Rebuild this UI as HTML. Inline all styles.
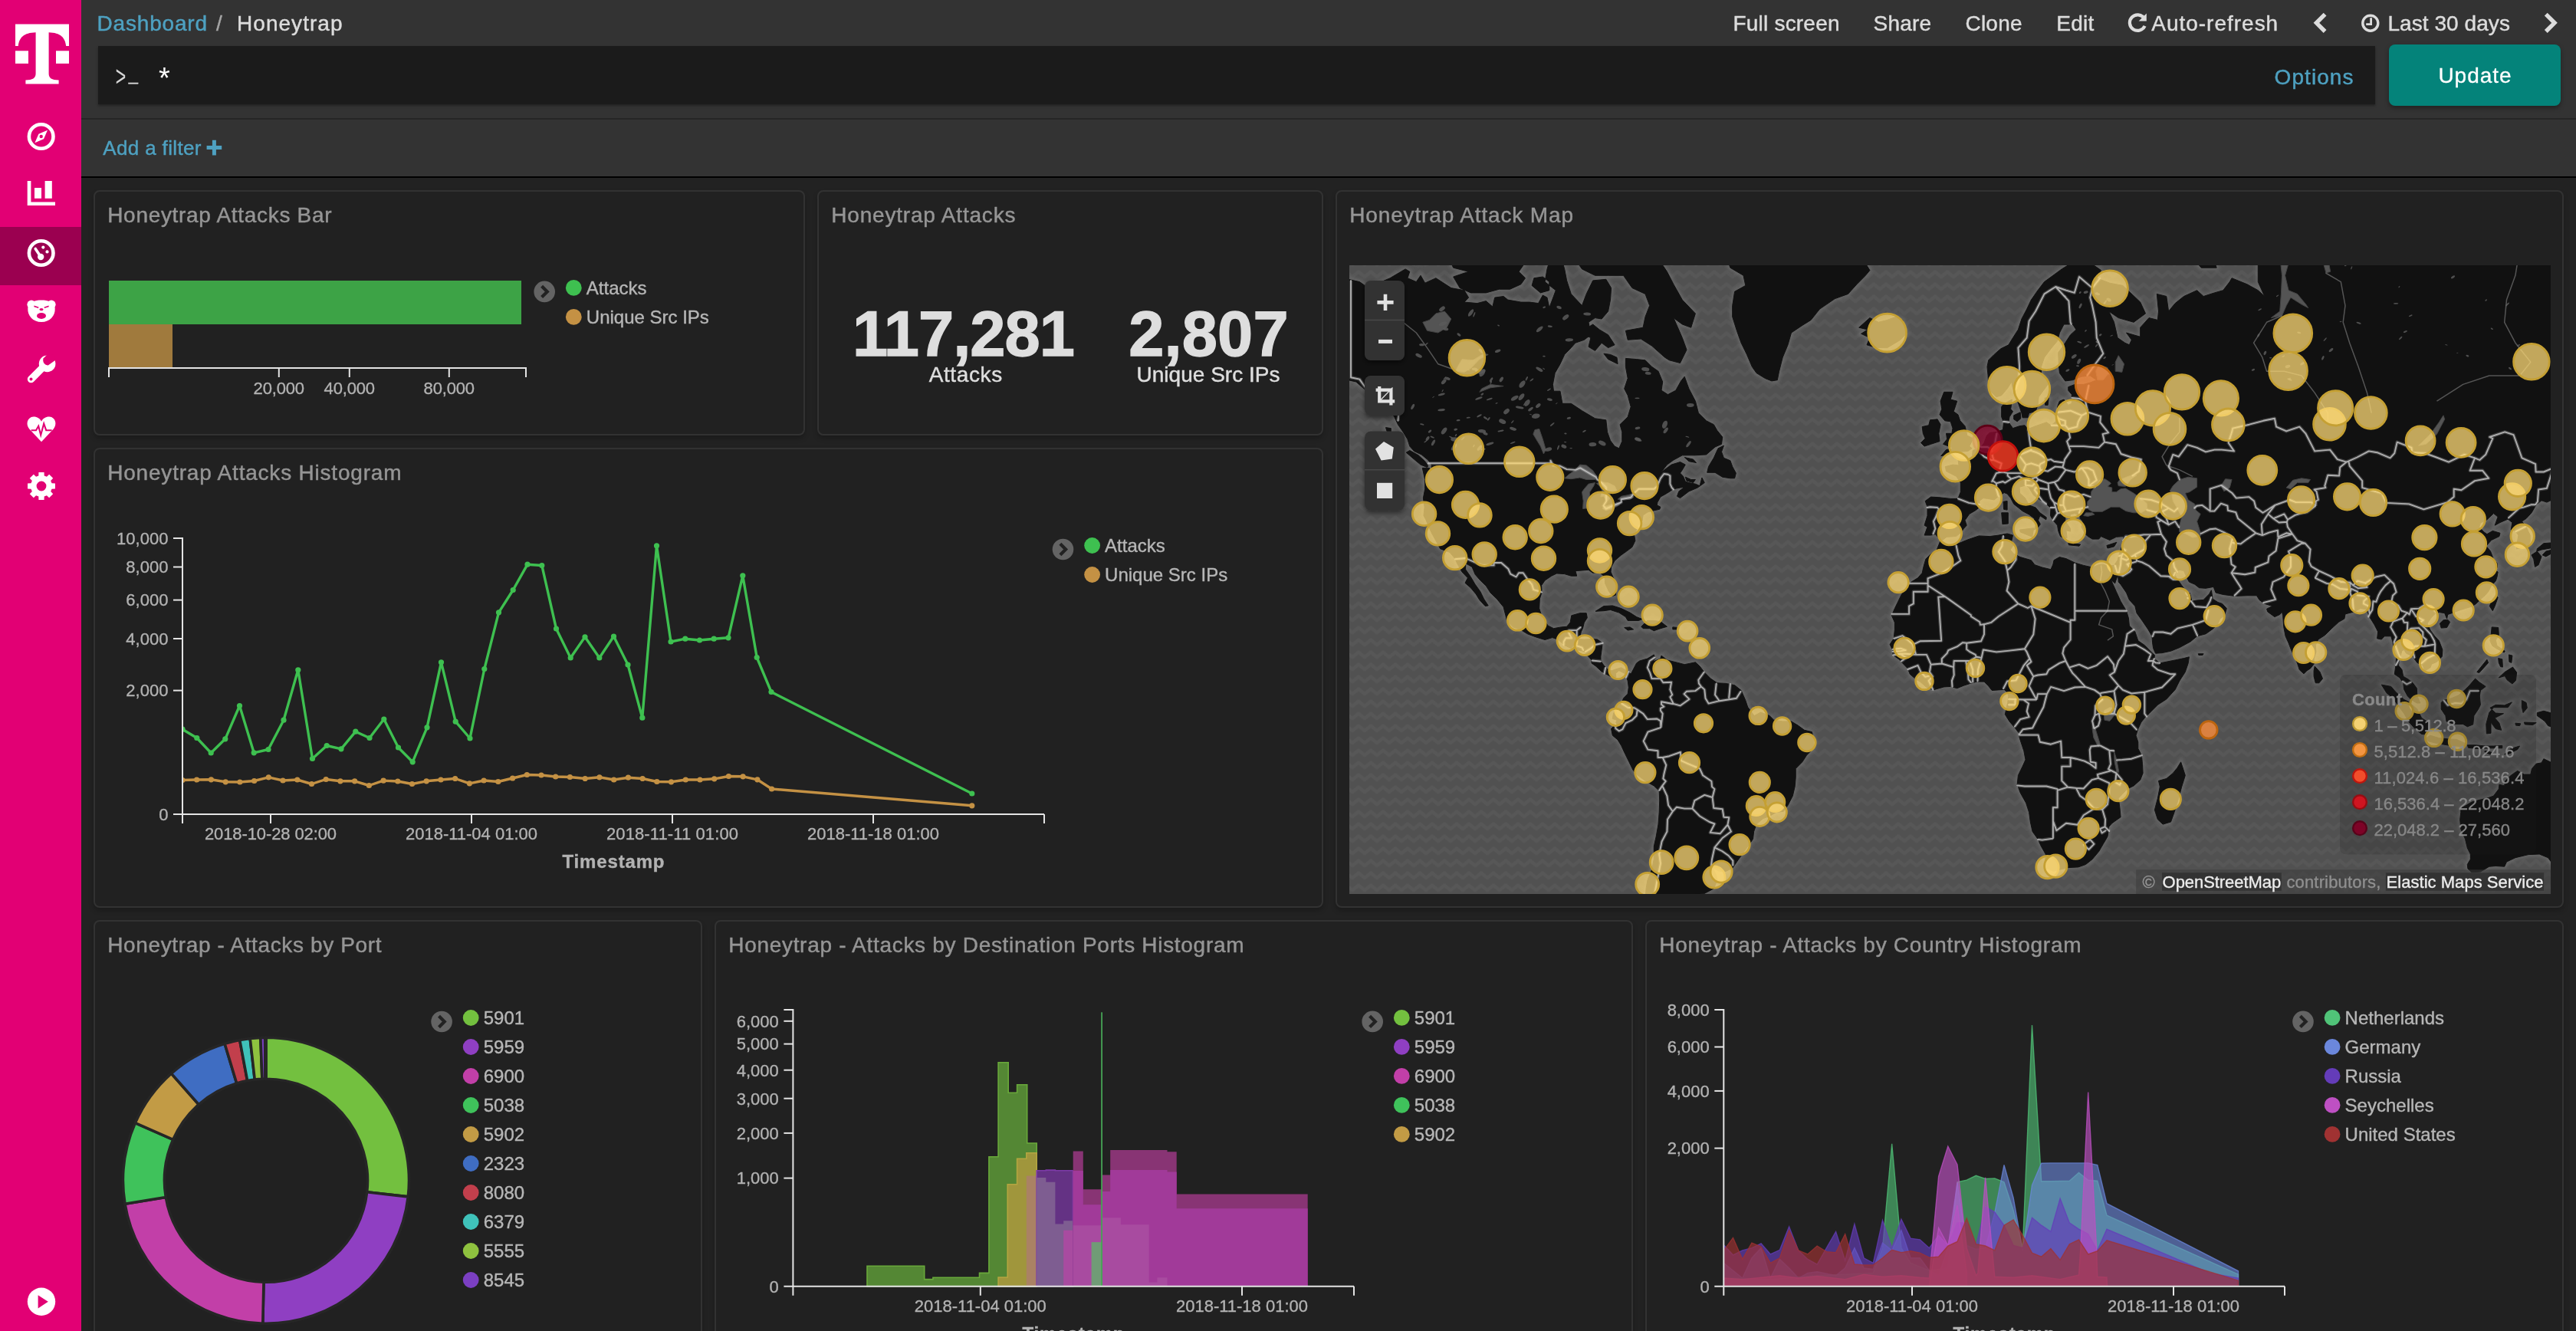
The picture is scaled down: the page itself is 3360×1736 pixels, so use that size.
<!DOCTYPE html><html lang="en"><head><meta charset="utf-8"><title>Honeytrap - Kibana</title><style>
*{box-sizing:border-box;margin:0;padding:0}
html,body{width:3360px;height:1736px;overflow:hidden;background:#222;font-family:"Liberation Sans","DejaVu Sans",sans-serif;color:#ddd}
.abs{position:absolute}
#side{position:absolute;left:0;top:0;width:106px;height:1736px;background:#e20074}
#side .act{position:absolute;left:0;top:296px;width:106px;height:76px;background:#9b0050}
#side svg{position:absolute;left:0;top:0}
#top{position:absolute;left:106px;top:0;width:3254px;height:154px;background:#333}
#sep1{position:absolute;left:106px;top:154px;width:3254px;height:2px;background:#262626}
#filt{position:absolute;left:106px;top:156px;width:3254px;height:74px;background:#333}
#sep2{position:absolute;left:106px;top:230px;width:3254px;height:2px;background:#000}
.t{position:absolute;white-space:nowrap;line-height:1}
.nav{font-size:28px;color:#dcdcdc}
.lnk{color:#4ea1c1}
#qbar{position:absolute;left:128px;top:60px;width:2970px;height:76px;background:#1b1b1b;box-shadow:0 2px 3px rgba(0,0,0,.35)}
#upd{position:absolute;left:3116px;top:58px;width:224px;height:80px;background:#04837a;border-radius:8px;box-shadow:0 3px 6px rgba(0,0,0,.35)}
.panel{position:absolute;background:#212121;border:2px solid #323232;border-radius:8px;box-shadow:0 4px 6px rgba(0,0,0,.22)}
.ptitle{position:absolute;left:17px;top:18px;font-size:28px;line-height:32px;color:#9e9e9e;white-space:nowrap;letter-spacing:.25px}
.leg{position:absolute;font-size:24px;line-height:38px;color:#b6b6b6;white-space:nowrap}
.ax{font-size:22px;fill:#b2b2b2;font-family:"Liberation Sans","DejaVu Sans",sans-serif}
.axb{font-size:24px;font-weight:bold;fill:#b2b2b2;font-family:"Liberation Sans","DejaVu Sans",sans-serif}
svg{overflow:visible}
svg.full{position:absolute;left:0;top:0;width:3360px;height:1736px;pointer-events:none;opacity:.999}
svg.abs{opacity:.999}
</style></head><body>
<div id="side"><div class="act"></div>
<svg width="106" height="1736" viewBox="0 0 106 1736">
<path fill="#fff" d="M20 31.5H90V60H86.2C85 49 79 42.6 63.6 42.2V96C63.6 102 67.5 104.2 76.6 104.6V109.5H33.4V104.6C42.5 104.2 46.6 102 46.6 96V42.2C31 42.6 25 49 23.8 60H20Z"/>
<rect x="20" y="66.3" width="17" height="16.6" fill="#fff"/><rect x="73" y="66.3" width="17" height="16.6" fill="#fff"/>
<circle cx="53.7" cy="178" r="15.8" fill="none" stroke="#fff" stroke-width="4.6"/>
<path fill="#fff" d="M62.0 169.7L57.0 181.3L45.400000000000006 186.3L50.400000000000006 174.7Z"/><circle cx="53.7" cy="178" r="2.2" fill="#e20074"/>
<path fill="#fff" d="M35.7 236H40.4V263.4H72V268H35.7Z"/><rect x="45" y="245" width="9" height="13.8" fill="#fff"/><rect x="58.6" y="236" width="9.2" height="22.8" fill="#fff"/>
<circle cx="53.7" cy="330" r="15.8" fill="none" stroke="#fff" stroke-width="4.6"/>
<circle cx="53.2" cy="335" r="4.2" fill="#fff"/><path d="M53.2 335L46.2 324.5" stroke="#fff" stroke-width="3.6" stroke-linecap="round"/>
<circle cx="56.300000000000004" cy="322.6" r="2.1" fill="#fff"/><circle cx="61.5" cy="328.4" r="2.1" fill="#fff"/>
<g fill="#fff"><circle cx="41" cy="397.2" r="5.6"/><circle cx="67" cy="397.2" r="5.6"/><path d="M36.3 402C37 394 45 391.6 54 391.6S71 394 71.7 402C72.3 412 65 420 54 420S35.7 412 36.3 402Z"/></g>
<g fill="#e20074"><path d="M44.5 398.5L50.5 400.6L50 402L44.3 400.3Z"/><path d="M63.5 398.5L57.5 400.6L58 402L63.7 400.3Z"/><ellipse cx="54" cy="403.6" rx="2.6" ry="1.7"/><ellipse cx="54" cy="412" rx="6" ry="3.9"/></g>
<g><path d="M40.5 494.6L59 476" stroke="#fff" stroke-width="9.4" stroke-linecap="round"/><circle cx="61.6" cy="474.4" r="10.8" fill="#fff"/>
<path d="M61 463L56.5 467.6C55.2 472 58 476.6 62.8 476.6L72.6 469.6L70 462Z" fill="#e20074"/><circle cx="40.5" cy="494.6" r="2" fill="#e20074"/></g>
<path fill="#fff" d="M54 576.2L38.2 559.6C33.2 553.6 35.4 544.2 43.6 543.6C48.2 543.4 52 545.8 54 549.8C56 545.8 59.8 543.4 64.4 543.6C72.6 544.2 74.8 553.6 69.8 559.6Z"/>
<path d="M40.6 561.2H47L50.2 555.8L53.2 567.4L57.2 552.6L60.2 561.2H67.6" fill="none" stroke="#e20074" stroke-width="2.1"/>
<path d="M50.31 620.50 L50.43 616.05 L57.57 616.05 L57.69 620.50 L60.94 621.84 L64.17 618.78 L69.22 623.83 L66.16 627.06 L67.50 630.31 L71.95 630.43 L71.95 637.57 L67.50 637.69 L66.16 640.94 L69.22 644.17 L64.17 649.22 L60.94 646.16 L57.69 647.50 L57.57 651.95 L50.43 651.95 L50.31 647.50 L47.06 646.16 L43.83 649.22 L38.78 644.17 L41.84 640.94 L40.50 637.69 L36.05 637.57 L36.05 630.43 L40.50 630.31 L41.84 627.06 L38.78 623.83 L43.83 618.78 L47.06 621.84Z M47.60 634.00 a6.4 6.4 0 1 0 12.8 0 a6.4 6.4 0 1 0 -12.8 0Z" fill="#fff" fill-rule="evenodd"/>
<circle cx="54" cy="1697.7" r="18.2" fill="#fff"/><path d="M49.6 1689.2V1706.4L62.8 1697.8Z" fill="#e20074"/>
</svg></div>
<div id="top"></div><div id="sep1"></div><div id="filt"></div><div id="sep2"></div>
<div id="qbar"></div><div id="upd"></div>
<svg class="full" viewBox="0 0 3360 1736" font-family='"Liberation Sans","DejaVu Sans",sans-serif'>
<text x="126.5" y="39.8" font-size="28" fill="#4ea1c1" textLength="143.6" lengthAdjust="spacing" stroke="#4ea1c1" stroke-width="0.45">Dashboard</text>
<text x="282.0" y="39.8" font-size="28" fill="#a5a5a5" stroke="#a5a5a5" stroke-width="0.45">/</text>
<text x="309.0" y="39.8" font-size="28" fill="#dcdcdc" textLength="137.5" lengthAdjust="spacing" stroke="#dcdcdc" stroke-width="0.45">Honeytrap</text>
<text x="2260.5" y="39.8" font-size="28" fill="#dcdcdc" textLength="139.0" lengthAdjust="spacing" stroke="#dcdcdc" stroke-width="0.45">Full screen</text>
<text x="2443.5" y="39.8" font-size="28" fill="#dcdcdc" textLength="75.6" lengthAdjust="spacing" stroke="#dcdcdc" stroke-width="0.45">Share</text>
<text x="2563.5" y="39.8" font-size="28" fill="#dcdcdc" textLength="74.0" lengthAdjust="spacing" stroke="#dcdcdc" stroke-width="0.45">Clone</text>
<text x="2682.3" y="39.8" font-size="28" fill="#dcdcdc" textLength="49.0" lengthAdjust="spacing" stroke="#dcdcdc" stroke-width="0.45">Edit</text>
<path d="M2796.5 23.5A10.3 10.3 0 1 0 2797.6 33.8" fill="none" stroke="#dcdcdc" stroke-width="4.2"/><path d="M2799.8 17.4V27.6H2789.6Z" fill="#dcdcdc"/>
<text x="2806.2" y="39.8" font-size="28" fill="#dcdcdc" textLength="165.0" lengthAdjust="spacing" stroke="#dcdcdc" stroke-width="0.45">Auto-refresh</text>
<path d="M3032.6 18.6L3021.4 29.8L3032.6 41" fill="none" stroke="#dcdcdc" stroke-width="5.4"/>
<path d="M3320.8 18.6L3332 29.8L3320.8 41" fill="none" stroke="#dcdcdc" stroke-width="5.4"/>
<circle cx="3091.8" cy="30.2" r="10" fill="none" stroke="#dcdcdc" stroke-width="3.4"/><path d="M3092.6 23.2V31.6H3086.2" fill="none" stroke="#dcdcdc" stroke-width="2.8"/>
<text x="3114.4" y="39.8" font-size="28" fill="#dcdcdc" textLength="159.5" lengthAdjust="spacing" stroke="#dcdcdc" stroke-width="0.45">Last 30 days</text>
<text x="150.6" y="112.4" font-size="36" fill="#d6d6d6" textLength="14" lengthAdjust="spacingAndGlyphs" font-family='"Liberation Mono","DejaVu Sans Mono",monospace'>&gt;</text>
<text x="167.6" y="106.4" font-size="26" fill="#d6d6d6" stroke="#d6d6d6" stroke-width=".5" textLength="12.6" lengthAdjust="spacingAndGlyphs" font-family='"Liberation Mono","DejaVu Sans Mono",monospace'>_</text>
<text x="203" y="115.6" font-size="38" fill="#fff" font-family='"Liberation Mono","DejaVu Sans Mono",monospace'>*</text>
<text x="2966.6" y="110.2" font-size="28" fill="#4ea1c1" textLength="102.8" lengthAdjust="spacing" stroke="#4ea1c1" stroke-width="0.45">Options</text>
<text x="3180.4" y="107.6" font-size="28" fill="#fff" textLength="95.2" lengthAdjust="spacing" stroke="#fff" stroke-width=".3">Update</text>
<text x="134.2" y="201.8" font-size="26" fill="#4ea1c1" textLength="128.3" lengthAdjust="spacing" stroke="#4ea1c1" stroke-width="0.42">Add a filter</text>
<path d="M269.6 192.6H289.2M279.4 182.8V202.4" stroke="#4ea1c1" stroke-width="5"/>
</svg>
<div class="panel" id="p1" style="left:122px;top:248px;width:928px;height:320px"></div>
<div class="panel" id="p2" style="left:1066px;top:248px;width:660px;height:320px"></div>
<div class="panel" id="p3" style="left:1742px;top:248px;width:1602px;height:936px"></div>
<div class="panel" id="p4" style="left:122px;top:584px;width:1604px;height:600px"></div>
<div class="panel" id="p5" style="left:122px;top:1200px;width:794px;height:600px"></div>
<div class="panel" id="p6" style="left:932px;top:1200px;width:1198px;height:600px"></div>
<div class="panel" id="p7" style="left:2146px;top:1200px;width:1198px;height:600px"></div>
<svg class="abs" style="left:1760px;top:346px" width="1567" height="820" viewBox="1760 346 1567 820" font-family='"Liberation Sans","DejaVu Sans",sans-serif'>
<defs><pattern id="wv" width="16" height="16" patternUnits="userSpaceOnUse" x="1768" y="350.6"><rect width="16" height="16" fill="#515151"/><path d="M-4 10.5L4 4L12 10.5L20 4" fill="none" stroke="#575757" stroke-width="4.2" stroke-linejoin="round"/></pattern>
<clipPath id="mc"><rect x="1760" y="346" width="1567" height="820"/></clipPath>
<filter id="gl" x="-5%" y="-5%" width="110%" height="110%"><feGaussianBlur stdDeviation="2.2"/></filter></defs>
<g clip-path="url(#mc)">
<rect x="1760" y="346" width="1567" height="820" fill="url(#wv)"/>
<path d="M1758.6 364.3L1773.3 367.6L1784.7 375.6L1793.3 370.8L1801.8 367.6L1813.2 362.7L1824.5 356.0L1833.1 350.9L1838.8 354.3L1835.9 362.7L1847.3 367.6L1853.0 359.3L1858.7 369.2L1872.9 362.7L1892.8 375.6L1909.9 378.7L1915.6 388.1L1909.9 394.1L1926.9 395.6L1938.3 392.6L1946.9 400.1L1949.7 388.1L1961.1 386.5L1966.8 391.1L1983.8 394.1L1995.2 394.1L2006.6 395.6L2012.3 385.0L2018.0 388.1L2020.8 401.6L2029.3 378.7L2015.1 367.6L2018.0 350.9L2023.7 331.6L2035.0 331.6L2040.7 350.9L2043.6 365.9L2049.3 383.4L2063.5 398.6L2069.2 383.4L2077.7 365.9L2094.8 364.3L2101.6 375.6L2100.5 391.1L2097.6 406.0L2089.1 416.0L2080.5 414.6L2072.0 420.3L2074.9 436.7L2066.3 443.3L2054.9 447.2L2049.3 453.6L2040.7 462.4L2035.0 474.7L2028.2 486.5L2025.4 501.4L2026.5 510.2L2035.0 510.2L2037.9 526.3L2049.3 526.3L2063.5 535.7L2080.5 545.8L2094.8 547.8L2096.5 563.4L2100.5 574.7L2106.1 582.1L2111.8 584.8L2115.8 575.6L2115.8 563.4L2113.0 553.7L2123.2 543.8L2127.2 530.5L2123.2 515.7L2118.7 506.9L2123.2 493.5L2120.4 478.3L2120.4 467.4L2134.6 468.6L2146.0 469.8L2154.5 478.3L2163.0 484.2L2168.7 498.0L2167.0 509.2L2175.5 514.6L2185.8 509.2L2192.6 496.9L2197.2 491.2L2202.9 506.9L2211.4 523.2L2215.4 538.7L2225.6 548.8L2235.3 553.7L2239.8 561.5L2246.7 570.0L2245.5 579.3L2237.0 583.0L2225.6 592.9L2211.4 593.8L2194.3 593.8L2182.9 600.0L2174.4 606.1L2165.9 617.1L2160.2 623.0L2168.7 614.6L2180.1 606.1L2191.5 602.6L2198.3 606.1L2194.3 612.9L2191.5 617.1L2195.5 621.3L2198.3 628.0L2202.9 629.6L2211.4 631.2L2217.1 633.7L2219.9 623.0L2223.3 629.6L2214.2 636.1L2202.9 640.9L2191.5 649.6L2187.5 647.3L2189.8 640.9L2197.2 635.3L2191.5 636.1L2182.9 637.7L2174.4 643.3L2165.9 648.1L2161.9 655.1L2161.3 658.9L2165.9 661.3L2164.7 664.3L2157.3 665.8L2148.8 668.1L2143.1 671.9L2142.0 679.3L2137.4 684.4L2134.6 691.0L2131.7 698.1L2132.9 705.2L2128.9 713.6L2121.5 719.1L2114.7 723.9L2106.1 731.3L2101.6 739.4L2101.0 746.0L2105.6 756.4L2108.4 766.7L2107.3 776.2L2103.3 777.4L2098.7 771.7L2093.6 760.9L2093.1 752.5L2086.2 746.0L2077.7 747.3L2072.0 743.3L2063.5 744.0L2054.9 744.6L2056.7 751.2L2049.3 751.2L2040.7 748.6L2030.5 747.9L2023.7 751.2L2015.1 757.0L2010.6 763.5L2011.1 772.4L2008.3 781.2L2007.7 793.6L2010.6 802.8L2015.1 810.0L2019.1 816.1L2026.5 819.7L2036.2 817.9L2043.6 817.3L2048.1 811.9L2049.8 802.8L2060.6 799.7L2069.2 799.7L2070.3 805.8L2066.3 811.9L2064.6 819.1L2062.3 823.9L2060.6 831.6L2058.4 833.4L2066.3 834.0L2074.9 833.4L2083.4 834.0L2090.2 838.7L2089.1 847.5L2087.9 856.2L2087.9 862.0L2091.9 867.8L2096.5 872.4L2102.2 874.7L2109.0 872.4L2114.7 870.7L2121.5 874.7L2124.3 876.5L2123.2 882.2L2118.7 878.2L2111.8 874.7L2107.3 878.2L2107.9 883.4L2100.5 882.2L2093.1 878.2L2089.1 875.9L2081.7 869.0L2076.0 864.9L2076.0 860.9L2069.2 853.3L2065.2 849.2L2057.8 848.1L2049.3 845.7L2040.7 841.6L2032.2 834.0L2024.8 831.6L2015.1 834.5L2003.7 831.0L1992.4 826.8L1983.8 821.5L1973.6 817.9L1965.6 810.0L1963.9 802.8L1961.1 791.7L1952.5 781.2L1944.0 773.0L1938.3 764.1L1930.9 757.0L1924.1 749.2L1920.1 739.4L1911.6 734.7L1911.6 742.7L1918.4 752.5L1924.1 762.2L1930.9 771.7L1935.5 781.2L1941.2 789.9L1937.2 790.5L1929.8 782.4L1925.2 774.9L1918.4 766.7L1911.0 760.3L1914.4 753.8L1907.0 746.0L1901.3 736.0L1897.4 728.0L1891.1 720.5L1878.6 715.7L1872.9 705.2L1867.8 696.0L1864.4 688.8L1859.8 677.8L1857.0 672.6L1858.1 661.3L1856.4 649.6L1858.7 637.7L1858.7 625.5L1855.3 610.4L1864.4 610.4L1867.2 617.1L1867.2 606.1L1862.7 600.0L1854.1 592.9L1844.5 588.4L1838.8 582.1L1835.9 572.8L1830.2 563.4L1823.4 553.7L1818.9 543.8L1811.5 533.6L1804.6 520.0L1796.1 512.4L1787.6 514.6L1779.0 506.9L1768.8 498.0L1758.6 495.7Z M1861.5 609.5L1853.0 606.1L1844.5 599.1L1834.2 590.2L1838.8 587.5L1850.1 593.8L1858.7 601.7L1862.7 607.8Z M1817.7 575.6L1810.3 566.2L1807.5 557.6L1814.3 558.6L1814.3 568.1Z M2226.7 616.3L2237.0 616.3L2246.7 622.2L2256.9 623.8L2262.6 623.8L2264.3 617.1L2259.7 608.6L2256.9 600.8L2248.4 597.3L2245.5 589.3L2248.4 581.2L2241.0 584.8L2235.3 597.3L2228.5 608.6Z M2197.2 596.5L2208.5 599.1L2212.5 603.5L2202.9 601.7Z M2198.3 622.2L2205.7 625.5L2211.4 625.5L2208.5 629.6L2200.0 627.1Z M1887.1 331.6L1895.7 349.2L1915.6 354.3L1895.7 361.0L1904.2 375.6L1918.4 381.9L1938.3 381.9L1955.4 377.2L1969.6 377.2L1983.8 370.8L1989.5 362.7L1981.0 354.3L1989.5 342.3L1972.5 331.6L1949.7 315.0L1909.9 309.3Z M1850.1 342.3L1864.4 338.8L1875.7 333.4L1884.3 315.0L1858.7 295.6L1847.3 324.4Z M1998.1 372.4L2009.4 381.9L2020.8 378.7L2020.8 367.6L2012.3 361.0L2000.9 362.7Z M1995.2 335.2L2012.3 337.0L2015.1 309.3L1995.2 305.4L1983.8 318.8Z M2052.1 293.6L2109.0 293.6L2131.7 309.3L2160.2 333.4L2174.4 354.3L2182.9 370.8L2194.3 391.1L2211.4 408.9L2205.7 427.2L2194.3 423.0L2182.9 414.6L2194.3 440.6L2200.0 456.2L2191.5 473.5L2177.3 469.8L2171.6 466.2L2154.5 451.1L2140.3 442.0L2123.2 443.3L2120.4 431.3L2143.1 427.2L2146.0 413.2L2151.7 398.6L2146.0 383.4L2128.9 375.6L2117.5 359.3L2097.6 359.3L2080.5 359.3L2063.5 350.9L2054.9 338.8L2052.1 315.0Z M2069.2 428.5L2077.7 423.0L2086.2 429.9L2097.6 436.7L2106.1 449.8L2097.6 453.6L2089.1 447.2L2080.5 457.4L2072.0 452.3L2074.9 440.6L2067.5 436.7Z M2091.9 461.2L2100.5 462.4L2109.0 466.2L2110.1 474.7L2097.6 468.6Z M2234.1 264.1L2245.5 305.4L2251.2 333.4L2256.9 349.2L2274.0 359.3L2276.8 372.4L2262.6 380.3L2259.7 398.6L2259.7 413.2L2265.4 431.3L2271.1 447.2L2278.5 462.4L2285.3 478.3L2291.0 486.5L2302.4 493.5L2310.9 496.9L2318.3 495.7L2320.6 484.2L2325.2 466.2L2332.0 449.8L2336.5 434.0L2350.8 424.4L2362.1 417.4L2373.5 403.1L2393.4 389.6L2410.5 383.4L2421.9 370.8L2433.3 359.3L2438.9 352.6L2430.4 338.8L2438.9 315.0L2450.3 264.1Z M2424.7 427.2L2438.9 414.6L2450.3 420.3L2461.7 417.4L2473.1 413.2L2481.6 417.4L2487.3 434.0L2478.8 443.3L2461.7 453.6L2447.5 453.6L2435.0 449.8L2438.9 440.6L2427.6 435.3L2436.1 429.9Z M2081.1 797.3L2091.9 790.5L2103.3 789.9L2114.7 793.6L2126.1 799.1L2134.6 804.6L2142.0 807.6L2137.4 809.4L2123.2 809.4L2120.4 804.6L2111.8 799.1L2100.5 795.4L2091.9 796.7Z M2140.8 817.3L2148.8 809.4L2157.3 809.4L2165.9 810.7L2174.4 817.3L2165.9 819.7L2157.3 822.7L2151.7 819.7L2143.1 819.7Z M2118.7 818.5L2126.1 817.9L2130.6 820.9L2123.2 822.1Z M2181.8 817.9L2190.3 818.5L2189.8 820.9L2181.8 820.9Z M2124.3 876.5L2127.2 879.3L2134.6 864.9L2138.6 862.0L2148.8 859.1L2157.3 853.9L2159.1 859.1L2155.6 863.2L2165.9 859.1L2167.0 855.1L2174.4 860.9L2188.6 864.4L2197.2 866.7L2211.4 863.8L2217.1 869.0L2222.8 876.5L2231.3 885.1L2239.8 890.8L2251.2 891.4L2262.6 893.7L2271.1 900.5L2276.8 913.6L2279.7 922.2L2282.5 926.1L2288.2 933.5L2296.7 929.0L2308.1 933.5L2313.8 939.2L2325.2 940.9L2336.5 940.9L2345.1 946.1L2353.6 952.3L2363.3 954.6L2366.1 964.9L2365.0 976.4L2356.5 985.1L2350.8 993.8L2342.2 1002.5L2342.2 1014.3L2341.1 1026.1L2338.3 1038.1L2332.0 1050.3L2326.3 1058.3L2316.6 1059.5L2308.1 1064.5L2299.6 1067.6L2291.0 1075.1L2287.6 1084.6L2286.5 1094.3L2279.7 1104.0L2271.1 1116.0L2265.4 1124.1L2259.7 1132.3L2251.2 1136.4L2242.7 1136.4L2234.1 1132.3L2238.7 1141.3L2239.8 1148.3L2235.3 1159.0L2222.8 1165.6L2211.4 1166.3L2209.7 1177.4L2194.3 1181.2L2194.3 1212.3L2148.8 1212.3L2146.0 1173.7L2147.1 1159.0L2148.8 1148.3L2154.5 1134.3L2157.3 1120.7L2157.3 1104.0L2160.2 1091.0L2163.0 1075.1L2164.2 1059.5L2164.7 1044.2L2164.2 1031.5L2157.3 1024.9L2146.0 1018.4L2134.6 1010.1L2130.0 1004.3L2124.9 993.8L2119.2 982.2L2114.7 972.4L2110.1 964.9L2103.3 959.2L2101.6 950.6L2107.3 944.4L2109.0 939.2L2103.3 937.5L2104.4 930.7L2107.9 925.0L2109.0 920.4L2115.2 917.6L2117.5 910.8L2123.2 905.1L2124.3 896.5L2123.2 887.9L2121.5 883.4L2123.2 882.2Z M2510.1 698.1L2514.0 687.3L2510.1 685.2L2514.0 672.6L2514.0 661.3L2511.2 653.5L2518.6 648.1L2530.0 648.8L2544.2 650.4L2553.9 650.4L2557.3 641.7L2557.3 629.6L2551.6 621.3L2538.5 614.6L2537.4 608.6L2547.0 606.1L2555.0 606.9L2553.9 598.2L2557.3 600.8L2565.2 600.0L2572.6 594.7L2573.2 587.5L2578.3 585.7L2584.0 583.0L2588.0 577.5L2591.4 568.1L2595.4 564.3L2603.9 563.4L2612.5 560.5L2613.6 550.8L2610.7 543.8L2610.7 530.5L2613.0 527.4L2619.9 523.2L2624.4 521.0L2622.7 533.6L2625.5 536.7L2621.0 543.8L2619.9 550.8L2625.5 558.6L2634.1 555.7L2640.9 554.7L2645.5 559.5L2655.1 555.7L2669.3 550.8L2675.0 554.7L2680.7 550.8L2683.6 543.8L2683.6 530.5L2686.4 523.2L2692.1 521.0L2697.8 528.4L2702.3 526.3L2702.3 514.6L2697.8 509.2L2697.8 504.7L2706.3 501.4L2717.7 501.4L2726.2 499.1L2734.8 495.7L2726.2 490.0L2714.9 491.2L2703.5 495.7L2693.8 496.9L2686.4 486.5L2685.3 474.7L2684.7 459.9L2692.1 449.8L2700.6 436.7L2708.0 429.9L2703.5 423.0L2692.1 423.0L2686.4 434.0L2683.6 444.6L2675.0 454.9L2666.5 466.2L2662.5 478.3L2662.5 487.7L2669.3 493.5L2671.1 501.4L2665.4 509.2L2659.1 517.8L2658.0 528.4L2655.1 536.7L2646.6 538.7L2644.9 544.8L2638.1 544.8L2636.9 538.7L2635.2 533.6L2631.2 522.1L2627.8 512.4L2625.0 504.7L2623.8 498.0L2618.1 506.9L2610.7 515.7L2603.9 517.8L2596.0 510.2L2593.7 501.4L2593.1 490.0L2592.0 478.3L2593.7 469.8L2601.1 462.4L2609.6 454.9L2619.9 449.8L2625.5 440.6L2632.4 429.9L2636.9 416.0L2643.7 403.1L2649.4 391.1L2658.0 378.7L2666.5 367.6L2677.9 359.3L2689.3 350.9L2706.3 340.5L2723.4 340.5L2740.5 352.6L2734.8 362.7L2751.8 369.2L2768.9 372.4L2791.7 394.1L2798.5 408.9L2783.1 420.3L2763.2 414.6L2750.7 406.0L2757.5 420.3L2762.1 440.6L2771.7 447.2L2777.4 449.8L2780.3 443.3L2773.5 434.0L2791.7 439.3L2791.7 427.2L2803.0 414.6L2814.4 417.4L2815.5 406.0L2813.3 383.4L2825.8 386.5L2828.6 406.0L2837.2 395.6L2848.5 386.5L2865.6 378.7L2874.1 386.5L2888.4 381.9L2899.7 378.7L2908.3 367.6L2911.1 362.7L2931.0 370.8L2945.3 378.7L2953.8 386.5L2945.3 367.6L2945.3 342.3L2950.9 285.4L3343.5 285.4L3343.5 645.7L3332.1 650.4L3321.9 655.1L3315.0 652.8L3307.6 658.9L3302.0 668.8L3295.1 676.3L3289.4 680.0L3295.1 687.3L3300.2 698.1L3300.2 706.6L3298.0 711.5L3289.4 714.3L3282.6 715.7L3283.7 705.2L3284.9 698.1L3280.9 692.4L3275.2 691.0L3276.9 681.5L3271.2 677.1L3261.0 681.5L3254.2 685.2L3258.1 674.1L3252.5 669.6L3243.9 677.8L3235.4 682.2L3233.7 687.3L3239.9 693.9L3243.9 696.7L3251.3 692.4L3261.0 695.3L3259.9 699.6L3249.6 704.5L3242.8 712.2L3248.5 719.1L3251.9 728.0L3257.0 734.7L3257.6 740.0L3252.5 742.7L3258.1 746.0L3257.0 752.5L3255.3 757.7L3249.6 764.1L3245.6 771.7L3241.1 776.8L3235.4 781.8L3229.7 787.4L3224.0 791.1L3215.5 793.6L3209.8 795.4L3201.3 798.5L3192.7 801.5L3191.6 807.0L3188.7 799.7L3181.3 798.5L3175.7 800.9L3171.1 805.8L3166.0 813.1L3170.0 822.1L3175.7 829.8L3181.3 835.7L3185.9 847.5L3185.3 856.2L3178.5 863.2L3171.7 866.1L3170.0 870.7L3162.6 875.3L3160.3 867.8L3152.9 864.4L3147.2 856.2L3138.7 852.2L3135.8 847.5L3133.0 848.6L3130.1 859.1L3128.4 867.8L3133.0 873.6L3134.7 882.2L3141.5 886.2L3147.2 890.8L3152.3 897.7L3152.9 907.9L3156.9 917.0L3152.3 917.0L3144.4 911.9L3140.4 907.9L3135.8 899.4L3134.7 890.8L3130.1 883.9L3123.3 879.3L3124.5 870.7L3125.6 859.1L3122.7 847.5L3120.5 835.7L3118.8 829.8L3110.2 829.8L3106.3 834.0L3100.6 832.8L3101.7 823.9L3097.1 814.9L3090.3 804.0L3086.3 794.8L3078.9 793.6L3070.4 797.9L3059.0 800.9L3057.9 807.0L3050.5 811.3L3042.0 819.1L3032.3 828.6L3023.8 834.0L3020.3 841.6L3020.9 850.4L3018.1 859.1L3018.1 866.1L3013.5 871.9L3009.0 874.7L3005.0 878.8L2999.3 873.6L2996.5 864.9L2992.5 856.2L2988.5 847.5L2985.1 838.7L2981.1 829.8L2978.8 817.9L2978.3 811.9L2977.7 802.8L2976.5 797.9L2973.7 801.5L2966.9 804.6L2957.8 797.9L2956.6 794.2L2964.0 790.5L2953.8 787.4L2947.0 782.4L2943.5 776.8L2931.0 776.8L2915.1 777.4L2899.7 775.5L2890.1 773.0L2887.2 765.4L2877.0 767.3L2868.5 766.7L2862.8 762.2L2855.4 759.0L2851.4 751.2L2848.5 744.6L2842.9 743.3L2838.3 746.0L2837.2 750.5L2841.1 757.0L2845.7 763.5L2849.7 768.6L2849.7 774.3L2853.1 779.3L2855.9 773.0L2857.6 778.0L2858.8 784.3L2865.6 783.0L2874.1 782.4L2881.5 774.9L2884.4 769.8L2886.1 781.2L2892.9 785.5L2898.6 787.4L2904.3 793.6L2901.5 802.8L2895.8 807.0L2892.3 814.9L2885.5 820.9L2877.0 826.8L2865.6 829.8L2857.1 836.9L2842.9 844.6L2831.5 849.2L2820.1 851.6L2811.6 852.2L2808.7 845.7L2807.6 838.7L2807.0 829.8L2801.9 820.9L2794.5 810.0L2787.1 799.7L2784.8 790.5L2777.4 782.4L2773.5 773.0L2766.1 762.2L2763.2 759.0L2762.6 749.2L2759.2 759.0L2758.7 760.9L2753.0 755.7L2749.6 746.6L2747.9 738.0L2757.5 737.4L2762.1 730.7L2764.3 722.5L2767.8 712.2L2768.9 705.2L2770.0 699.6L2760.4 700.3L2751.8 704.5L2740.5 699.6L2737.6 703.1L2729.1 703.1L2723.4 699.6L2719.4 696.0L2714.9 687.3L2716.6 680.0L2713.1 676.3L2713.1 673.4L2706.3 669.6L2700.6 671.1L2699.5 676.3L2693.8 672.6L2693.8 680.0L2696.7 683.7L2700.6 689.5L2700.6 693.1L2694.9 691.7L2696.1 701.7L2692.1 701.7L2687.5 699.6L2684.7 692.4L2683.6 685.2L2677.9 678.6L2674.5 672.6L2675.0 662.8L2669.3 657.4L2660.8 652.0L2652.3 645.7L2646.6 636.1L2642.0 632.9L2634.1 635.3L2634.6 643.3L2641.5 649.6L2646.6 658.9L2655.1 662.0L2660.8 668.8L2669.3 674.8L2668.8 677.8L2660.8 672.6L2658.5 678.6L2661.4 683.7L2658.0 688.1L2653.4 691.0L2655.1 685.2L2653.4 676.3L2646.6 671.1L2638.1 666.6L2633.5 662.8L2626.7 657.4L2622.7 649.6L2618.1 644.1L2614.2 642.5L2606.8 647.3L2601.1 652.0L2592.5 650.4L2586.9 649.6L2581.7 653.5L2582.3 661.3L2576.6 665.8L2568.7 670.4L2563.0 678.6L2565.2 685.2L2561.3 689.5L2558.4 693.9L2551.6 699.6L2539.1 700.3L2532.8 705.2L2528.3 701.0L2524.3 696.7L2518.6 698.1L2512.9 698.1Z M2749.0 746.0L2754.7 759.0L2760.4 771.7L2766.1 784.3L2773.5 796.7L2776.3 805.8L2777.4 816.1L2784.8 823.9L2788.8 835.7L2797.3 841.6L2805.9 850.4L2810.4 854.5L2809.9 859.1L2817.3 864.9L2825.8 863.2L2837.2 860.9L2848.5 858.6L2855.4 856.8L2854.2 864.9L2850.3 876.5L2842.9 887.9L2837.2 899.4L2825.8 911.9L2814.4 919.3L2803.0 930.7L2797.3 936.4L2792.8 942.1L2788.8 950.6L2786.0 959.2L2788.8 967.8L2788.8 976.4L2793.4 985.1L2794.5 996.7L2795.1 1008.4L2791.7 1017.2L2783.1 1024.9L2774.6 1029.1L2768.9 1035.1L2763.2 1041.2L2764.9 1053.3L2766.1 1065.7L2754.7 1073.8L2750.7 1078.3L2749.0 1091.0L2743.3 1100.8L2737.6 1110.6L2729.1 1120.7L2720.5 1127.5L2710.9 1130.9L2697.8 1131.6L2686.4 1134.3L2677.9 1136.4L2669.3 1132.3L2667.6 1122.7L2668.2 1114.0L2662.5 1104.0L2658.0 1094.3L2651.1 1084.6L2648.3 1072.0L2646.6 1059.5L2642.6 1047.2L2635.2 1033.9L2631.2 1023.2L2632.4 1011.3L2638.1 999.6L2642.0 990.9L2639.8 979.3L2634.1 962.1L2633.5 956.3L2628.4 949.5L2621.0 940.9L2615.3 931.8L2617.0 923.9L2618.7 916.5L2619.9 907.9L2618.1 902.8L2614.2 899.4L2606.8 899.9L2598.2 900.5L2593.7 894.8L2588.0 889.1L2578.3 889.1L2569.8 891.4L2561.3 894.2L2552.7 897.7L2544.2 895.4L2535.7 895.9L2521.4 899.9L2512.9 896.5L2504.4 889.1L2498.7 885.7L2491.3 879.3L2488.4 871.9L2481.6 864.9L2477.6 860.3L2469.1 854.5L2468.5 847.5L2465.1 840.4L2470.2 832.8L2471.4 820.9L2471.4 811.9L2467.4 802.8L2471.4 793.6L2475.9 784.3L2480.5 774.9L2487.3 765.4L2493.0 759.0L2501.5 753.8L2507.2 747.3L2508.9 739.4L2511.8 729.3L2518.6 722.5L2526.0 717.7L2530.5 706.6L2533.9 705.9L2541.3 710.8L2549.9 710.8L2558.4 707.3L2566.9 703.8L2581.2 698.9L2595.4 699.6L2606.8 698.1L2618.1 696.0L2625.5 698.1L2623.8 705.2L2626.7 710.1L2622.1 717.0L2626.7 722.5L2635.2 726.6L2649.4 730.7L2654.0 736.7L2663.7 740.0L2675.0 742.7L2677.9 736.0L2679.0 730.7L2686.4 726.6L2694.9 728.6L2706.3 734.0L2717.7 737.4L2729.1 740.0L2737.6 736.7L2743.3 736.0L2747.9 738.0Z M2844.6 993.8L2850.3 1011.3L2848.5 1017.2L2845.7 1026.1L2841.7 1041.2L2836.0 1059.5L2831.5 1072.0L2821.2 1075.1L2814.4 1068.8L2810.4 1056.4L2814.4 1041.2L2817.3 1026.1L2815.5 1018.4L2825.8 1015.5L2834.3 1008.4L2840.0 1001.4Z M3019.2 869.0L3026.0 876.5L3029.5 885.1L3024.9 890.8L3020.3 890.8L3018.1 882.2L3018.1 874.7Z M2531.7 594.7L2541.3 592.9L2547.0 590.2L2555.6 589.3L2566.9 588.4L2572.1 584.8L2568.7 582.1L2573.8 571.9L2565.8 568.1L2564.7 562.4L2563.0 555.7L2556.7 548.8L2553.9 540.8L2548.2 536.7L2552.7 523.2L2544.2 521.0L2547.0 511.3L2535.7 511.3L2531.1 523.2L2532.8 533.6L2530.0 540.8L2536.8 548.8L2544.2 549.8L2547.0 558.6L2545.9 565.3L2538.5 565.3L2539.6 572.8L2534.5 579.3L2544.2 583.0L2547.0 584.8L2538.5 586.6Z M2530.0 575.6L2528.8 565.3L2531.1 553.7L2527.1 546.8L2517.5 547.8L2515.7 554.7L2507.2 556.6L2508.3 565.3L2511.2 571.9L2505.5 577.5L2510.1 582.1L2518.6 579.3Z M2634.6 691.0L2652.8 688.8L2650.6 700.3L2635.2 693.9Z M2610.7 668.8L2619.3 668.8L2619.3 683.0L2611.9 683.7Z M2613.0 654.3L2618.1 653.5L2618.1 665.1L2613.6 664.3Z M2697.8 708.0L2713.7 710.1L2712.0 712.2L2698.4 710.8Z M2747.9 711.5L2760.9 707.3L2757.5 712.9L2749.0 715.0Z M2626.7 541.8L2635.2 537.7L2635.8 545.8L2631.2 549.8L2626.7 546.8Z M2667.1 518.9L2672.2 518.9L2671.1 528.4L2667.6 528.4Z M2857.1 333.4L2871.3 349.2L2891.2 349.2L2882.7 324.4L2894.1 285.4L2871.3 285.4Z M3106.3 893.1L3118.8 895.4L3124.5 902.2L3135.8 912.5L3141.5 915.3L3152.9 925.0L3158.6 936.4L3167.1 942.1L3166.0 958.1L3158.6 957.5L3150.1 950.6L3141.5 940.9L3135.8 930.7L3127.3 919.3L3121.6 910.8L3113.1 903.9Z M3162.6 963.8L3170.0 959.2L3181.3 962.6L3192.7 963.8L3204.1 964.3L3215.5 969.5L3214.3 974.1L3195.6 972.4L3178.5 969.5L3168.8 967.2Z M3184.2 916.5L3187.0 913.6L3197.3 910.8L3206.9 906.8L3215.5 899.4L3221.2 893.7L3228.6 885.1L3233.7 889.7L3242.2 895.4L3235.4 900.5L3234.3 907.9L3235.4 919.3L3232.5 925.0L3226.9 933.5L3225.7 944.9L3218.3 947.8L3212.6 944.4L3201.3 944.4L3191.0 940.9L3189.9 933.5L3184.2 925.0Z M3243.4 956.9L3249.0 956.3L3249.0 942.1L3255.3 950.6L3262.7 952.3L3259.9 943.2L3254.2 936.4L3265.5 930.7L3255.3 930.1L3247.9 923.3L3255.3 919.3L3266.7 919.9L3276.4 915.9L3271.2 922.7L3252.5 922.7L3246.8 929.6L3242.8 944.4Z M3250.2 817.9L3258.7 818.5L3259.3 828.0L3255.3 835.1L3257.0 842.2L3267.2 849.2L3266.1 851.0L3255.9 845.7L3250.8 842.2L3247.9 835.7L3249.0 829.8Z M3259.3 883.9L3267.2 876.5L3277.5 870.1L3282.6 877.0L3281.5 887.4L3276.9 891.9L3270.1 886.8L3267.2 881.6Z M3272.4 853.9L3276.9 855.1L3275.8 864.4L3272.9 863.2Z M3258.7 858.6L3263.8 859.7L3264.4 870.1L3261.6 869.6L3259.3 864.4Z M3230.8 876.5L3243.9 860.3L3245.6 864.4L3233.7 877.6Z M3255.3 776.2L3258.1 779.3L3254.2 790.5L3251.3 796.7L3247.3 790.5L3251.3 781.2Z M3192.7 808.2L3195.6 811.3L3191.6 818.5L3184.2 819.1L3182.5 813.1L3187.0 808.8Z M3302.0 723.9L3309.3 719.1L3315.0 725.9L3311.1 736.7L3306.5 739.4L3304.8 729.3Z M3308.8 719.1L3315.0 717.0L3326.4 715.0L3337.8 715.7L3337.8 706.6L3326.4 708.0L3317.9 708.7L3309.3 715.7Z M3316.2 723.9L3320.7 719.1L3329.3 717.0L3329.3 721.2L3320.7 725.9Z M3218.3 971.8L3229.7 971.8L3241.1 973.0L3252.5 973.0L3263.8 972.4L3263.8 975.8L3246.8 975.8L3229.7 976.4L3219.5 975.3Z M3266.7 983.9L3275.2 976.4L3286.6 973.0L3283.7 977.6L3272.4 983.3Z M3241.1 979.3L3251.3 981.6L3247.9 983.9L3241.1 981.0Z M3289.4 913.6L3295.1 916.5L3296.3 923.3L3291.1 929.6L3289.4 922.2Z M3292.3 942.1L3308.2 942.6L3303.7 945.5L3293.4 944.9Z M3280.9 943.2L3287.7 943.8L3286.6 946.6L3281.5 946.1Z M3309.3 929.6L3317.9 927.3L3326.4 929.6L3343.5 933.5L3343.5 950.6L3332.1 949.5L3323.6 946.6L3319.6 940.9L3315.0 937.5L3309.3 933.5Z M3209.8 1053.3L3213.8 1052.1L3224.0 1046.0L3235.4 1043.0L3243.9 1041.2L3252.5 1038.1L3259.3 1029.1L3259.9 1023.2L3266.7 1024.9L3267.8 1018.4L3275.2 1011.3L3283.7 1005.4L3292.3 1010.1L3300.8 1010.1L3302.5 1002.5L3308.2 996.1L3315.0 994.9L3317.9 989.7L3326.4 993.8L3343.5 993.8L3343.5 1144.8L3334.9 1136.4L3327.6 1124.1L3323.6 1118.7L3312.2 1114.0L3298.0 1114.6L3280.9 1118.7L3269.5 1124.1L3266.7 1130.2L3255.3 1129.5L3246.8 1130.2L3235.4 1137.1L3224.0 1137.8L3218.9 1133.0L3218.3 1127.5L3222.3 1120.7L3222.3 1114.0L3218.3 1106.0L3215.5 1094.3L3209.8 1081.4L3208.7 1068.8L3209.8 1059.5Z M2867.3 852.7L2874.1 852.7L2873.0 854.5L2867.9 854.5Z" fill="none" stroke="#787878" stroke-width="6" stroke-opacity=".55" filter="url(#gl)"/>
<path d="M1758.6 364.3L1773.3 367.6L1784.7 375.6L1793.3 370.8L1801.8 367.6L1813.2 362.7L1824.5 356.0L1833.1 350.9L1838.8 354.3L1835.9 362.7L1847.3 367.6L1853.0 359.3L1858.7 369.2L1872.9 362.7L1892.8 375.6L1909.9 378.7L1915.6 388.1L1909.9 394.1L1926.9 395.6L1938.3 392.6L1946.9 400.1L1949.7 388.1L1961.1 386.5L1966.8 391.1L1983.8 394.1L1995.2 394.1L2006.6 395.6L2012.3 385.0L2018.0 388.1L2020.8 401.6L2029.3 378.7L2015.1 367.6L2018.0 350.9L2023.7 331.6L2035.0 331.6L2040.7 350.9L2043.6 365.9L2049.3 383.4L2063.5 398.6L2069.2 383.4L2077.7 365.9L2094.8 364.3L2101.6 375.6L2100.5 391.1L2097.6 406.0L2089.1 416.0L2080.5 414.6L2072.0 420.3L2074.9 436.7L2066.3 443.3L2054.9 447.2L2049.3 453.6L2040.7 462.4L2035.0 474.7L2028.2 486.5L2025.4 501.4L2026.5 510.2L2035.0 510.2L2037.9 526.3L2049.3 526.3L2063.5 535.7L2080.5 545.8L2094.8 547.8L2096.5 563.4L2100.5 574.7L2106.1 582.1L2111.8 584.8L2115.8 575.6L2115.8 563.4L2113.0 553.7L2123.2 543.8L2127.2 530.5L2123.2 515.7L2118.7 506.9L2123.2 493.5L2120.4 478.3L2120.4 467.4L2134.6 468.6L2146.0 469.8L2154.5 478.3L2163.0 484.2L2168.7 498.0L2167.0 509.2L2175.5 514.6L2185.8 509.2L2192.6 496.9L2197.2 491.2L2202.9 506.9L2211.4 523.2L2215.4 538.7L2225.6 548.8L2235.3 553.7L2239.8 561.5L2246.7 570.0L2245.5 579.3L2237.0 583.0L2225.6 592.9L2211.4 593.8L2194.3 593.8L2182.9 600.0L2174.4 606.1L2165.9 617.1L2160.2 623.0L2168.7 614.6L2180.1 606.1L2191.5 602.6L2198.3 606.1L2194.3 612.9L2191.5 617.1L2195.5 621.3L2198.3 628.0L2202.9 629.6L2211.4 631.2L2217.1 633.7L2219.9 623.0L2223.3 629.6L2214.2 636.1L2202.9 640.9L2191.5 649.6L2187.5 647.3L2189.8 640.9L2197.2 635.3L2191.5 636.1L2182.9 637.7L2174.4 643.3L2165.9 648.1L2161.9 655.1L2161.3 658.9L2165.9 661.3L2164.7 664.3L2157.3 665.8L2148.8 668.1L2143.1 671.9L2142.0 679.3L2137.4 684.4L2134.6 691.0L2131.7 698.1L2132.9 705.2L2128.9 713.6L2121.5 719.1L2114.7 723.9L2106.1 731.3L2101.6 739.4L2101.0 746.0L2105.6 756.4L2108.4 766.7L2107.3 776.2L2103.3 777.4L2098.7 771.7L2093.6 760.9L2093.1 752.5L2086.2 746.0L2077.7 747.3L2072.0 743.3L2063.5 744.0L2054.9 744.6L2056.7 751.2L2049.3 751.2L2040.7 748.6L2030.5 747.9L2023.7 751.2L2015.1 757.0L2010.6 763.5L2011.1 772.4L2008.3 781.2L2007.7 793.6L2010.6 802.8L2015.1 810.0L2019.1 816.1L2026.5 819.7L2036.2 817.9L2043.6 817.3L2048.1 811.9L2049.8 802.8L2060.6 799.7L2069.2 799.7L2070.3 805.8L2066.3 811.9L2064.6 819.1L2062.3 823.9L2060.6 831.6L2058.4 833.4L2066.3 834.0L2074.9 833.4L2083.4 834.0L2090.2 838.7L2089.1 847.5L2087.9 856.2L2087.9 862.0L2091.9 867.8L2096.5 872.4L2102.2 874.7L2109.0 872.4L2114.7 870.7L2121.5 874.7L2124.3 876.5L2123.2 882.2L2118.7 878.2L2111.8 874.7L2107.3 878.2L2107.9 883.4L2100.5 882.2L2093.1 878.2L2089.1 875.9L2081.7 869.0L2076.0 864.9L2076.0 860.9L2069.2 853.3L2065.2 849.2L2057.8 848.1L2049.3 845.7L2040.7 841.6L2032.2 834.0L2024.8 831.6L2015.1 834.5L2003.7 831.0L1992.4 826.8L1983.8 821.5L1973.6 817.9L1965.6 810.0L1963.9 802.8L1961.1 791.7L1952.5 781.2L1944.0 773.0L1938.3 764.1L1930.9 757.0L1924.1 749.2L1920.1 739.4L1911.6 734.7L1911.6 742.7L1918.4 752.5L1924.1 762.2L1930.9 771.7L1935.5 781.2L1941.2 789.9L1937.2 790.5L1929.8 782.4L1925.2 774.9L1918.4 766.7L1911.0 760.3L1914.4 753.8L1907.0 746.0L1901.3 736.0L1897.4 728.0L1891.1 720.5L1878.6 715.7L1872.9 705.2L1867.8 696.0L1864.4 688.8L1859.8 677.8L1857.0 672.6L1858.1 661.3L1856.4 649.6L1858.7 637.7L1858.7 625.5L1855.3 610.4L1864.4 610.4L1867.2 617.1L1867.2 606.1L1862.7 600.0L1854.1 592.9L1844.5 588.4L1838.8 582.1L1835.9 572.8L1830.2 563.4L1823.4 553.7L1818.9 543.8L1811.5 533.6L1804.6 520.0L1796.1 512.4L1787.6 514.6L1779.0 506.9L1768.8 498.0L1758.6 495.7Z M1861.5 609.5L1853.0 606.1L1844.5 599.1L1834.2 590.2L1838.8 587.5L1850.1 593.8L1858.7 601.7L1862.7 607.8Z M1817.7 575.6L1810.3 566.2L1807.5 557.6L1814.3 558.6L1814.3 568.1Z M2226.7 616.3L2237.0 616.3L2246.7 622.2L2256.9 623.8L2262.6 623.8L2264.3 617.1L2259.7 608.6L2256.9 600.8L2248.4 597.3L2245.5 589.3L2248.4 581.2L2241.0 584.8L2235.3 597.3L2228.5 608.6Z M2197.2 596.5L2208.5 599.1L2212.5 603.5L2202.9 601.7Z M2198.3 622.2L2205.7 625.5L2211.4 625.5L2208.5 629.6L2200.0 627.1Z M1887.1 331.6L1895.7 349.2L1915.6 354.3L1895.7 361.0L1904.2 375.6L1918.4 381.9L1938.3 381.9L1955.4 377.2L1969.6 377.2L1983.8 370.8L1989.5 362.7L1981.0 354.3L1989.5 342.3L1972.5 331.6L1949.7 315.0L1909.9 309.3Z M1850.1 342.3L1864.4 338.8L1875.7 333.4L1884.3 315.0L1858.7 295.6L1847.3 324.4Z M1998.1 372.4L2009.4 381.9L2020.8 378.7L2020.8 367.6L2012.3 361.0L2000.9 362.7Z M1995.2 335.2L2012.3 337.0L2015.1 309.3L1995.2 305.4L1983.8 318.8Z M2052.1 293.6L2109.0 293.6L2131.7 309.3L2160.2 333.4L2174.4 354.3L2182.9 370.8L2194.3 391.1L2211.4 408.9L2205.7 427.2L2194.3 423.0L2182.9 414.6L2194.3 440.6L2200.0 456.2L2191.5 473.5L2177.3 469.8L2171.6 466.2L2154.5 451.1L2140.3 442.0L2123.2 443.3L2120.4 431.3L2143.1 427.2L2146.0 413.2L2151.7 398.6L2146.0 383.4L2128.9 375.6L2117.5 359.3L2097.6 359.3L2080.5 359.3L2063.5 350.9L2054.9 338.8L2052.1 315.0Z M2069.2 428.5L2077.7 423.0L2086.2 429.9L2097.6 436.7L2106.1 449.8L2097.6 453.6L2089.1 447.2L2080.5 457.4L2072.0 452.3L2074.9 440.6L2067.5 436.7Z M2091.9 461.2L2100.5 462.4L2109.0 466.2L2110.1 474.7L2097.6 468.6Z M2234.1 264.1L2245.5 305.4L2251.2 333.4L2256.9 349.2L2274.0 359.3L2276.8 372.4L2262.6 380.3L2259.7 398.6L2259.7 413.2L2265.4 431.3L2271.1 447.2L2278.5 462.4L2285.3 478.3L2291.0 486.5L2302.4 493.5L2310.9 496.9L2318.3 495.7L2320.6 484.2L2325.2 466.2L2332.0 449.8L2336.5 434.0L2350.8 424.4L2362.1 417.4L2373.5 403.1L2393.4 389.6L2410.5 383.4L2421.9 370.8L2433.3 359.3L2438.9 352.6L2430.4 338.8L2438.9 315.0L2450.3 264.1Z M2424.7 427.2L2438.9 414.6L2450.3 420.3L2461.7 417.4L2473.1 413.2L2481.6 417.4L2487.3 434.0L2478.8 443.3L2461.7 453.6L2447.5 453.6L2435.0 449.8L2438.9 440.6L2427.6 435.3L2436.1 429.9Z M2081.1 797.3L2091.9 790.5L2103.3 789.9L2114.7 793.6L2126.1 799.1L2134.6 804.6L2142.0 807.6L2137.4 809.4L2123.2 809.4L2120.4 804.6L2111.8 799.1L2100.5 795.4L2091.9 796.7Z M2140.8 817.3L2148.8 809.4L2157.3 809.4L2165.9 810.7L2174.4 817.3L2165.9 819.7L2157.3 822.7L2151.7 819.7L2143.1 819.7Z M2118.7 818.5L2126.1 817.9L2130.6 820.9L2123.2 822.1Z M2181.8 817.9L2190.3 818.5L2189.8 820.9L2181.8 820.9Z M2124.3 876.5L2127.2 879.3L2134.6 864.9L2138.6 862.0L2148.8 859.1L2157.3 853.9L2159.1 859.1L2155.6 863.2L2165.9 859.1L2167.0 855.1L2174.4 860.9L2188.6 864.4L2197.2 866.7L2211.4 863.8L2217.1 869.0L2222.8 876.5L2231.3 885.1L2239.8 890.8L2251.2 891.4L2262.6 893.7L2271.1 900.5L2276.8 913.6L2279.7 922.2L2282.5 926.1L2288.2 933.5L2296.7 929.0L2308.1 933.5L2313.8 939.2L2325.2 940.9L2336.5 940.9L2345.1 946.1L2353.6 952.3L2363.3 954.6L2366.1 964.9L2365.0 976.4L2356.5 985.1L2350.8 993.8L2342.2 1002.5L2342.2 1014.3L2341.1 1026.1L2338.3 1038.1L2332.0 1050.3L2326.3 1058.3L2316.6 1059.5L2308.1 1064.5L2299.6 1067.6L2291.0 1075.1L2287.6 1084.6L2286.5 1094.3L2279.7 1104.0L2271.1 1116.0L2265.4 1124.1L2259.7 1132.3L2251.2 1136.4L2242.7 1136.4L2234.1 1132.3L2238.7 1141.3L2239.8 1148.3L2235.3 1159.0L2222.8 1165.6L2211.4 1166.3L2209.7 1177.4L2194.3 1181.2L2194.3 1212.3L2148.8 1212.3L2146.0 1173.7L2147.1 1159.0L2148.8 1148.3L2154.5 1134.3L2157.3 1120.7L2157.3 1104.0L2160.2 1091.0L2163.0 1075.1L2164.2 1059.5L2164.7 1044.2L2164.2 1031.5L2157.3 1024.9L2146.0 1018.4L2134.6 1010.1L2130.0 1004.3L2124.9 993.8L2119.2 982.2L2114.7 972.4L2110.1 964.9L2103.3 959.2L2101.6 950.6L2107.3 944.4L2109.0 939.2L2103.3 937.5L2104.4 930.7L2107.9 925.0L2109.0 920.4L2115.2 917.6L2117.5 910.8L2123.2 905.1L2124.3 896.5L2123.2 887.9L2121.5 883.4L2123.2 882.2Z M2510.1 698.1L2514.0 687.3L2510.1 685.2L2514.0 672.6L2514.0 661.3L2511.2 653.5L2518.6 648.1L2530.0 648.8L2544.2 650.4L2553.9 650.4L2557.3 641.7L2557.3 629.6L2551.6 621.3L2538.5 614.6L2537.4 608.6L2547.0 606.1L2555.0 606.9L2553.9 598.2L2557.3 600.8L2565.2 600.0L2572.6 594.7L2573.2 587.5L2578.3 585.7L2584.0 583.0L2588.0 577.5L2591.4 568.1L2595.4 564.3L2603.9 563.4L2612.5 560.5L2613.6 550.8L2610.7 543.8L2610.7 530.5L2613.0 527.4L2619.9 523.2L2624.4 521.0L2622.7 533.6L2625.5 536.7L2621.0 543.8L2619.9 550.8L2625.5 558.6L2634.1 555.7L2640.9 554.7L2645.5 559.5L2655.1 555.7L2669.3 550.8L2675.0 554.7L2680.7 550.8L2683.6 543.8L2683.6 530.5L2686.4 523.2L2692.1 521.0L2697.8 528.4L2702.3 526.3L2702.3 514.6L2697.8 509.2L2697.8 504.7L2706.3 501.4L2717.7 501.4L2726.2 499.1L2734.8 495.7L2726.2 490.0L2714.9 491.2L2703.5 495.7L2693.8 496.9L2686.4 486.5L2685.3 474.7L2684.7 459.9L2692.1 449.8L2700.6 436.7L2708.0 429.9L2703.5 423.0L2692.1 423.0L2686.4 434.0L2683.6 444.6L2675.0 454.9L2666.5 466.2L2662.5 478.3L2662.5 487.7L2669.3 493.5L2671.1 501.4L2665.4 509.2L2659.1 517.8L2658.0 528.4L2655.1 536.7L2646.6 538.7L2644.9 544.8L2638.1 544.8L2636.9 538.7L2635.2 533.6L2631.2 522.1L2627.8 512.4L2625.0 504.7L2623.8 498.0L2618.1 506.9L2610.7 515.7L2603.9 517.8L2596.0 510.2L2593.7 501.4L2593.1 490.0L2592.0 478.3L2593.7 469.8L2601.1 462.4L2609.6 454.9L2619.9 449.8L2625.5 440.6L2632.4 429.9L2636.9 416.0L2643.7 403.1L2649.4 391.1L2658.0 378.7L2666.5 367.6L2677.9 359.3L2689.3 350.9L2706.3 340.5L2723.4 340.5L2740.5 352.6L2734.8 362.7L2751.8 369.2L2768.9 372.4L2791.7 394.1L2798.5 408.9L2783.1 420.3L2763.2 414.6L2750.7 406.0L2757.5 420.3L2762.1 440.6L2771.7 447.2L2777.4 449.8L2780.3 443.3L2773.5 434.0L2791.7 439.3L2791.7 427.2L2803.0 414.6L2814.4 417.4L2815.5 406.0L2813.3 383.4L2825.8 386.5L2828.6 406.0L2837.2 395.6L2848.5 386.5L2865.6 378.7L2874.1 386.5L2888.4 381.9L2899.7 378.7L2908.3 367.6L2911.1 362.7L2931.0 370.8L2945.3 378.7L2953.8 386.5L2945.3 367.6L2945.3 342.3L2950.9 285.4L3343.5 285.4L3343.5 645.7L3332.1 650.4L3321.9 655.1L3315.0 652.8L3307.6 658.9L3302.0 668.8L3295.1 676.3L3289.4 680.0L3295.1 687.3L3300.2 698.1L3300.2 706.6L3298.0 711.5L3289.4 714.3L3282.6 715.7L3283.7 705.2L3284.9 698.1L3280.9 692.4L3275.2 691.0L3276.9 681.5L3271.2 677.1L3261.0 681.5L3254.2 685.2L3258.1 674.1L3252.5 669.6L3243.9 677.8L3235.4 682.2L3233.7 687.3L3239.9 693.9L3243.9 696.7L3251.3 692.4L3261.0 695.3L3259.9 699.6L3249.6 704.5L3242.8 712.2L3248.5 719.1L3251.9 728.0L3257.0 734.7L3257.6 740.0L3252.5 742.7L3258.1 746.0L3257.0 752.5L3255.3 757.7L3249.6 764.1L3245.6 771.7L3241.1 776.8L3235.4 781.8L3229.7 787.4L3224.0 791.1L3215.5 793.6L3209.8 795.4L3201.3 798.5L3192.7 801.5L3191.6 807.0L3188.7 799.7L3181.3 798.5L3175.7 800.9L3171.1 805.8L3166.0 813.1L3170.0 822.1L3175.7 829.8L3181.3 835.7L3185.9 847.5L3185.3 856.2L3178.5 863.2L3171.7 866.1L3170.0 870.7L3162.6 875.3L3160.3 867.8L3152.9 864.4L3147.2 856.2L3138.7 852.2L3135.8 847.5L3133.0 848.6L3130.1 859.1L3128.4 867.8L3133.0 873.6L3134.7 882.2L3141.5 886.2L3147.2 890.8L3152.3 897.7L3152.9 907.9L3156.9 917.0L3152.3 917.0L3144.4 911.9L3140.4 907.9L3135.8 899.4L3134.7 890.8L3130.1 883.9L3123.3 879.3L3124.5 870.7L3125.6 859.1L3122.7 847.5L3120.5 835.7L3118.8 829.8L3110.2 829.8L3106.3 834.0L3100.6 832.8L3101.7 823.9L3097.1 814.9L3090.3 804.0L3086.3 794.8L3078.9 793.6L3070.4 797.9L3059.0 800.9L3057.9 807.0L3050.5 811.3L3042.0 819.1L3032.3 828.6L3023.8 834.0L3020.3 841.6L3020.9 850.4L3018.1 859.1L3018.1 866.1L3013.5 871.9L3009.0 874.7L3005.0 878.8L2999.3 873.6L2996.5 864.9L2992.5 856.2L2988.5 847.5L2985.1 838.7L2981.1 829.8L2978.8 817.9L2978.3 811.9L2977.7 802.8L2976.5 797.9L2973.7 801.5L2966.9 804.6L2957.8 797.9L2956.6 794.2L2964.0 790.5L2953.8 787.4L2947.0 782.4L2943.5 776.8L2931.0 776.8L2915.1 777.4L2899.7 775.5L2890.1 773.0L2887.2 765.4L2877.0 767.3L2868.5 766.7L2862.8 762.2L2855.4 759.0L2851.4 751.2L2848.5 744.6L2842.9 743.3L2838.3 746.0L2837.2 750.5L2841.1 757.0L2845.7 763.5L2849.7 768.6L2849.7 774.3L2853.1 779.3L2855.9 773.0L2857.6 778.0L2858.8 784.3L2865.6 783.0L2874.1 782.4L2881.5 774.9L2884.4 769.8L2886.1 781.2L2892.9 785.5L2898.6 787.4L2904.3 793.6L2901.5 802.8L2895.8 807.0L2892.3 814.9L2885.5 820.9L2877.0 826.8L2865.6 829.8L2857.1 836.9L2842.9 844.6L2831.5 849.2L2820.1 851.6L2811.6 852.2L2808.7 845.7L2807.6 838.7L2807.0 829.8L2801.9 820.9L2794.5 810.0L2787.1 799.7L2784.8 790.5L2777.4 782.4L2773.5 773.0L2766.1 762.2L2763.2 759.0L2762.6 749.2L2759.2 759.0L2758.7 760.9L2753.0 755.7L2749.6 746.6L2747.9 738.0L2757.5 737.4L2762.1 730.7L2764.3 722.5L2767.8 712.2L2768.9 705.2L2770.0 699.6L2760.4 700.3L2751.8 704.5L2740.5 699.6L2737.6 703.1L2729.1 703.1L2723.4 699.6L2719.4 696.0L2714.9 687.3L2716.6 680.0L2713.1 676.3L2713.1 673.4L2706.3 669.6L2700.6 671.1L2699.5 676.3L2693.8 672.6L2693.8 680.0L2696.7 683.7L2700.6 689.5L2700.6 693.1L2694.9 691.7L2696.1 701.7L2692.1 701.7L2687.5 699.6L2684.7 692.4L2683.6 685.2L2677.9 678.6L2674.5 672.6L2675.0 662.8L2669.3 657.4L2660.8 652.0L2652.3 645.7L2646.6 636.1L2642.0 632.9L2634.1 635.3L2634.6 643.3L2641.5 649.6L2646.6 658.9L2655.1 662.0L2660.8 668.8L2669.3 674.8L2668.8 677.8L2660.8 672.6L2658.5 678.6L2661.4 683.7L2658.0 688.1L2653.4 691.0L2655.1 685.2L2653.4 676.3L2646.6 671.1L2638.1 666.6L2633.5 662.8L2626.7 657.4L2622.7 649.6L2618.1 644.1L2614.2 642.5L2606.8 647.3L2601.1 652.0L2592.5 650.4L2586.9 649.6L2581.7 653.5L2582.3 661.3L2576.6 665.8L2568.7 670.4L2563.0 678.6L2565.2 685.2L2561.3 689.5L2558.4 693.9L2551.6 699.6L2539.1 700.3L2532.8 705.2L2528.3 701.0L2524.3 696.7L2518.6 698.1L2512.9 698.1Z M2749.0 746.0L2754.7 759.0L2760.4 771.7L2766.1 784.3L2773.5 796.7L2776.3 805.8L2777.4 816.1L2784.8 823.9L2788.8 835.7L2797.3 841.6L2805.9 850.4L2810.4 854.5L2809.9 859.1L2817.3 864.9L2825.8 863.2L2837.2 860.9L2848.5 858.6L2855.4 856.8L2854.2 864.9L2850.3 876.5L2842.9 887.9L2837.2 899.4L2825.8 911.9L2814.4 919.3L2803.0 930.7L2797.3 936.4L2792.8 942.1L2788.8 950.6L2786.0 959.2L2788.8 967.8L2788.8 976.4L2793.4 985.1L2794.5 996.7L2795.1 1008.4L2791.7 1017.2L2783.1 1024.9L2774.6 1029.1L2768.9 1035.1L2763.2 1041.2L2764.9 1053.3L2766.1 1065.7L2754.7 1073.8L2750.7 1078.3L2749.0 1091.0L2743.3 1100.8L2737.6 1110.6L2729.1 1120.7L2720.5 1127.5L2710.9 1130.9L2697.8 1131.6L2686.4 1134.3L2677.9 1136.4L2669.3 1132.3L2667.6 1122.7L2668.2 1114.0L2662.5 1104.0L2658.0 1094.3L2651.1 1084.6L2648.3 1072.0L2646.6 1059.5L2642.6 1047.2L2635.2 1033.9L2631.2 1023.2L2632.4 1011.3L2638.1 999.6L2642.0 990.9L2639.8 979.3L2634.1 962.1L2633.5 956.3L2628.4 949.5L2621.0 940.9L2615.3 931.8L2617.0 923.9L2618.7 916.5L2619.9 907.9L2618.1 902.8L2614.2 899.4L2606.8 899.9L2598.2 900.5L2593.7 894.8L2588.0 889.1L2578.3 889.1L2569.8 891.4L2561.3 894.2L2552.7 897.7L2544.2 895.4L2535.7 895.9L2521.4 899.9L2512.9 896.5L2504.4 889.1L2498.7 885.7L2491.3 879.3L2488.4 871.9L2481.6 864.9L2477.6 860.3L2469.1 854.5L2468.5 847.5L2465.1 840.4L2470.2 832.8L2471.4 820.9L2471.4 811.9L2467.4 802.8L2471.4 793.6L2475.9 784.3L2480.5 774.9L2487.3 765.4L2493.0 759.0L2501.5 753.8L2507.2 747.3L2508.9 739.4L2511.8 729.3L2518.6 722.5L2526.0 717.7L2530.5 706.6L2533.9 705.9L2541.3 710.8L2549.9 710.8L2558.4 707.3L2566.9 703.8L2581.2 698.9L2595.4 699.6L2606.8 698.1L2618.1 696.0L2625.5 698.1L2623.8 705.2L2626.7 710.1L2622.1 717.0L2626.7 722.5L2635.2 726.6L2649.4 730.7L2654.0 736.7L2663.7 740.0L2675.0 742.7L2677.9 736.0L2679.0 730.7L2686.4 726.6L2694.9 728.6L2706.3 734.0L2717.7 737.4L2729.1 740.0L2737.6 736.7L2743.3 736.0L2747.9 738.0Z M2844.6 993.8L2850.3 1011.3L2848.5 1017.2L2845.7 1026.1L2841.7 1041.2L2836.0 1059.5L2831.5 1072.0L2821.2 1075.1L2814.4 1068.8L2810.4 1056.4L2814.4 1041.2L2817.3 1026.1L2815.5 1018.4L2825.8 1015.5L2834.3 1008.4L2840.0 1001.4Z M3019.2 869.0L3026.0 876.5L3029.5 885.1L3024.9 890.8L3020.3 890.8L3018.1 882.2L3018.1 874.7Z M2531.7 594.7L2541.3 592.9L2547.0 590.2L2555.6 589.3L2566.9 588.4L2572.1 584.8L2568.7 582.1L2573.8 571.9L2565.8 568.1L2564.7 562.4L2563.0 555.7L2556.7 548.8L2553.9 540.8L2548.2 536.7L2552.7 523.2L2544.2 521.0L2547.0 511.3L2535.7 511.3L2531.1 523.2L2532.8 533.6L2530.0 540.8L2536.8 548.8L2544.2 549.8L2547.0 558.6L2545.9 565.3L2538.5 565.3L2539.6 572.8L2534.5 579.3L2544.2 583.0L2547.0 584.8L2538.5 586.6Z M2530.0 575.6L2528.8 565.3L2531.1 553.7L2527.1 546.8L2517.5 547.8L2515.7 554.7L2507.2 556.6L2508.3 565.3L2511.2 571.9L2505.5 577.5L2510.1 582.1L2518.6 579.3Z M2634.6 691.0L2652.8 688.8L2650.6 700.3L2635.2 693.9Z M2610.7 668.8L2619.3 668.8L2619.3 683.0L2611.9 683.7Z M2613.0 654.3L2618.1 653.5L2618.1 665.1L2613.6 664.3Z M2697.8 708.0L2713.7 710.1L2712.0 712.2L2698.4 710.8Z M2747.9 711.5L2760.9 707.3L2757.5 712.9L2749.0 715.0Z M2626.7 541.8L2635.2 537.7L2635.8 545.8L2631.2 549.8L2626.7 546.8Z M2667.1 518.9L2672.2 518.9L2671.1 528.4L2667.6 528.4Z M2857.1 333.4L2871.3 349.2L2891.2 349.2L2882.7 324.4L2894.1 285.4L2871.3 285.4Z M3106.3 893.1L3118.8 895.4L3124.5 902.2L3135.8 912.5L3141.5 915.3L3152.9 925.0L3158.6 936.4L3167.1 942.1L3166.0 958.1L3158.6 957.5L3150.1 950.6L3141.5 940.9L3135.8 930.7L3127.3 919.3L3121.6 910.8L3113.1 903.9Z M3162.6 963.8L3170.0 959.2L3181.3 962.6L3192.7 963.8L3204.1 964.3L3215.5 969.5L3214.3 974.1L3195.6 972.4L3178.5 969.5L3168.8 967.2Z M3184.2 916.5L3187.0 913.6L3197.3 910.8L3206.9 906.8L3215.5 899.4L3221.2 893.7L3228.6 885.1L3233.7 889.7L3242.2 895.4L3235.4 900.5L3234.3 907.9L3235.4 919.3L3232.5 925.0L3226.9 933.5L3225.7 944.9L3218.3 947.8L3212.6 944.4L3201.3 944.4L3191.0 940.9L3189.9 933.5L3184.2 925.0Z M3243.4 956.9L3249.0 956.3L3249.0 942.1L3255.3 950.6L3262.7 952.3L3259.9 943.2L3254.2 936.4L3265.5 930.7L3255.3 930.1L3247.9 923.3L3255.3 919.3L3266.7 919.9L3276.4 915.9L3271.2 922.7L3252.5 922.7L3246.8 929.6L3242.8 944.4Z M3250.2 817.9L3258.7 818.5L3259.3 828.0L3255.3 835.1L3257.0 842.2L3267.2 849.2L3266.1 851.0L3255.9 845.7L3250.8 842.2L3247.9 835.7L3249.0 829.8Z M3259.3 883.9L3267.2 876.5L3277.5 870.1L3282.6 877.0L3281.5 887.4L3276.9 891.9L3270.1 886.8L3267.2 881.6Z M3272.4 853.9L3276.9 855.1L3275.8 864.4L3272.9 863.2Z M3258.7 858.6L3263.8 859.7L3264.4 870.1L3261.6 869.6L3259.3 864.4Z M3230.8 876.5L3243.9 860.3L3245.6 864.4L3233.7 877.6Z M3255.3 776.2L3258.1 779.3L3254.2 790.5L3251.3 796.7L3247.3 790.5L3251.3 781.2Z M3192.7 808.2L3195.6 811.3L3191.6 818.5L3184.2 819.1L3182.5 813.1L3187.0 808.8Z M3302.0 723.9L3309.3 719.1L3315.0 725.9L3311.1 736.7L3306.5 739.4L3304.8 729.3Z M3308.8 719.1L3315.0 717.0L3326.4 715.0L3337.8 715.7L3337.8 706.6L3326.4 708.0L3317.9 708.7L3309.3 715.7Z M3316.2 723.9L3320.7 719.1L3329.3 717.0L3329.3 721.2L3320.7 725.9Z M3218.3 971.8L3229.7 971.8L3241.1 973.0L3252.5 973.0L3263.8 972.4L3263.8 975.8L3246.8 975.8L3229.7 976.4L3219.5 975.3Z M3266.7 983.9L3275.2 976.4L3286.6 973.0L3283.7 977.6L3272.4 983.3Z M3241.1 979.3L3251.3 981.6L3247.9 983.9L3241.1 981.0Z M3289.4 913.6L3295.1 916.5L3296.3 923.3L3291.1 929.6L3289.4 922.2Z M3292.3 942.1L3308.2 942.6L3303.7 945.5L3293.4 944.9Z M3280.9 943.2L3287.7 943.8L3286.6 946.6L3281.5 946.1Z M3309.3 929.6L3317.9 927.3L3326.4 929.6L3343.5 933.5L3343.5 950.6L3332.1 949.5L3323.6 946.6L3319.6 940.9L3315.0 937.5L3309.3 933.5Z M3209.8 1053.3L3213.8 1052.1L3224.0 1046.0L3235.4 1043.0L3243.9 1041.2L3252.5 1038.1L3259.3 1029.1L3259.9 1023.2L3266.7 1024.9L3267.8 1018.4L3275.2 1011.3L3283.7 1005.4L3292.3 1010.1L3300.8 1010.1L3302.5 1002.5L3308.2 996.1L3315.0 994.9L3317.9 989.7L3326.4 993.8L3343.5 993.8L3343.5 1144.8L3334.9 1136.4L3327.6 1124.1L3323.6 1118.7L3312.2 1114.0L3298.0 1114.6L3280.9 1118.7L3269.5 1124.1L3266.7 1130.2L3255.3 1129.5L3246.8 1130.2L3235.4 1137.1L3224.0 1137.8L3218.9 1133.0L3218.3 1127.5L3222.3 1120.7L3222.3 1114.0L3218.3 1106.0L3215.5 1094.3L3209.8 1081.4L3208.7 1068.8L3209.8 1059.5Z M2867.3 852.7L2874.1 852.7L2873.0 854.5L2867.9 854.5Z" fill="#111" stroke="#111" stroke-width="1" stroke-linejoin="round"/>
<path d="M2040.7 623.8L2049.3 624.7L2060.6 623.0L2069.2 625.5L2080.5 625.5L2082.8 621.3L2077.7 613.8L2069.2 606.9L2060.6 606.1L2054.9 612.9L2046.4 618.8Z M2064.6 663.5L2070.3 662.8L2073.1 653.5L2073.7 641.7L2078.8 633.7L2080.5 629.6L2072.0 631.2L2066.3 637.7L2063.5 641.7L2065.2 653.5Z M2082.3 630.4L2089.1 628.8L2097.6 629.6L2106.1 633.7L2109.0 640.1L2100.5 641.7L2099.3 651.2L2095.3 653.5L2091.9 647.3L2087.9 648.1L2089.6 639.3L2086.2 633.7Z M2090.2 663.5L2094.8 665.8L2103.3 663.5L2111.8 658.9L2115.2 655.1L2109.0 655.9L2100.5 658.2L2091.9 660.5Z M2110.1 651.2L2117.5 651.2L2126.1 651.2L2130.6 648.8L2128.9 644.1L2123.2 645.7L2114.7 647.3Z M1861.5 431.3L1875.7 434.0L1887.1 427.2L1892.8 416.0L1884.3 406.0L1872.9 408.9L1864.4 417.4L1855.8 420.3Z M1898.5 484.2L1909.9 485.4L1918.4 480.6L1929.8 468.6L1941.2 462.4L1935.5 461.2L1921.3 469.8L1907.0 468.6L1901.3 478.3Z M2002.0 560.5L2007.7 559.5L2012.3 572.8L2016.3 586.6L2013.4 592.0L2009.4 582.1L2003.7 572.8L1999.8 566.2Z M1929.8 511.3L1944.0 505.8L1961.1 503.6L1944.0 501.4L1932.6 506.9Z M2724.0 664.3L2729.1 667.3L2742.2 667.3L2753.5 661.3L2764.3 661.3L2772.9 666.6L2783.1 668.8L2792.8 668.8L2800.8 664.3L2800.2 656.6L2791.7 649.6L2783.1 643.3L2776.3 639.3L2772.3 636.9L2766.1 637.7L2760.4 641.7L2754.7 641.7L2754.7 636.1L2749.0 634.5L2753.5 630.4L2751.8 628.8L2745.6 624.7L2739.3 625.5L2733.6 633.7L2727.9 640.9L2726.8 649.6L2722.8 654.3L2722.3 659.7Z M2763.2 633.7L2772.3 634.5L2779.1 625.5L2787.1 619.7L2780.3 619.7L2771.7 623.0L2764.3 626.3L2762.1 629.6Z M2717.7 672.6L2723.4 673.4L2731.9 671.1L2729.1 668.8L2720.5 668.8Z M2834.3 633.7L2842.9 625.5L2854.2 622.2L2865.6 623.8L2865.6 635.3L2855.9 641.7L2850.3 643.3L2854.2 652.0L2862.8 657.4L2863.9 665.1L2870.2 670.4L2865.6 680.0L2870.2 694.6L2870.7 698.9L2859.9 701.0L2850.3 696.0L2842.9 693.9L2842.3 687.3L2845.7 674.1L2838.9 661.3L2834.3 653.5L2832.6 643.3L2830.3 640.1Z M2896.9 633.7L2902.6 624.7L2911.1 625.5L2908.3 636.1L2900.9 640.9Z M3154.6 581.2L3164.3 579.3L3178.5 566.2L3188.7 546.8L3187.0 541.8L3181.3 550.8L3170.0 566.2L3158.6 577.5Z M2982.2 636.1L2990.8 626.3L3002.1 623.8L3013.5 625.5L3010.7 629.6L2996.5 629.6L2987.9 637.7Z M2735.9 495.7L2743.3 495.7L2750.7 486.5L2749.0 479.5L2737.6 475.9L2733.6 484.2Z M2759.2 484.2L2767.8 485.4L2770.6 474.7L2763.2 463.7L2759.2 472.3Z M2973.7 295.6L2987.9 295.6L2987.9 333.4L2980.5 359.3L2985.1 378.7L2996.5 383.4L3007.8 397.1L3010.7 401.6L3002.1 397.1L2987.9 388.1L2982.2 398.6L2976.5 411.8L2962.3 414.6L2973.7 406.0L2975.4 383.4L2976.5 359.3L2973.7 333.4Z M3019.2 295.6L3039.1 295.6L3037.4 342.3L3039.7 354.3L3034.0 356.0L3027.7 333.4L3019.2 315.0Z M3161.4 285.4L3206.9 285.4L3195.6 301.5L3172.8 305.4L3164.3 309.3Z M2744.4 926.7L2751.8 922.7L2758.7 923.9L2757.5 933.5L2751.8 940.4L2745.0 939.2L2744.4 931.8Z M2729.6 944.4L2733.1 950.6L2739.3 970.7L2737.0 974.1L2730.8 962.1L2729.1 950.6Z M2757.5 979.9L2760.9 990.9L2763.8 1007.2L2760.9 1006.6L2758.1 993.8Z" fill="#545454" stroke="#444" stroke-width="1"/>
<g fill="#5a5a5a" fill-opacity=".85"><ellipse cx="1957.5" cy="562.0" rx="4.1" ry="1.1" transform="rotate(-11 1957.5 562.0)"/><ellipse cx="1973.2" cy="577.3" rx="3.6" ry="0.9" transform="rotate(-22 1973.2 577.3)"/><ellipse cx="1862.1" cy="572.0" rx="3.3" ry="1.8" transform="rotate(-56 1862.1 572.0)"/><ellipse cx="1919.7" cy="472.5" rx="5.3" ry="2.4" transform="rotate(-26 1919.7 472.5)"/><ellipse cx="2202.5" cy="579.2" rx="4.9" ry="1.7" transform="rotate(-54 2202.5 579.2)"/><ellipse cx="1880.1" cy="534.7" rx="4.8" ry="1.5" transform="rotate(-6 1880.1 534.7)"/><ellipse cx="2041.6" cy="576.6" rx="1.8" ry="0.6" transform="rotate(5 2041.6 576.6)"/><ellipse cx="1996.5" cy="533.6" rx="3.9" ry="1.6" transform="rotate(-37 1996.5 533.6)"/><ellipse cx="1927.6" cy="483.6" rx="3.6" ry="2.0" transform="rotate(10 1927.6 483.6)"/><ellipse cx="1880.3" cy="514.4" rx="4.6" ry="1.4" transform="rotate(-16 1880.3 514.4)"/><ellipse cx="1850.6" cy="463.8" rx="4.6" ry="2.1" transform="rotate(26 1850.6 463.8)"/><ellipse cx="1953.7" cy="457.8" rx="3.9" ry="1.8" transform="rotate(-20 1953.7 457.8)"/><ellipse cx="2013.9" cy="464.6" rx="1.8" ry="0.9" transform="rotate(1 2013.9 464.6)"/><ellipse cx="1942.8" cy="520.5" rx="4.2" ry="1.1" transform="rotate(-19 1942.8 520.5)"/><ellipse cx="1899.0" cy="567.7" rx="1.8" ry="0.9" transform="rotate(-56 1899.0 567.7)"/><ellipse cx="1928.9" cy="519.5" rx="5.0" ry="1.4" transform="rotate(-21 1928.9 519.5)"/><ellipse cx="2042.2" cy="413.8" rx="4.8" ry="2.6" transform="rotate(-39 2042.2 413.8)"/><ellipse cx="1991.9" cy="525.5" rx="5.0" ry="3.0" transform="rotate(-53 1991.9 525.5)"/><ellipse cx="1902.1" cy="548.2" rx="2.5" ry="1.1" transform="rotate(-5 1902.1 548.2)"/><ellipse cx="1934.6" cy="586.0" rx="3.2" ry="1.2" transform="rotate(-8 1934.6 586.0)"/><ellipse cx="2089.8" cy="578.0" rx="5.1" ry="2.7" transform="rotate(26 2089.8 578.0)"/><ellipse cx="2135.5" cy="519.3" rx="3.2" ry="0.9" transform="rotate(-0 2135.5 519.3)"/><ellipse cx="1859.3" cy="575.8" rx="2.4" ry="0.7" transform="rotate(-33 1859.3 575.8)"/><ellipse cx="1892.7" cy="570.3" rx="3.0" ry="0.8" transform="rotate(26 1892.7 570.3)"/><ellipse cx="2066.5" cy="562.4" rx="2.6" ry="1.0" transform="rotate(-30 2066.5 562.4)"/><ellipse cx="1882.0" cy="422.3" rx="5.5" ry="2.3" transform="rotate(-17 1882.0 422.3)"/><ellipse cx="1868.2" cy="570.1" rx="2.9" ry="1.0" transform="rotate(21 1868.2 570.1)"/><ellipse cx="1896.5" cy="583.0" rx="5.3" ry="2.3" transform="rotate(-54 1896.5 583.0)"/><ellipse cx="2039.9" cy="582.3" rx="3.7" ry="2.2" transform="rotate(25 2039.9 582.3)"/><ellipse cx="1973.6" cy="559.3" rx="4.6" ry="2.0" transform="rotate(16 1973.6 559.3)"/><ellipse cx="1959.7" cy="549.7" rx="4.8" ry="2.8" transform="rotate(24 1959.7 549.7)"/><ellipse cx="2030.3" cy="526.1" rx="1.7" ry="0.4" transform="rotate(-39 2030.3 526.1)"/><ellipse cx="1933.2" cy="458.4" rx="5.3" ry="2.2" transform="rotate(33 1933.2 458.4)"/><ellipse cx="1972.8" cy="550.2" rx="2.5" ry="0.8" transform="rotate(-48 1972.8 550.2)"/><ellipse cx="2070.2" cy="409.5" rx="4.9" ry="2.0" transform="rotate(2 2070.2 409.5)"/><ellipse cx="2136.2" cy="573.0" rx="4.2" ry="2.4" transform="rotate(16 2136.2 573.0)"/><ellipse cx="1902.9" cy="436.5" rx="2.9" ry="1.5" transform="rotate(37 1902.9 436.5)"/><ellipse cx="1984.5" cy="517.6" rx="5.3" ry="2.7" transform="rotate(-51 1984.5 517.6)"/><ellipse cx="1883.6" cy="562.0" rx="5.1" ry="2.7" transform="rotate(-54 1883.6 562.0)"/><ellipse cx="2041.9" cy="565.4" rx="1.7" ry="1.0" transform="rotate(1 2041.9 565.4)"/><ellipse cx="2033.6" cy="401.0" rx="3.3" ry="1.8" transform="rotate(21 2033.6 401.0)"/><ellipse cx="1915.2" cy="544.7" rx="2.7" ry="0.9" transform="rotate(-5 1915.2 544.7)"/><ellipse cx="1933.3" cy="514.2" rx="2.1" ry="1.2" transform="rotate(-31 1933.3 514.2)"/><ellipse cx="2007.9" cy="481.7" rx="5.1" ry="2.0" transform="rotate(31 2007.9 481.7)"/><ellipse cx="2032.5" cy="583.7" rx="3.3" ry="1.0" transform="rotate(-70 2032.5 583.7)"/><ellipse cx="2136.0" cy="558.4" rx="3.4" ry="1.7" transform="rotate(-9 2136.0 558.4)"/><ellipse cx="1958.3" cy="494.9" rx="3.8" ry="2.0" transform="rotate(-58 1958.3 494.9)"/><ellipse cx="2046.3" cy="545.3" rx="2.7" ry="1.4" transform="rotate(-14 2046.3 545.3)"/><ellipse cx="2046.8" cy="443.3" rx="5.2" ry="2.1" transform="rotate(-3 2046.8 443.3)"/><ellipse cx="1933.4" cy="486.6" rx="5.3" ry="2.9" transform="rotate(-55 1933.4 486.6)"/><ellipse cx="1881.6" cy="509.8" rx="1.9" ry="0.6" transform="rotate(-62 1881.6 509.8)"/><ellipse cx="2172.7" cy="561.4" rx="4.4" ry="2.1" transform="rotate(-54 2172.7 561.4)"/><ellipse cx="1985.5" cy="501.1" rx="5.5" ry="3.0" transform="rotate(-52 1985.5 501.1)"/><ellipse cx="1997.9" cy="495.5" rx="2.9" ry="0.9" transform="rotate(-35 1997.9 495.5)"/><ellipse cx="1842.7" cy="530.5" rx="4.0" ry="1.7" transform="rotate(-63 1842.7 530.5)"/><ellipse cx="2200.8" cy="569.7" rx="2.6" ry="0.7" transform="rotate(16 2200.8 569.7)"/><ellipse cx="1937.5" cy="565.6" rx="3.2" ry="1.8" transform="rotate(20 1937.5 565.6)"/><ellipse cx="1933.0" cy="562.3" rx="5.2" ry="2.3" transform="rotate(7 1933.0 562.3)"/><ellipse cx="1869.5" cy="577.4" rx="4.3" ry="1.7" transform="rotate(-62 1869.5 577.4)"/><ellipse cx="2136.9" cy="573.2" rx="4.9" ry="1.3" transform="rotate(25 2136.9 573.2)"/><ellipse cx="2006.3" cy="529.1" rx="3.8" ry="2.2" transform="rotate(-41 2006.3 529.1)"/><ellipse cx="1884.4" cy="493.2" rx="2.5" ry="0.7" transform="rotate(-52 1884.4 493.2)"/><ellipse cx="1854.8" cy="553.4" rx="2.8" ry="1.0" transform="rotate(14 1854.8 553.4)"/><ellipse cx="1944.8" cy="498.6" rx="2.3" ry="0.9" transform="rotate(-68 1944.8 498.6)"/><ellipse cx="1930.0" cy="584.2" rx="4.5" ry="2.0" transform="rotate(-49 1930.0 584.2)"/><ellipse cx="2014.2" cy="400.8" rx="2.0" ry="1.1" transform="rotate(-22 2014.2 400.8)"/><ellipse cx="2021.8" cy="425.7" rx="3.1" ry="1.3" transform="rotate(6 2021.8 425.7)"/><ellipse cx="2204.8" cy="528.5" rx="4.8" ry="2.4" transform="rotate(-0 2204.8 528.5)"/><ellipse cx="1987.9" cy="527.6" rx="1.8" ry="0.5" transform="rotate(-62 1987.9 527.6)"/><ellipse cx="1897.2" cy="573.0" rx="4.9" ry="2.7" transform="rotate(4 1897.2 573.0)"/><ellipse cx="1941.8" cy="546.4" rx="2.7" ry="1.1" transform="rotate(-53 1941.8 546.4)"/><ellipse cx="2003.3" cy="542.7" rx="5.4" ry="3.2" transform="rotate(-10 2003.3 542.7)"/><ellipse cx="1952.1" cy="525.9" rx="1.6" ry="0.6" transform="rotate(-18 1952.1 525.9)"/><ellipse cx="2024.7" cy="553.5" rx="3.6" ry="0.9" transform="rotate(-41 2024.7 553.5)"/><ellipse cx="1869.6" cy="517.9" rx="1.8" ry="0.5" transform="rotate(-37 1869.6 517.9)"/><ellipse cx="1923.3" cy="481.3" rx="3.7" ry="1.9" transform="rotate(2 1923.3 481.3)"/><ellipse cx="1982.2" cy="531.5" rx="5.4" ry="1.6" transform="rotate(10 1982.2 531.5)"/><ellipse cx="2077.4" cy="579.6" rx="4.9" ry="2.7" transform="rotate(-1 2077.4 579.6)"/><ellipse cx="1888.2" cy="493.8" rx="3.6" ry="1.9" transform="rotate(19 1888.2 493.8)"/><ellipse cx="2146.2" cy="481.6" rx="5.1" ry="2.5" transform="rotate(6 2146.2 481.6)"/><ellipse cx="1922.3" cy="581.7" rx="2.1" ry="0.8" transform="rotate(-58 1922.3 581.7)"/><ellipse cx="2149.7" cy="486.8" rx="4.0" ry="1.9" transform="rotate(5 2149.7 486.8)"/><ellipse cx="2019.6" cy="586.1" rx="4.7" ry="2.4" transform="rotate(-15 2019.6 586.1)"/><ellipse cx="1860.7" cy="448.6" rx="2.6" ry="0.7" transform="rotate(-41 1860.7 448.6)"/><ellipse cx="2021.4" cy="521.1" rx="3.5" ry="1.7" transform="rotate(14 2021.4 521.1)"/><ellipse cx="1865.0" cy="562.6" rx="2.6" ry="1.3" transform="rotate(-37 1865.0 562.6)"/><ellipse cx="2049.1" cy="584.6" rx="1.8" ry="0.6" transform="rotate(4 2049.1 584.6)"/><ellipse cx="1945.1" cy="495.3" rx="3.4" ry="1.4" transform="rotate(-57 1945.1 495.3)"/><ellipse cx="2171.5" cy="553.8" rx="5.4" ry="3.1" transform="rotate(-68 2171.5 553.8)"/><ellipse cx="2008.2" cy="429.3" rx="5.4" ry="2.2" transform="rotate(-40 2008.2 429.3)"/><ellipse cx="1915.0" cy="482.1" rx="2.2" ry="0.9" transform="rotate(35 1915.0 482.1)"/><ellipse cx="1885.7" cy="429.2" rx="3.6" ry="2.0" transform="rotate(7 1885.7 429.2)"/><ellipse cx="1922.8" cy="410.2" rx="3.5" ry="0.9" transform="rotate(-70 1922.8 410.2)"/><ellipse cx="2020.5" cy="508.2" rx="2.8" ry="0.8" transform="rotate(-32 2020.5 508.2)"/><ellipse cx="1954.6" cy="424.4" rx="1.6" ry="0.8" transform="rotate(22 1954.6 424.4)"/><ellipse cx="1881.0" cy="402.9" rx="4.4" ry="2.5" transform="rotate(-38 1881.0 402.9)"/><ellipse cx="1975.7" cy="519.2" rx="5.5" ry="2.5" transform="rotate(-30 1975.7 519.2)"/><ellipse cx="1996.6" cy="540.6" rx="1.8" ry="0.5" transform="rotate(22 1996.6 540.6)"/><ellipse cx="1929.5" cy="542.3" rx="3.6" ry="1.1" transform="rotate(-29 1929.5 542.3)"/><ellipse cx="1854.5" cy="449.6" rx="3.4" ry="1.7" transform="rotate(1 1854.5 449.6)"/><ellipse cx="1943.4" cy="578.8" rx="5.2" ry="1.5" transform="rotate(-18 1943.4 578.8)"/><ellipse cx="1965.0" cy="536.6" rx="4.5" ry="2.7" transform="rotate(-41 1965.0 536.6)"/><ellipse cx="1898.7" cy="560.2" rx="2.4" ry="1.4" transform="rotate(-15 1898.7 560.2)"/><ellipse cx="1918.5" cy="408.0" rx="5.5" ry="2.2" transform="rotate(-55 1918.5 408.0)"/><ellipse cx="1908.2" cy="572.0" rx="2.9" ry="0.8" transform="rotate(-44 1908.2 572.0)"/><ellipse cx="1932.9" cy="484.6" rx="5.1" ry="2.6" transform="rotate(-25 1932.9 484.6)"/><ellipse cx="1991.3" cy="493.8" rx="3.1" ry="1.1" transform="rotate(-63 1991.3 493.8)"/><ellipse cx="1883.2" cy="497.9" rx="4.1" ry="2.2" transform="rotate(-46 1883.2 497.9)"/><ellipse cx="1937.7" cy="545.3" rx="3.2" ry="1.3" transform="rotate(35 1937.7 545.3)"/><ellipse cx="2013.6" cy="480.9" rx="1.6" ry="0.6" transform="rotate(32 2013.6 480.9)"/><ellipse cx="2745.6" cy="394.6" rx="3.9" ry="1.3" transform="rotate(-58 2745.6 394.6)"/><ellipse cx="2735.8" cy="383.4" rx="3.3" ry="1.6" transform="rotate(14 2735.8 383.4)"/><ellipse cx="2720.5" cy="431.4" rx="1.6" ry="0.8" transform="rotate(-44 2720.5 431.4)"/><ellipse cx="2710.0" cy="477.2" rx="2.1" ry="1.0" transform="rotate(7 2710.0 477.2)"/><ellipse cx="2696.9" cy="483.0" rx="2.8" ry="1.3" transform="rotate(-27 2696.9 483.0)"/><ellipse cx="2720.7" cy="381.1" rx="3.1" ry="1.7" transform="rotate(-18 2720.7 381.1)"/><ellipse cx="2705.3" cy="464.9" rx="3.9" ry="1.9" transform="rotate(-36 2705.3 464.9)"/><ellipse cx="2735.3" cy="446.3" rx="2.1" ry="1.0" transform="rotate(32 2735.3 446.3)"/><ellipse cx="2712.3" cy="446.2" rx="3.2" ry="1.0" transform="rotate(18 2712.3 446.2)"/><ellipse cx="2739.7" cy="436.8" rx="2.0" ry="1.2" transform="rotate(-36 2739.7 436.8)"/><ellipse cx="2745.2" cy="466.6" rx="2.1" ry="1.1" transform="rotate(-38 2745.2 466.6)"/><ellipse cx="2754.2" cy="437.8" rx="2.0" ry="0.6" transform="rotate(-24 2754.2 437.8)"/><ellipse cx="2734.7" cy="382.4" rx="1.9" ry="0.7" transform="rotate(-47 2734.7 382.4)"/><ellipse cx="2755.8" cy="475.8" rx="1.6" ry="0.4" transform="rotate(-27 2755.8 475.8)"/><ellipse cx="2750.6" cy="391.0" rx="3.3" ry="2.0" transform="rotate(32 2750.6 391.0)"/><ellipse cx="2711.7" cy="471.3" rx="3.8" ry="2.0" transform="rotate(-66 2711.7 471.3)"/><ellipse cx="2734.6" cy="450.8" rx="2.4" ry="0.9" transform="rotate(-51 2734.6 450.8)"/><ellipse cx="2713.2" cy="381.5" rx="1.8" ry="1.1" transform="rotate(-47 2713.2 381.5)"/><ellipse cx="2713.6" cy="398.9" rx="3.6" ry="1.4" transform="rotate(-65 2713.6 398.9)"/><ellipse cx="2721.6" cy="451.5" rx="3.8" ry="1.2" transform="rotate(-30 2721.6 451.5)"/><ellipse cx="2750.5" cy="487.0" rx="2.5" ry="1.3" transform="rotate(14 2750.5 487.0)"/><ellipse cx="2693.5" cy="386.2" rx="2.1" ry="1.1" transform="rotate(29 2693.5 386.2)"/><ellipse cx="3040.5" cy="456.6" rx="3.4" ry="1.6" transform="rotate(-41 3040.5 456.6)"/><ellipse cx="3190.8" cy="449.8" rx="1.8" ry="0.5" transform="rotate(13 3190.8 449.8)"/><ellipse cx="3270.4" cy="397.0" rx="3.4" ry="0.9" transform="rotate(-44 3270.4 397.0)"/><ellipse cx="3094.7" cy="333.8" rx="3.4" ry="1.3" transform="rotate(-42 3094.7 333.8)"/><ellipse cx="3076.6" cy="421.3" rx="3.3" ry="1.0" transform="rotate(18 3076.6 421.3)"/><ellipse cx="3199.5" cy="361.4" rx="3.0" ry="1.4" transform="rotate(-34 3199.5 361.4)"/><ellipse cx="3032.7" cy="442.7" rx="3.0" ry="0.8" transform="rotate(-48 3032.7 442.7)"/><ellipse cx="3205.3" cy="460.3" rx="1.3" ry="0.4" transform="rotate(-9 3205.3 460.3)"/><ellipse cx="3035.2" cy="328.7" rx="3.2" ry="1.9" transform="rotate(-41 3035.2 328.7)"/><ellipse cx="2938.9" cy="482.3" rx="2.3" ry="1.2" transform="rotate(-21 2938.9 482.3)"/><ellipse cx="2998.7" cy="433.9" rx="2.6" ry="1.3" transform="rotate(12 2998.7 433.9)"/><ellipse cx="3242.7" cy="391.5" rx="1.5" ry="0.8" transform="rotate(-38 3242.7 391.5)"/><ellipse cx="3131.2" cy="441.0" rx="2.9" ry="0.9" transform="rotate(-43 3131.2 441.0)"/><ellipse cx="3003.1" cy="474.2" rx="3.2" ry="1.5" transform="rotate(-34 3003.1 474.2)"/><ellipse cx="3063.2" cy="326.0" rx="2.4" ry="0.8" transform="rotate(19 3063.2 326.0)"/><ellipse cx="3165.6" cy="326.4" rx="1.4" ry="0.6" transform="rotate(20 3165.6 326.4)"/><ellipse cx="3240.2" cy="342.8" rx="1.3" ry="0.5" transform="rotate(-57 3240.2 342.8)"/><ellipse cx="2980.9" cy="330.3" rx="2.5" ry="1.5" transform="rotate(-29 2980.9 330.3)"/><ellipse cx="3250.3" cy="428.7" rx="1.8" ry="0.9" transform="rotate(34 3250.3 428.7)"/><ellipse cx="2947.6" cy="403.7" rx="2.6" ry="0.9" transform="rotate(-29 2947.6 403.7)"/><ellipse cx="2961.7" cy="466.8" rx="1.8" ry="0.8" transform="rotate(2 2961.7 466.8)"/><ellipse cx="2986.4" cy="494.2" rx="2.0" ry="1.0" transform="rotate(-50 2986.4 494.2)"/><ellipse cx="3029.8" cy="466.9" rx="3.0" ry="1.3" transform="rotate(-63 3029.8 466.9)"/><ellipse cx="2945.8" cy="437.4" rx="2.5" ry="1.2" transform="rotate(-60 2945.8 437.4)"/><ellipse cx="2970.6" cy="385.8" rx="2.1" ry="0.7" transform="rotate(-36 2970.6 385.8)"/><ellipse cx="3285.0" cy="450.4" rx="2.5" ry="0.9" transform="rotate(-24 3285.0 450.4)"/><ellipse cx="3249.6" cy="325.1" rx="2.0" ry="0.6" transform="rotate(10 3249.6 325.1)"/><ellipse cx="2986.5" cy="494.9" rx="3.3" ry="1.3" transform="rotate(20 2986.5 494.9)"/><ellipse cx="3067.2" cy="349.3" rx="2.3" ry="0.7" transform="rotate(-68 3067.2 349.3)"/><ellipse cx="3125.1" cy="395.8" rx="3.3" ry="0.9" transform="rotate(-2 3125.1 395.8)"/><ellipse cx="3053.1" cy="419.5" rx="1.5" ry="0.5" transform="rotate(-13 3053.1 419.5)"/><ellipse cx="3274.0" cy="480.6" rx="2.3" ry="1.2" transform="rotate(36 3274.0 480.6)"/><ellipse cx="2984.0" cy="478.0" rx="3.4" ry="2.0" transform="rotate(-17 2984.0 478.0)"/><ellipse cx="3059.9" cy="344.9" rx="2.6" ry="1.4" transform="rotate(-52 3059.9 344.9)"/><ellipse cx="3218.4" cy="464.1" rx="2.1" ry="1.2" transform="rotate(21 3218.4 464.1)"/><ellipse cx="2978.3" cy="464.7" rx="2.1" ry="0.9" transform="rotate(-28 2978.3 464.7)"/><ellipse cx="2954.4" cy="460.4" rx="2.9" ry="1.6" transform="rotate(-65 2954.4 460.4)"/><ellipse cx="3129.4" cy="374.2" rx="1.3" ry="0.7" transform="rotate(-57 3129.4 374.2)"/><ellipse cx="3144.2" cy="411.7" rx="2.6" ry="0.9" transform="rotate(-24 3144.2 411.7)"/><ellipse cx="3137.4" cy="432.5" rx="2.7" ry="1.1" transform="rotate(-22 3137.4 432.5)"/></g><path d="M3033.4 356.0L3053.3 367.6L3059.0 398.6L3056.2 420.3L3064.7 447.2L3076.1 478.3L3087.5 512.4L3093.2 538.7 M2976.5 411.8L2956.6 420.3L2939.6 447.2L2950.9 466.2L2956.6 484.2L2979.4 484.2L3002.1 490.0L3019.2 512.4L3036.3 538.7L3036.3 548.8 M3286.6 324.4L3280.9 359.3L3269.5 391.1L3266.7 420.3L3280.9 447.2L3300.8 472.3L3286.6 490.0L3246.8 490.0L3212.6 501.4L3178.5 523.2 M1798.9 378.7L1807.5 401.6L1830.2 420.3L1847.3 434.0L1861.5 453.6L1875.7 474.7L1895.7 481.8 M2859.9 621.3L2842.9 612.9L2825.8 606.9L2820.1 595.6L2831.5 577.5L2842.9 563.4L2842.9 543.8 M2740.5 737.4L2741.6 746.0L2739.3 759.0L2746.1 771.7L2751.3 784.3L2749.0 796.7L2740.5 805.8L2737.6 814.9L2754.7 820.9L2756.4 829.8L2749.0 835.1" fill="none" stroke="#666" stroke-opacity=".8" stroke-width="1.5" stroke-linejoin="round"/>
<path d="M1862.7 604.3L2022.5 604.3L2022.5 600.8L2025.9 606.9L2035.0 607.8L2043.6 612.1L2054.9 612.9L2061.2 610.4L2081.7 622.2L2083.4 625.5L2089.1 629.6L2094.8 635.3L2095.3 653.5L2091.4 659.7L2094.8 663.5L2114.7 655.1L2114.7 651.2L2127.2 648.8L2130.6 644.1L2137.4 637.7L2157.3 637.7L2161.3 634.5L2164.2 628.0L2165.9 623.8L2170.4 618.0L2175.5 618.8L2178.4 620.5L2178.4 631.2L2180.7 636.1L2182.9 638.5 M1762.0 365.9L1762.0 492.3L1773.3 494.6L1781.9 506.9L1793.3 498.0L1804.6 512.4L1813.2 528.4L1824.5 538.7L1823.4 548.8 M1897.9 729.3L1911.6 728.0L1932.6 737.4L1948.6 737.4L1948.6 734.0L1958.2 734.0L1967.3 742.0L1970.2 748.6L1977.6 752.5L1981.0 747.3L1986.7 747.3L1993.5 757.0L1998.1 762.2L2000.3 769.2L2011.1 772.4 M2039.6 841.6L2039.6 836.9L2042.4 832.2L2049.8 832.2L2046.4 825.6L2046.4 822.1L2056.7 822.1L2056.7 833.4 M2056.7 822.1L2061.8 817.9 M2056.7 833.4L2056.1 842.2L2051.5 846.3 M2056.1 842.2L2063.5 844.6L2065.2 848.1 M2067.5 850.4L2074.9 845.7L2080.5 841.0L2090.8 838.7 M2076.6 861.5L2087.9 862.6 M2092.5 878.8L2094.2 870.7 M2120.9 883.9L2124.3 875.9 M2158.5 857.4L2151.7 862.0L2148.8 870.7L2152.2 877.6L2154.5 885.1L2165.9 885.1L2169.3 890.2L2180.1 889.7L2178.4 899.4L2181.2 906.2L2178.4 909.1L2182.9 918.2 M2182.9 918.2L2167.0 915.3L2167.0 918.7L2170.4 921.6L2165.9 923.9L2165.9 926.7L2168.7 930.7L2166.4 948.9 M2115.2 917.6L2123.2 922.7L2131.7 923.3L2135.7 925.6L2143.1 930.7L2148.8 938.1L2161.3 937.5L2165.9 940.4L2166.4 948.9 M2107.3 944.4L2107.3 950.1L2111.8 953.5L2116.4 951.2L2120.4 943.2L2128.9 939.2L2134.6 933.5L2135.7 925.6 M2222.8 876.5L2215.4 886.8L2215.9 891.4L2218.8 895.4L2211.4 901.1L2200.0 901.7L2196.6 905.1L2203.4 911.9L2191.5 920.4L2183.5 918.2 M2218.8 895.4L2223.3 899.4L2224.5 910.8L2228.5 917.6L2242.7 914.2L2254.1 912.5L2264.9 910.8L2270.6 901.7 M2238.7 891.4L2237.0 906.2L2242.7 914.2 M2256.9 891.9L2255.2 910.2 M2166.4 948.9L2149.4 954.6L2143.7 966.6L2149.4 977.6L2162.5 979.3L2162.5 988.0L2168.7 988.0 M2168.7 988.0L2173.3 997.8L2170.4 1009.6L2169.3 1015.5L2172.7 1019.0L2168.2 1024.9L2164.2 1030.9 M2168.7 988.0L2177.3 986.2L2192.0 981.0L2192.6 992.0L2202.9 996.7L2217.1 1002.5L2221.1 1011.3L2232.4 1019.0L2233.0 1026.1L2236.4 1029.1L2233.6 1040.0 M2168.2 1024.9L2174.4 1038.1L2176.1 1050.3L2181.8 1058.3L2186.9 1052.7L2197.2 1054.6L2207.4 1054.6L2210.3 1044.2L2223.3 1036.9L2233.6 1040.0 M2233.6 1040.0L2235.3 1054.0L2246.7 1055.2L2248.4 1065.7L2255.2 1066.3L2253.5 1075.7 M2207.4 1054.6L2217.1 1064.5L2229.6 1072.0L2236.4 1074.5L2230.7 1085.9L2243.8 1087.2L2253.5 1075.7 M2253.5 1075.7L2258.0 1084.6L2246.7 1093.0L2236.4 1105.4L2246.1 1110.0L2254.6 1116.0L2260.3 1122.7L2260.3 1128.8 M2236.4 1105.4L2233.0 1120.7L2231.9 1130.2 M2181.8 1058.3L2175.0 1068.8L2174.4 1084.6L2167.6 1097.5L2164.2 1114.0L2165.9 1126.1L2163.0 1141.3L2160.2 1155.4L2157.3 1170.0L2155.6 1188.7 M2551.6 711.5L2554.4 724.6L2557.3 731.3L2543.6 740.7L2532.8 747.3L2514.6 754.4L2514.6 760.9L2489.0 760.9 M2514.6 760.9L2514.6 771.7L2495.8 771.7L2495.8 787.4L2490.1 790.5L2490.1 800.9L2467.4 800.9 M2514.6 763.5L2536.8 778.0L2570.9 802.2L2570.9 804.0L2582.3 811.3L2582.9 814.9L2588.0 814.3L2597.1 811.9L2606.8 804.0L2632.4 787.4 M2536.8 778.0L2528.3 778.7L2532.2 835.7L2504.4 836.3L2497.0 839.9L2494.7 839.9 M2470.2 832.8L2481.6 829.2L2489.0 835.1L2494.7 839.9L2499.2 853.9L2486.2 852.7L2478.8 852.7L2469.1 854.5 M2478.8 852.7L2486.2 858.0L2479.9 862.6 M2468.5 846.9L2478.8 845.7L2485.6 848.1L2478.8 849.2L2468.5 849.8 M2499.2 853.9L2512.9 853.9L2518.6 866.7L2516.9 876.5L2520.9 882.2L2515.7 887.9L2521.4 899.9 M2488.4 873.0L2501.5 867.8L2505.5 876.5L2498.7 885.7 M2505.5 876.5L2511.2 882.8L2516.3 881.6 M2518.6 866.7L2532.8 865.5L2532.8 859.1L2539.6 852.2L2541.3 848.1L2552.7 843.4L2560.1 838.1L2565.2 838.7L2584.0 836.3L2588.0 827.4L2588.0 814.3 M2565.2 838.7L2565.2 846.9L2569.8 850.4L2576.6 853.9L2577.8 856.8L2584.6 858.0 M2532.8 865.5L2548.2 870.1L2548.7 862.0L2564.1 862.0L2569.2 862.0L2577.8 856.8 M2548.2 870.1L2548.7 880.5L2545.9 887.9L2546.5 895.9 M2564.1 862.0L2566.9 876.5L2567.5 886.2L2570.9 890.2 M2569.2 862.0L2573.2 873.6L2573.2 889.7 M2584.6 858.0L2580.0 873.6L2579.5 888.5 M2584.6 858.0L2586.9 847.5L2603.9 850.4L2621.0 848.6L2640.9 846.3L2643.7 850.4L2647.2 859.1L2639.8 867.8L2635.2 876.5L2629.5 887.4L2618.1 888.5L2613.0 898.2 M2640.9 846.3L2652.3 827.4L2654.6 807.0L2649.4 790.5 M2632.4 787.4L2644.9 793.0L2649.4 790.5L2700.6 811.9L2700.6 808.8L2706.3 808.8L2706.3 796.7L2706.3 735.4 M2706.3 796.7L2743.3 796.7L2774.0 796.7 M2613.0 698.9L2611.3 712.2L2606.8 719.8L2615.3 732.0L2618.1 744.0L2622.7 740.0L2629.5 730.0L2629.5 724.6 M2618.1 744.0L2620.4 759.0L2617.6 770.5L2632.4 787.4 M2700.6 811.9L2700.6 834.5L2692.1 844.6L2690.4 852.2L2694.4 862.0L2698.9 870.7 M2643.7 850.4L2649.4 863.2L2643.7 867.8L2652.3 882.2L2658.0 880.5L2669.3 879.3L2672.2 873.6L2686.4 864.9L2694.4 862.0 M2698.9 870.7L2703.5 878.2L2707.5 882.2L2720.0 895.9L2706.3 896.5L2692.1 901.1L2675.0 895.9L2669.9 905.1L2658.0 905.1L2656.3 912.5 M2652.3 882.2L2646.6 894.8L2656.3 912.5 M2619.9 911.9L2639.2 912.5L2656.3 912.5 M2619.9 919.3L2628.4 919.3L2628.4 911.9 M2639.2 912.5L2646.0 917.6L2643.7 927.8L2646.6 935.2L2635.2 938.1L2627.8 947.8 M2669.9 905.1L2665.4 922.2L2656.3 939.2L2651.1 949.5L2638.6 951.2L2633.5 958.1 M2633.5 958.6L2658.5 958.6L2660.8 967.8L2675.0 970.7L2688.1 966.6L2689.3 988.0L2700.6 988.0L2700.6 999.6L2689.3 999.6L2689.3 1018.4L2697.2 1026.7 M2698.9 870.7L2712.0 866.7L2723.4 871.9L2734.8 867.8L2749.0 856.2L2757.0 866.7L2758.1 876.5L2751.8 880.5L2763.2 894.2L2757.5 901.1L2740.5 903.9L2739.3 905.1 M2720.0 895.9L2731.9 899.9L2739.3 905.1 M2783.7 820.9L2774.6 826.8L2771.7 842.8L2770.0 852.7L2763.2 862.0L2758.1 876.5 M2771.7 842.8L2786.0 841.0L2797.3 847.5L2805.3 853.3L2801.9 862.0L2808.7 862.0L2807.6 867.8L2814.4 873.6L2831.5 879.3L2837.2 879.3L2820.1 896.5L2803.0 901.1L2797.3 902.8 M2763.2 894.2L2768.9 899.9L2780.3 904.5L2790.5 903.4L2797.3 902.8L2797.3 930.7L2800.2 934.7 M2809.9 859.1L2808.7 862.0 M2808.7 862.0L2811.6 864.4L2817.3 864.9 M2757.5 901.1L2760.4 919.3L2757.5 930.7L2778.6 942.6L2787.1 951.8 M2739.3 905.1L2742.2 912.5L2733.1 920.4L2732.5 933.0L2737.6 930.7L2757.5 930.7 M2737.6 930.7L2739.3 938.7L2737.0 946.6L2731.4 950.1 M2732.5 933.0L2729.1 940.4L2731.4 950.1 M2793.9 985.1L2780.3 989.7L2767.8 990.9L2760.9 991.4 M2739.3 972.4L2751.3 978.7L2757.5 979.3 M2751.3 978.7L2753.0 996.7L2750.1 1003.1L2760.4 1008.4L2767.8 1017.2L2764.9 1023.8L2759.2 1020.2L2760.4 1008.4 M2739.3 972.4L2727.4 973.5L2725.7 978.1L2726.8 993.8L2733.6 994.9L2733.6 1001.9L2725.7 996.1L2718.8 992.6L2708.0 989.7L2700.6 988.0 M2708.0 1027.9L2717.7 1028.5L2728.5 1017.2L2737.0 1014.9L2735.9 1010.1L2753.0 1005.4L2750.1 1003.1 M2737.0 1014.9L2751.3 1021.4L2750.7 1035.1L2749.0 1049.1L2742.2 1055.8L2731.4 1054.6L2717.7 1063.2L2709.7 1075.7L2694.9 1073.8L2682.4 1083.3L2677.9 1070.7L2677.9 1053.3L2683.6 1053.3L2683.6 1030.9L2697.2 1026.7L2708.0 1027.9L2713.1 1038.1L2721.7 1044.2L2731.4 1054.6 M2677.9 1093.6L2677.9 1070.7 M2631.2 1024.4L2640.9 1025.5L2669.3 1025.5L2683.6 1029.1 M2658.0 1094.9L2663.7 1095.6L2677.9 1093.6 M2742.2 1055.8L2746.1 1068.8L2745.6 1078.3L2751.3 1084.0 M2745.6 1078.3L2739.3 1080.8L2741.6 1086.5L2746.7 1083.3 M2717.7 1101.4L2726.2 1094.9L2731.4 1100.8L2724.5 1108.0L2717.7 1101.4 M2762.6 749.2L2758.7 737.4 M2513.5 662.0L2517.5 661.3L2527.1 662.0L2528.8 664.3L2524.8 674.8L2522.0 680.0L2524.3 689.5L2521.4 696.7 M2553.9 650.4L2568.1 655.9L2582.3 658.2 M2606.8 647.3L2603.9 637.7L2603.9 630.4L2599.4 627.1L2598.2 628.0L2603.9 617.1L2607.3 616.3L2610.7 604.3L2600.5 600.0L2597.1 600.0L2588.0 595.6L2578.9 585.7 M2583.4 583.0L2592.5 583.0L2598.2 586.6L2598.8 594.7L2600.5 600.0 M2598.2 586.6L2602.2 577.5L2604.5 565.3 M2613.0 549.8L2620.4 550.8 M2645.5 559.5L2647.2 572.8L2649.4 586.6L2648.3 587.5L2635.2 592.9L2633.5 593.8L2642.6 606.1L2638.1 617.1L2623.8 617.1L2618.7 617.1L2612.5 615.5L2607.3 616.3 M2603.9 630.4L2612.5 628.0L2615.3 629.6L2623.3 624.7L2618.7 620.5L2618.7 617.1 M2623.3 624.7L2633.5 621.3L2642.0 625.5L2642.0 632.9 M2642.6 606.1L2649.4 604.3L2660.2 607.8L2661.4 612.9L2655.7 622.2L2646.6 626.3L2642.0 625.5 M2648.3 587.5L2656.3 590.2L2660.2 592.0L2671.1 600.0L2675.0 599.1L2679.0 601.7L2692.1 603.5 M2671.1 600.0L2661.4 605.2L2660.2 607.8 M2661.4 612.9L2671.1 614.6L2680.7 608.6L2690.4 609.5 M2675.6 554.7L2693.8 554.7L2697.8 559.5L2700.1 571.0L2696.1 575.6L2698.4 582.1L2700.6 588.4L2693.2 599.1L2692.1 603.5 M2683.6 537.7L2700.6 535.7L2715.4 541.8L2710.9 549.8L2709.2 556.6L2697.8 559.5 M2693.8 554.7L2693.8 548.8L2684.7 545.8 M2702.3 518.9L2712.0 520.0L2720.0 523.2 M2724.5 502.5L2720.0 523.2L2723.4 537.7L2715.4 541.8 M2723.4 537.7L2739.9 542.8L2739.3 550.8L2750.1 564.3L2742.7 566.2L2745.0 576.6L2759.8 579.3L2766.6 592.0L2780.3 596.5L2792.8 599.1L2789.9 614.6L2781.4 620.5 M2698.4 582.1L2717.7 582.1L2737.6 583.9L2745.0 576.6 M2722.3 490.0L2734.8 472.3L2743.3 461.2L2734.8 440.6L2733.6 420.3L2729.1 398.6L2726.2 388.1L2729.1 375.6L2739.3 362.7 M2729.1 375.6L2712.0 361.0L2705.8 381.9L2694.9 378.7L2681.3 374.0L2698.4 392.6L2700.6 420.3L2701.8 423.0 M2681.3 374.0L2666.5 383.4L2655.1 406.0L2646.6 418.8L2643.7 440.6L2632.4 453.6L2634.1 478.3L2633.5 495.7L2629.5 506.9L2627.8 508.1 M2692.1 603.5L2690.4 609.5L2694.4 612.9L2705.8 615.5L2715.4 610.4L2723.4 610.4L2730.2 613.8L2734.8 626.3L2724.5 633.7L2724.5 625.5L2720.5 617.1L2715.4 610.4 M2724.5 633.7L2733.1 635.3 M2694.4 612.9L2684.7 626.3L2679.6 628.8L2671.6 630.4L2658.5 625.5L2655.7 622.2 M2679.6 628.8L2685.8 638.5L2692.1 640.1L2693.2 644.1L2706.3 648.1L2717.7 644.9L2726.8 648.1 M2693.2 644.1L2691.5 653.5L2691.5 658.9L2694.9 666.6L2703.5 665.1L2713.7 663.5L2712.0 669.6 M2713.7 663.5L2723.4 661.3 M2671.6 630.4L2672.2 638.5L2675.0 649.6L2679.0 655.1L2681.3 662.0L2683.6 669.6L2677.9 678.6 M2683.6 669.6L2694.4 666.6L2694.9 666.6 M2674.5 662.0L2681.3 662.0 M2672.2 638.5L2655.1 636.1L2654.0 639.3L2664.2 653.5L2669.3 657.4 M2679.0 655.1L2686.4 658.9L2691.5 658.9 M2642.0 632.9L2651.1 633.7L2658.5 625.5 M2768.9 705.2L2772.9 699.6L2780.3 699.6L2796.2 697.4L2805.3 697.4L2819.0 696.7L2814.4 680.8L2819.0 678.6 M2800.2 665.1L2811.6 668.1L2812.7 674.8L2819.0 678.6 M2791.7 650.4L2805.9 652.0L2817.3 655.9L2828.6 662.8L2836.0 667.3L2840.6 662.8 M2811.6 668.1L2820.1 667.3L2828.6 662.8 M2820.1 667.3L2825.8 676.3L2828.6 684.4 M2819.0 678.6L2828.6 684.4L2837.2 680.0L2842.3 688.1 M2768.3 715.0L2772.3 717.7L2767.8 723.9L2766.6 728.0L2766.1 736.0L2763.2 749.2 M2763.8 725.3L2767.8 723.9 M2766.6 728.0L2773.5 730.7L2784.8 723.2L2797.3 716.4L2798.5 705.2L2805.3 697.4 M2763.2 749.2L2768.9 751.2L2777.4 746.0L2780.3 742.7L2774.6 736.0L2786.0 732.7L2787.1 731.3L2784.8 723.2 M2787.1 731.3L2793.9 733.3L2803.0 738.0L2818.4 751.2L2828.6 751.8L2834.3 752.5L2837.2 746.6 M2828.6 751.8L2834.3 755.7L2839.4 755.7 M2819.0 696.7L2825.8 706.6L2822.9 715.7L2825.8 724.6L2834.3 731.3L2836.0 739.4L2840.0 746.0 M2807.6 830.4L2809.9 824.5L2821.2 824.5L2831.5 826.8L2840.0 819.7L2859.9 814.9L2877.0 808.8L2880.4 796.7L2878.1 792.3L2863.3 791.1L2857.6 783.7 M2859.9 814.9L2866.2 829.2 M2878.1 792.3L2882.7 783.7L2884.4 778.7 M2853.1 779.9L2855.4 780.5 M2870.7 696.0L2882.7 690.2L2890.1 689.5L2901.5 694.6L2912.3 701.0L2908.3 715.7L2910.6 736.0L2915.7 739.4L2910.6 747.3L2915.1 754.4L2921.4 764.1L2923.6 767.9L2914.5 776.8 M2910.6 747.3L2928.2 749.2L2941.3 746.6L2941.8 740.0L2958.3 733.3L2959.5 725.3L2968.6 718.4L2971.4 702.4L2982.2 698.9L2990.2 696.7 M2912.3 708.0L2922.5 709.4L2931.0 703.1L2942.4 695.3L2950.9 698.1L2959.5 694.6L2970.9 691.7L2971.4 700.3L2982.2 695.3L2990.2 696.7 M2842.9 625.5L2840.0 617.1L2831.5 612.9L2828.6 608.6L2834.3 592.9L2841.7 595.6L2853.1 580.2L2865.6 583.9L2877.0 589.3L2888.4 586.6L2898.0 586.6L2914.0 588.4L2906.6 577.5L2911.1 563.4L2912.3 558.6L2933.9 553.7L2952.1 548.8L2966.9 545.8L2969.1 556.6L2982.2 562.4L2999.3 556.6L3007.3 565.3L3019.2 588.4L3039.1 586.6L3048.8 599.1L3060.7 602.6 M2862.2 662.8L2865.6 659.7L2872.4 658.9L2882.7 666.6L2882.7 637.7L2897.5 632.9L2911.7 643.3L2916.8 649.6L2933.3 648.1L2940.1 653.5L2942.4 662.0L2951.5 668.8L2956.6 665.8L2963.5 661.3L2967.4 658.9L2982.2 653.5L2986.8 652.0L2994.7 655.1L3014.7 655.1L3020.3 659.7 M3020.3 659.7L3020.9 653.5L3023.8 652.0L3021.5 640.9L3018.6 638.5L3033.4 636.1L3032.3 633.7L3036.3 619.7L3051.1 620.5L3052.2 609.5L3060.7 602.6 M2882.7 666.6L2888.4 666.6L2896.9 656.6L2905.4 659.7L2906.0 665.8L2916.2 668.1L2919.1 676.3L2929.3 684.4L2942.4 695.3 M3020.3 659.7L3009.0 668.1L3001.0 669.6L2993.6 671.9L2983.9 677.8L2982.8 680.8L2983.9 687.3L2990.2 696.7 M2982.8 680.8L2972.6 681.5L2965.2 676.3L2958.3 670.4L2967.4 658.9 M2950.9 698.1L2949.8 683.7L2958.3 670.4 M2965.2 676.3L2979.4 670.4L2983.9 677.8 M3060.7 602.6L3074.4 596.5L3089.8 588.4L3100.6 590.2L3117.6 597.3L3123.3 591.1L3126.7 576.6L3145.5 583.9L3146.1 590.2L3163.1 591.1L3177.9 596.5L3193.9 602.6L3214.3 592.9L3228.0 597.3 M3228.0 597.3L3234.3 600.0L3242.2 592.9L3251.3 571.9L3247.3 570.0L3267.2 563.4L3278.6 567.2L3289.4 597.3L3307.1 605.2L3307.6 615.5L3317.9 615.5L3330.4 610.4L3321.9 636.9L3311.1 638.5L3309.9 654.3L3307.1 658.2 M3063.6 602.6L3064.7 607.8L3081.2 627.1L3081.2 636.1L3106.8 643.3L3112.5 655.9L3142.1 657.4L3161.4 664.3L3192.2 655.1L3200.7 648.1L3200.7 637.7L3210.4 639.3L3228.0 627.1L3246.2 623.8L3238.2 613.8L3221.7 613.8L3228.0 597.3 M3307.1 658.2L3302.0 658.2L3292.3 661.3L3286.0 662.8L3271.8 675.6 M3281.5 693.1L3294.6 686.6 M3178.5 799.7L3171.1 791.1L3163.1 788.6L3155.2 793.6L3144.9 794.2L3142.7 801.5L3139.8 799.1L3132.4 796.7L3128.4 789.9L3119.3 784.9L3121.0 776.8L3125.6 772.4L3122.2 761.5L3118.2 757.7 M3144.9 794.2L3151.2 804.0L3160.9 808.8L3155.7 812.5L3162.6 819.1L3170.5 827.4L3175.1 835.7L3176.2 840.4L3175.7 853.9L3166.0 858.6L3158.0 865.5 M3139.8 799.1L3133.6 806.4L3135.8 811.9L3140.4 811.9L3139.8 823.9L3144.9 819.7L3155.2 819.1L3160.3 824.5L3160.3 830.4L3164.8 834.5L3162.6 842.8L3176.2 840.4 M3162.6 842.8L3150.1 842.8L3146.6 846.9L3149.5 858.0 M3133.6 806.4L3121.6 810.7L3118.2 817.9L3125.6 831.0L3122.7 837.5L3128.4 852.7L3130.7 857.4L3125.0 867.8 M3133.6 888.5L3139.2 892.5L3144.9 889.7 M2952.1 786.2L2968.0 781.8L2962.3 768.6L2964.6 759.0L2978.8 752.5L2987.9 739.4L2987.9 727.3L2985.1 719.1L3002.1 708.7L3006.7 708.7 M2990.2 696.7L2996.5 705.2L3006.7 708.7L3013.5 716.4L3011.8 732.7L3014.7 738.7L3024.9 744.6 M3019.8 753.8L3024.9 744.6L3039.1 751.2L3053.3 759.0L3065.3 759.6L3065.3 769.2L3052.2 767.9L3042.5 762.2L3034.6 760.9L3019.8 753.8 M3065.3 759.6L3069.3 763.5L3075.0 757.7L3085.2 760.3L3087.5 766.0L3076.1 767.3L3069.3 763.5 M3085.2 760.3L3098.9 752.5L3110.2 749.9L3118.2 757.7 M3118.2 757.7L3111.4 763.5L3105.1 771.7L3102.3 776.8L3099.4 784.9L3095.4 784.3L3094.3 795.4L3090.9 800.9L3089.2 804.6 M3069.8 796.7L3068.7 782.4L3065.3 773.0L3067.0 767.9L3075.0 771.7L3075.0 776.2L3089.8 778.0L3083.5 783.7L3082.9 787.4L3089.2 790.5L3090.9 800.9 M3187.6 913.6L3192.7 919.9L3202.4 917.0L3210.9 917.6L3217.2 912.5L3221.7 901.1L3233.1 901.1" fill="none" stroke="#d8d8d8" stroke-opacity=".22" stroke-width="4.5" stroke-linejoin="round"/><path d="M1862.7 604.3L2022.5 604.3L2022.5 600.8L2025.9 606.9L2035.0 607.8L2043.6 612.1L2054.9 612.9L2061.2 610.4L2081.7 622.2L2083.4 625.5L2089.1 629.6L2094.8 635.3L2095.3 653.5L2091.4 659.7L2094.8 663.5L2114.7 655.1L2114.7 651.2L2127.2 648.8L2130.6 644.1L2137.4 637.7L2157.3 637.7L2161.3 634.5L2164.2 628.0L2165.9 623.8L2170.4 618.0L2175.5 618.8L2178.4 620.5L2178.4 631.2L2180.7 636.1L2182.9 638.5 M1762.0 365.9L1762.0 492.3L1773.3 494.6L1781.9 506.9L1793.3 498.0L1804.6 512.4L1813.2 528.4L1824.5 538.7L1823.4 548.8 M1897.9 729.3L1911.6 728.0L1932.6 737.4L1948.6 737.4L1948.6 734.0L1958.2 734.0L1967.3 742.0L1970.2 748.6L1977.6 752.5L1981.0 747.3L1986.7 747.3L1993.5 757.0L1998.1 762.2L2000.3 769.2L2011.1 772.4 M2039.6 841.6L2039.6 836.9L2042.4 832.2L2049.8 832.2L2046.4 825.6L2046.4 822.1L2056.7 822.1L2056.7 833.4 M2056.7 822.1L2061.8 817.9 M2056.7 833.4L2056.1 842.2L2051.5 846.3 M2056.1 842.2L2063.5 844.6L2065.2 848.1 M2067.5 850.4L2074.9 845.7L2080.5 841.0L2090.8 838.7 M2076.6 861.5L2087.9 862.6 M2092.5 878.8L2094.2 870.7 M2120.9 883.9L2124.3 875.9 M2158.5 857.4L2151.7 862.0L2148.8 870.7L2152.2 877.6L2154.5 885.1L2165.9 885.1L2169.3 890.2L2180.1 889.7L2178.4 899.4L2181.2 906.2L2178.4 909.1L2182.9 918.2 M2182.9 918.2L2167.0 915.3L2167.0 918.7L2170.4 921.6L2165.9 923.9L2165.9 926.7L2168.7 930.7L2166.4 948.9 M2115.2 917.6L2123.2 922.7L2131.7 923.3L2135.7 925.6L2143.1 930.7L2148.8 938.1L2161.3 937.5L2165.9 940.4L2166.4 948.9 M2107.3 944.4L2107.3 950.1L2111.8 953.5L2116.4 951.2L2120.4 943.2L2128.9 939.2L2134.6 933.5L2135.7 925.6 M2222.8 876.5L2215.4 886.8L2215.9 891.4L2218.8 895.4L2211.4 901.1L2200.0 901.7L2196.6 905.1L2203.4 911.9L2191.5 920.4L2183.5 918.2 M2218.8 895.4L2223.3 899.4L2224.5 910.8L2228.5 917.6L2242.7 914.2L2254.1 912.5L2264.9 910.8L2270.6 901.7 M2238.7 891.4L2237.0 906.2L2242.7 914.2 M2256.9 891.9L2255.2 910.2 M2166.4 948.9L2149.4 954.6L2143.7 966.6L2149.4 977.6L2162.5 979.3L2162.5 988.0L2168.7 988.0 M2168.7 988.0L2173.3 997.8L2170.4 1009.6L2169.3 1015.5L2172.7 1019.0L2168.2 1024.9L2164.2 1030.9 M2168.7 988.0L2177.3 986.2L2192.0 981.0L2192.6 992.0L2202.9 996.7L2217.1 1002.5L2221.1 1011.3L2232.4 1019.0L2233.0 1026.1L2236.4 1029.1L2233.6 1040.0 M2168.2 1024.9L2174.4 1038.1L2176.1 1050.3L2181.8 1058.3L2186.9 1052.7L2197.2 1054.6L2207.4 1054.6L2210.3 1044.2L2223.3 1036.9L2233.6 1040.0 M2233.6 1040.0L2235.3 1054.0L2246.7 1055.2L2248.4 1065.7L2255.2 1066.3L2253.5 1075.7 M2207.4 1054.6L2217.1 1064.5L2229.6 1072.0L2236.4 1074.5L2230.7 1085.9L2243.8 1087.2L2253.5 1075.7 M2253.5 1075.7L2258.0 1084.6L2246.7 1093.0L2236.4 1105.4L2246.1 1110.0L2254.6 1116.0L2260.3 1122.7L2260.3 1128.8 M2236.4 1105.4L2233.0 1120.7L2231.9 1130.2 M2181.8 1058.3L2175.0 1068.8L2174.4 1084.6L2167.6 1097.5L2164.2 1114.0L2165.9 1126.1L2163.0 1141.3L2160.2 1155.4L2157.3 1170.0L2155.6 1188.7 M2551.6 711.5L2554.4 724.6L2557.3 731.3L2543.6 740.7L2532.8 747.3L2514.6 754.4L2514.6 760.9L2489.0 760.9 M2514.6 760.9L2514.6 771.7L2495.8 771.7L2495.8 787.4L2490.1 790.5L2490.1 800.9L2467.4 800.9 M2514.6 763.5L2536.8 778.0L2570.9 802.2L2570.9 804.0L2582.3 811.3L2582.9 814.9L2588.0 814.3L2597.1 811.9L2606.8 804.0L2632.4 787.4 M2536.8 778.0L2528.3 778.7L2532.2 835.7L2504.4 836.3L2497.0 839.9L2494.7 839.9 M2470.2 832.8L2481.6 829.2L2489.0 835.1L2494.7 839.9L2499.2 853.9L2486.2 852.7L2478.8 852.7L2469.1 854.5 M2478.8 852.7L2486.2 858.0L2479.9 862.6 M2468.5 846.9L2478.8 845.7L2485.6 848.1L2478.8 849.2L2468.5 849.8 M2499.2 853.9L2512.9 853.9L2518.6 866.7L2516.9 876.5L2520.9 882.2L2515.7 887.9L2521.4 899.9 M2488.4 873.0L2501.5 867.8L2505.5 876.5L2498.7 885.7 M2505.5 876.5L2511.2 882.8L2516.3 881.6 M2518.6 866.7L2532.8 865.5L2532.8 859.1L2539.6 852.2L2541.3 848.1L2552.7 843.4L2560.1 838.1L2565.2 838.7L2584.0 836.3L2588.0 827.4L2588.0 814.3 M2565.2 838.7L2565.2 846.9L2569.8 850.4L2576.6 853.9L2577.8 856.8L2584.6 858.0 M2532.8 865.5L2548.2 870.1L2548.7 862.0L2564.1 862.0L2569.2 862.0L2577.8 856.8 M2548.2 870.1L2548.7 880.5L2545.9 887.9L2546.5 895.9 M2564.1 862.0L2566.9 876.5L2567.5 886.2L2570.9 890.2 M2569.2 862.0L2573.2 873.6L2573.2 889.7 M2584.6 858.0L2580.0 873.6L2579.5 888.5 M2584.6 858.0L2586.9 847.5L2603.9 850.4L2621.0 848.6L2640.9 846.3L2643.7 850.4L2647.2 859.1L2639.8 867.8L2635.2 876.5L2629.5 887.4L2618.1 888.5L2613.0 898.2 M2640.9 846.3L2652.3 827.4L2654.6 807.0L2649.4 790.5 M2632.4 787.4L2644.9 793.0L2649.4 790.5L2700.6 811.9L2700.6 808.8L2706.3 808.8L2706.3 796.7L2706.3 735.4 M2706.3 796.7L2743.3 796.7L2774.0 796.7 M2613.0 698.9L2611.3 712.2L2606.8 719.8L2615.3 732.0L2618.1 744.0L2622.7 740.0L2629.5 730.0L2629.5 724.6 M2618.1 744.0L2620.4 759.0L2617.6 770.5L2632.4 787.4 M2700.6 811.9L2700.6 834.5L2692.1 844.6L2690.4 852.2L2694.4 862.0L2698.9 870.7 M2643.7 850.4L2649.4 863.2L2643.7 867.8L2652.3 882.2L2658.0 880.5L2669.3 879.3L2672.2 873.6L2686.4 864.9L2694.4 862.0 M2698.9 870.7L2703.5 878.2L2707.5 882.2L2720.0 895.9L2706.3 896.5L2692.1 901.1L2675.0 895.9L2669.9 905.1L2658.0 905.1L2656.3 912.5 M2652.3 882.2L2646.6 894.8L2656.3 912.5 M2619.9 911.9L2639.2 912.5L2656.3 912.5 M2619.9 919.3L2628.4 919.3L2628.4 911.9 M2639.2 912.5L2646.0 917.6L2643.7 927.8L2646.6 935.2L2635.2 938.1L2627.8 947.8 M2669.9 905.1L2665.4 922.2L2656.3 939.2L2651.1 949.5L2638.6 951.2L2633.5 958.1 M2633.5 958.6L2658.5 958.6L2660.8 967.8L2675.0 970.7L2688.1 966.6L2689.3 988.0L2700.6 988.0L2700.6 999.6L2689.3 999.6L2689.3 1018.4L2697.2 1026.7 M2698.9 870.7L2712.0 866.7L2723.4 871.9L2734.8 867.8L2749.0 856.2L2757.0 866.7L2758.1 876.5L2751.8 880.5L2763.2 894.2L2757.5 901.1L2740.5 903.9L2739.3 905.1 M2720.0 895.9L2731.9 899.9L2739.3 905.1 M2783.7 820.9L2774.6 826.8L2771.7 842.8L2770.0 852.7L2763.2 862.0L2758.1 876.5 M2771.7 842.8L2786.0 841.0L2797.3 847.5L2805.3 853.3L2801.9 862.0L2808.7 862.0L2807.6 867.8L2814.4 873.6L2831.5 879.3L2837.2 879.3L2820.1 896.5L2803.0 901.1L2797.3 902.8 M2763.2 894.2L2768.9 899.9L2780.3 904.5L2790.5 903.4L2797.3 902.8L2797.3 930.7L2800.2 934.7 M2809.9 859.1L2808.7 862.0 M2808.7 862.0L2811.6 864.4L2817.3 864.9 M2757.5 901.1L2760.4 919.3L2757.5 930.7L2778.6 942.6L2787.1 951.8 M2739.3 905.1L2742.2 912.5L2733.1 920.4L2732.5 933.0L2737.6 930.7L2757.5 930.7 M2737.6 930.7L2739.3 938.7L2737.0 946.6L2731.4 950.1 M2732.5 933.0L2729.1 940.4L2731.4 950.1 M2793.9 985.1L2780.3 989.7L2767.8 990.9L2760.9 991.4 M2739.3 972.4L2751.3 978.7L2757.5 979.3 M2751.3 978.7L2753.0 996.7L2750.1 1003.1L2760.4 1008.4L2767.8 1017.2L2764.9 1023.8L2759.2 1020.2L2760.4 1008.4 M2739.3 972.4L2727.4 973.5L2725.7 978.1L2726.8 993.8L2733.6 994.9L2733.6 1001.9L2725.7 996.1L2718.8 992.6L2708.0 989.7L2700.6 988.0 M2708.0 1027.9L2717.7 1028.5L2728.5 1017.2L2737.0 1014.9L2735.9 1010.1L2753.0 1005.4L2750.1 1003.1 M2737.0 1014.9L2751.3 1021.4L2750.7 1035.1L2749.0 1049.1L2742.2 1055.8L2731.4 1054.6L2717.7 1063.2L2709.7 1075.7L2694.9 1073.8L2682.4 1083.3L2677.9 1070.7L2677.9 1053.3L2683.6 1053.3L2683.6 1030.9L2697.2 1026.7L2708.0 1027.9L2713.1 1038.1L2721.7 1044.2L2731.4 1054.6 M2677.9 1093.6L2677.9 1070.7 M2631.2 1024.4L2640.9 1025.5L2669.3 1025.5L2683.6 1029.1 M2658.0 1094.9L2663.7 1095.6L2677.9 1093.6 M2742.2 1055.8L2746.1 1068.8L2745.6 1078.3L2751.3 1084.0 M2745.6 1078.3L2739.3 1080.8L2741.6 1086.5L2746.7 1083.3 M2717.7 1101.4L2726.2 1094.9L2731.4 1100.8L2724.5 1108.0L2717.7 1101.4 M2762.6 749.2L2758.7 737.4 M2513.5 662.0L2517.5 661.3L2527.1 662.0L2528.8 664.3L2524.8 674.8L2522.0 680.0L2524.3 689.5L2521.4 696.7 M2553.9 650.4L2568.1 655.9L2582.3 658.2 M2606.8 647.3L2603.9 637.7L2603.9 630.4L2599.4 627.1L2598.2 628.0L2603.9 617.1L2607.3 616.3L2610.7 604.3L2600.5 600.0L2597.1 600.0L2588.0 595.6L2578.9 585.7 M2583.4 583.0L2592.5 583.0L2598.2 586.6L2598.8 594.7L2600.5 600.0 M2598.2 586.6L2602.2 577.5L2604.5 565.3 M2613.0 549.8L2620.4 550.8 M2645.5 559.5L2647.2 572.8L2649.4 586.6L2648.3 587.5L2635.2 592.9L2633.5 593.8L2642.6 606.1L2638.1 617.1L2623.8 617.1L2618.7 617.1L2612.5 615.5L2607.3 616.3 M2603.9 630.4L2612.5 628.0L2615.3 629.6L2623.3 624.7L2618.7 620.5L2618.7 617.1 M2623.3 624.7L2633.5 621.3L2642.0 625.5L2642.0 632.9 M2642.6 606.1L2649.4 604.3L2660.2 607.8L2661.4 612.9L2655.7 622.2L2646.6 626.3L2642.0 625.5 M2648.3 587.5L2656.3 590.2L2660.2 592.0L2671.1 600.0L2675.0 599.1L2679.0 601.7L2692.1 603.5 M2671.1 600.0L2661.4 605.2L2660.2 607.8 M2661.4 612.9L2671.1 614.6L2680.7 608.6L2690.4 609.5 M2675.6 554.7L2693.8 554.7L2697.8 559.5L2700.1 571.0L2696.1 575.6L2698.4 582.1L2700.6 588.4L2693.2 599.1L2692.1 603.5 M2683.6 537.7L2700.6 535.7L2715.4 541.8L2710.9 549.8L2709.2 556.6L2697.8 559.5 M2693.8 554.7L2693.8 548.8L2684.7 545.8 M2702.3 518.9L2712.0 520.0L2720.0 523.2 M2724.5 502.5L2720.0 523.2L2723.4 537.7L2715.4 541.8 M2723.4 537.7L2739.9 542.8L2739.3 550.8L2750.1 564.3L2742.7 566.2L2745.0 576.6L2759.8 579.3L2766.6 592.0L2780.3 596.5L2792.8 599.1L2789.9 614.6L2781.4 620.5 M2698.4 582.1L2717.7 582.1L2737.6 583.9L2745.0 576.6 M2722.3 490.0L2734.8 472.3L2743.3 461.2L2734.8 440.6L2733.6 420.3L2729.1 398.6L2726.2 388.1L2729.1 375.6L2739.3 362.7 M2729.1 375.6L2712.0 361.0L2705.8 381.9L2694.9 378.7L2681.3 374.0L2698.4 392.6L2700.6 420.3L2701.8 423.0 M2681.3 374.0L2666.5 383.4L2655.1 406.0L2646.6 418.8L2643.7 440.6L2632.4 453.6L2634.1 478.3L2633.5 495.7L2629.5 506.9L2627.8 508.1 M2692.1 603.5L2690.4 609.5L2694.4 612.9L2705.8 615.5L2715.4 610.4L2723.4 610.4L2730.2 613.8L2734.8 626.3L2724.5 633.7L2724.5 625.5L2720.5 617.1L2715.4 610.4 M2724.5 633.7L2733.1 635.3 M2694.4 612.9L2684.7 626.3L2679.6 628.8L2671.6 630.4L2658.5 625.5L2655.7 622.2 M2679.6 628.8L2685.8 638.5L2692.1 640.1L2693.2 644.1L2706.3 648.1L2717.7 644.9L2726.8 648.1 M2693.2 644.1L2691.5 653.5L2691.5 658.9L2694.9 666.6L2703.5 665.1L2713.7 663.5L2712.0 669.6 M2713.7 663.5L2723.4 661.3 M2671.6 630.4L2672.2 638.5L2675.0 649.6L2679.0 655.1L2681.3 662.0L2683.6 669.6L2677.9 678.6 M2683.6 669.6L2694.4 666.6L2694.9 666.6 M2674.5 662.0L2681.3 662.0 M2672.2 638.5L2655.1 636.1L2654.0 639.3L2664.2 653.5L2669.3 657.4 M2679.0 655.1L2686.4 658.9L2691.5 658.9 M2642.0 632.9L2651.1 633.7L2658.5 625.5 M2768.9 705.2L2772.9 699.6L2780.3 699.6L2796.2 697.4L2805.3 697.4L2819.0 696.7L2814.4 680.8L2819.0 678.6 M2800.2 665.1L2811.6 668.1L2812.7 674.8L2819.0 678.6 M2791.7 650.4L2805.9 652.0L2817.3 655.9L2828.6 662.8L2836.0 667.3L2840.6 662.8 M2811.6 668.1L2820.1 667.3L2828.6 662.8 M2820.1 667.3L2825.8 676.3L2828.6 684.4 M2819.0 678.6L2828.6 684.4L2837.2 680.0L2842.3 688.1 M2768.3 715.0L2772.3 717.7L2767.8 723.9L2766.6 728.0L2766.1 736.0L2763.2 749.2 M2763.8 725.3L2767.8 723.9 M2766.6 728.0L2773.5 730.7L2784.8 723.2L2797.3 716.4L2798.5 705.2L2805.3 697.4 M2763.2 749.2L2768.9 751.2L2777.4 746.0L2780.3 742.7L2774.6 736.0L2786.0 732.7L2787.1 731.3L2784.8 723.2 M2787.1 731.3L2793.9 733.3L2803.0 738.0L2818.4 751.2L2828.6 751.8L2834.3 752.5L2837.2 746.6 M2828.6 751.8L2834.3 755.7L2839.4 755.7 M2819.0 696.7L2825.8 706.6L2822.9 715.7L2825.8 724.6L2834.3 731.3L2836.0 739.4L2840.0 746.0 M2807.6 830.4L2809.9 824.5L2821.2 824.5L2831.5 826.8L2840.0 819.7L2859.9 814.9L2877.0 808.8L2880.4 796.7L2878.1 792.3L2863.3 791.1L2857.6 783.7 M2859.9 814.9L2866.2 829.2 M2878.1 792.3L2882.7 783.7L2884.4 778.7 M2853.1 779.9L2855.4 780.5 M2870.7 696.0L2882.7 690.2L2890.1 689.5L2901.5 694.6L2912.3 701.0L2908.3 715.7L2910.6 736.0L2915.7 739.4L2910.6 747.3L2915.1 754.4L2921.4 764.1L2923.6 767.9L2914.5 776.8 M2910.6 747.3L2928.2 749.2L2941.3 746.6L2941.8 740.0L2958.3 733.3L2959.5 725.3L2968.6 718.4L2971.4 702.4L2982.2 698.9L2990.2 696.7 M2912.3 708.0L2922.5 709.4L2931.0 703.1L2942.4 695.3L2950.9 698.1L2959.5 694.6L2970.9 691.7L2971.4 700.3L2982.2 695.3L2990.2 696.7 M2842.9 625.5L2840.0 617.1L2831.5 612.9L2828.6 608.6L2834.3 592.9L2841.7 595.6L2853.1 580.2L2865.6 583.9L2877.0 589.3L2888.4 586.6L2898.0 586.6L2914.0 588.4L2906.6 577.5L2911.1 563.4L2912.3 558.6L2933.9 553.7L2952.1 548.8L2966.9 545.8L2969.1 556.6L2982.2 562.4L2999.3 556.6L3007.3 565.3L3019.2 588.4L3039.1 586.6L3048.8 599.1L3060.7 602.6 M2862.2 662.8L2865.6 659.7L2872.4 658.9L2882.7 666.6L2882.7 637.7L2897.5 632.9L2911.7 643.3L2916.8 649.6L2933.3 648.1L2940.1 653.5L2942.4 662.0L2951.5 668.8L2956.6 665.8L2963.5 661.3L2967.4 658.9L2982.2 653.5L2986.8 652.0L2994.7 655.1L3014.7 655.1L3020.3 659.7 M3020.3 659.7L3020.9 653.5L3023.8 652.0L3021.5 640.9L3018.6 638.5L3033.4 636.1L3032.3 633.7L3036.3 619.7L3051.1 620.5L3052.2 609.5L3060.7 602.6 M2882.7 666.6L2888.4 666.6L2896.9 656.6L2905.4 659.7L2906.0 665.8L2916.2 668.1L2919.1 676.3L2929.3 684.4L2942.4 695.3 M3020.3 659.7L3009.0 668.1L3001.0 669.6L2993.6 671.9L2983.9 677.8L2982.8 680.8L2983.9 687.3L2990.2 696.7 M2982.8 680.8L2972.6 681.5L2965.2 676.3L2958.3 670.4L2967.4 658.9 M2950.9 698.1L2949.8 683.7L2958.3 670.4 M2965.2 676.3L2979.4 670.4L2983.9 677.8 M3060.7 602.6L3074.4 596.5L3089.8 588.4L3100.6 590.2L3117.6 597.3L3123.3 591.1L3126.7 576.6L3145.5 583.9L3146.1 590.2L3163.1 591.1L3177.9 596.5L3193.9 602.6L3214.3 592.9L3228.0 597.3 M3228.0 597.3L3234.3 600.0L3242.2 592.9L3251.3 571.9L3247.3 570.0L3267.2 563.4L3278.6 567.2L3289.4 597.3L3307.1 605.2L3307.6 615.5L3317.9 615.5L3330.4 610.4L3321.9 636.9L3311.1 638.5L3309.9 654.3L3307.1 658.2 M3063.6 602.6L3064.7 607.8L3081.2 627.1L3081.2 636.1L3106.8 643.3L3112.5 655.9L3142.1 657.4L3161.4 664.3L3192.2 655.1L3200.7 648.1L3200.7 637.7L3210.4 639.3L3228.0 627.1L3246.2 623.8L3238.2 613.8L3221.7 613.8L3228.0 597.3 M3307.1 658.2L3302.0 658.2L3292.3 661.3L3286.0 662.8L3271.8 675.6 M3281.5 693.1L3294.6 686.6 M3178.5 799.7L3171.1 791.1L3163.1 788.6L3155.2 793.6L3144.9 794.2L3142.7 801.5L3139.8 799.1L3132.4 796.7L3128.4 789.9L3119.3 784.9L3121.0 776.8L3125.6 772.4L3122.2 761.5L3118.2 757.7 M3144.9 794.2L3151.2 804.0L3160.9 808.8L3155.7 812.5L3162.6 819.1L3170.5 827.4L3175.1 835.7L3176.2 840.4L3175.7 853.9L3166.0 858.6L3158.0 865.5 M3139.8 799.1L3133.6 806.4L3135.8 811.9L3140.4 811.9L3139.8 823.9L3144.9 819.7L3155.2 819.1L3160.3 824.5L3160.3 830.4L3164.8 834.5L3162.6 842.8L3176.2 840.4 M3162.6 842.8L3150.1 842.8L3146.6 846.9L3149.5 858.0 M3133.6 806.4L3121.6 810.7L3118.2 817.9L3125.6 831.0L3122.7 837.5L3128.4 852.7L3130.7 857.4L3125.0 867.8 M3133.6 888.5L3139.2 892.5L3144.9 889.7 M2952.1 786.2L2968.0 781.8L2962.3 768.6L2964.6 759.0L2978.8 752.5L2987.9 739.4L2987.9 727.3L2985.1 719.1L3002.1 708.7L3006.7 708.7 M2990.2 696.7L2996.5 705.2L3006.7 708.7L3013.5 716.4L3011.8 732.7L3014.7 738.7L3024.9 744.6 M3019.8 753.8L3024.9 744.6L3039.1 751.2L3053.3 759.0L3065.3 759.6L3065.3 769.2L3052.2 767.9L3042.5 762.2L3034.6 760.9L3019.8 753.8 M3065.3 759.6L3069.3 763.5L3075.0 757.7L3085.2 760.3L3087.5 766.0L3076.1 767.3L3069.3 763.5 M3085.2 760.3L3098.9 752.5L3110.2 749.9L3118.2 757.7 M3118.2 757.7L3111.4 763.5L3105.1 771.7L3102.3 776.8L3099.4 784.9L3095.4 784.3L3094.3 795.4L3090.9 800.9L3089.2 804.6 M3069.8 796.7L3068.7 782.4L3065.3 773.0L3067.0 767.9L3075.0 771.7L3075.0 776.2L3089.8 778.0L3083.5 783.7L3082.9 787.4L3089.2 790.5L3090.9 800.9 M3187.6 913.6L3192.7 919.9L3202.4 917.0L3210.9 917.6L3217.2 912.5L3221.7 901.1L3233.1 901.1" fill="none" stroke="#c2c2c2" stroke-opacity=".85" stroke-width="1.9" stroke-linejoin="round" stroke-linecap="round"/>
<circle cx="1913.4" cy="466.7" r="23.3" fill="#fed976" fill-opacity="0.75" stroke="#c5a033" stroke-width="2.8"/>
<circle cx="1915.5" cy="585.3" r="19.3" fill="#fed976" fill-opacity="0.75" stroke="#c5a033" stroke-width="2.8"/>
<circle cx="1981.8" cy="602.3" r="19.3" fill="#fed976" fill-opacity="0.75" stroke="#c5a033" stroke-width="2.8"/>
<circle cx="1877.4" cy="625.7" r="17.2" fill="#fed976" fill-opacity="0.75" stroke="#c5a033" stroke-width="2.8"/>
<circle cx="2021.8" cy="622.3" r="17.2" fill="#fed976" fill-opacity="0.75" stroke="#c5a033" stroke-width="2.8"/>
<circle cx="2103.4" cy="625.7" r="17.2" fill="#fed976" fill-opacity="0.75" stroke="#c5a033" stroke-width="2.8"/>
<circle cx="2145.0" cy="633.7" r="17.2" fill="#fed976" fill-opacity="0.75" stroke="#c5a033" stroke-width="2.8"/>
<circle cx="1911.5" cy="658.3" r="17.2" fill="#fed976" fill-opacity="0.75" stroke="#c5a033" stroke-width="2.8"/>
<circle cx="1930.0" cy="671.9" r="15.3" fill="#fed976" fill-opacity="0.75" stroke="#c5a033" stroke-width="2.8"/>
<circle cx="1857.6" cy="670.3" r="15.3" fill="#fed976" fill-opacity="0.75" stroke="#c5a033" stroke-width="2.8"/>
<circle cx="2027.3" cy="664.2" r="17.2" fill="#fed976" fill-opacity="0.75" stroke="#c5a033" stroke-width="2.8"/>
<circle cx="2087.7" cy="659.2" r="17.2" fill="#fed976" fill-opacity="0.75" stroke="#c5a033" stroke-width="2.8"/>
<circle cx="2141.3" cy="674.6" r="15.3" fill="#fed976" fill-opacity="0.75" stroke="#c5a033" stroke-width="2.8"/>
<circle cx="2125.6" cy="682.6" r="15.3" fill="#fed976" fill-opacity="0.75" stroke="#c5a033" stroke-width="2.8"/>
<circle cx="1875.5" cy="695.9" r="15.3" fill="#fed976" fill-opacity="0.75" stroke="#c5a033" stroke-width="2.8"/>
<circle cx="2009.8" cy="692.5" r="15.3" fill="#fed976" fill-opacity="0.75" stroke="#c5a033" stroke-width="2.8"/>
<circle cx="1976.2" cy="700.8" r="15.3" fill="#fed976" fill-opacity="0.75" stroke="#c5a033" stroke-width="2.8"/>
<circle cx="1897.7" cy="727.6" r="15.3" fill="#fed976" fill-opacity="0.75" stroke="#c5a033" stroke-width="2.8"/>
<circle cx="1936.2" cy="723.0" r="15.3" fill="#fed976" fill-opacity="0.75" stroke="#c5a033" stroke-width="2.8"/>
<circle cx="2013.5" cy="728.2" r="15.3" fill="#fed976" fill-opacity="0.75" stroke="#c5a033" stroke-width="2.8"/>
<circle cx="2086.5" cy="718.0" r="15.3" fill="#fed976" fill-opacity="0.75" stroke="#c5a033" stroke-width="2.8"/>
<circle cx="2086.5" cy="731.6" r="15.3" fill="#fed976" fill-opacity="0.75" stroke="#c5a033" stroke-width="2.8"/>
<circle cx="2461.6" cy="434.1" r="24.9" fill="#fed976" fill-opacity="0.75" stroke="#c5a033" stroke-width="2.8"/>
<circle cx="2752.1" cy="376.2" r="23.3" fill="#fed976" fill-opacity="0.75" stroke="#c5a033" stroke-width="2.8"/>
<circle cx="2669.5" cy="459.3" r="23.3" fill="#fed976" fill-opacity="0.75" stroke="#c5a033" stroke-width="2.8"/>
<circle cx="2617.8" cy="502.5" r="24.2" fill="#fed976" fill-opacity="0.75" stroke="#c5a033" stroke-width="2.8"/>
<circle cx="2650.4" cy="507.4" r="23.3" fill="#fed976" fill-opacity="0.75" stroke="#c5a033" stroke-width="2.8"/>
<circle cx="2732.1" cy="500.9" r="24.9" fill="#fd8d3c" fill-opacity="0.8" stroke="#bd650f" stroke-width="2.8"/>
<circle cx="2665.8" cy="555.1" r="20.9" fill="#fed976" fill-opacity="0.75" stroke="#c5a033" stroke-width="2.8"/>
<circle cx="2702.8" cy="542.5" r="20.9" fill="#fed976" fill-opacity="0.75" stroke="#c5a033" stroke-width="2.8"/>
<circle cx="2774.9" cy="546.2" r="20.9" fill="#fed976" fill-opacity="0.75" stroke="#c5a033" stroke-width="2.8"/>
<circle cx="2808.0" cy="532.3" r="22.7" fill="#fed976" fill-opacity="0.75" stroke="#c5a033" stroke-width="2.8"/>
<circle cx="2592.5" cy="573.9" r="18.7" fill="#8a0a30" fill-opacity="0.8" stroke="#5c0016" stroke-width="2.8"/>
<circle cx="2561.7" cy="581.0" r="19.3" fill="#fed976" fill-opacity="0.75" stroke="#c5a033" stroke-width="2.8"/>
<circle cx="2550.3" cy="608.7" r="19.3" fill="#fed976" fill-opacity="0.75" stroke="#c5a033" stroke-width="2.8"/>
<circle cx="2612.6" cy="594.9" r="19.3" fill="#fc3b22" fill-opacity="0.8" stroke="#c2100c" stroke-width="2.8"/>
<circle cx="2650.4" cy="602.6" r="18.7" fill="#fed976" fill-opacity="0.75" stroke="#c5a033" stroke-width="2.8"/>
<circle cx="2725.6" cy="618.9" r="17.2" fill="#fed976" fill-opacity="0.75" stroke="#c5a033" stroke-width="2.8"/>
<circle cx="2781.7" cy="616.4" r="17.8" fill="#fed976" fill-opacity="0.75" stroke="#c5a033" stroke-width="2.8"/>
<circle cx="2593.5" cy="649.1" r="17.2" fill="#fed976" fill-opacity="0.75" stroke="#c5a033" stroke-width="2.8"/>
<circle cx="2642.4" cy="641.1" r="17.2" fill="#fed976" fill-opacity="0.75" stroke="#c5a033" stroke-width="2.8"/>
<circle cx="2701.9" cy="658.0" r="17.2" fill="#fed976" fill-opacity="0.75" stroke="#c5a033" stroke-width="2.8"/>
<circle cx="2802.0" cy="657.1" r="17.2" fill="#fed976" fill-opacity="0.75" stroke="#c5a033" stroke-width="2.8"/>
<circle cx="2542.6" cy="673.4" r="15.3" fill="#fed976" fill-opacity="0.75" stroke="#c5a033" stroke-width="2.8"/>
<circle cx="2543.3" cy="695.6" r="15.3" fill="#fed976" fill-opacity="0.75" stroke="#c5a033" stroke-width="2.8"/>
<circle cx="2641.8" cy="690.0" r="15.3" fill="#fed976" fill-opacity="0.75" stroke="#c5a033" stroke-width="2.8"/>
<circle cx="2704.3" cy="692.5" r="15.3" fill="#fed976" fill-opacity="0.75" stroke="#c5a033" stroke-width="2.8"/>
<circle cx="2615.0" cy="719.6" r="15.3" fill="#fed976" fill-opacity="0.75" stroke="#c5a033" stroke-width="2.8"/>
<circle cx="2531.9" cy="732.5" r="15.3" fill="#fed976" fill-opacity="0.75" stroke="#c5a033" stroke-width="2.8"/>
<circle cx="2783.5" cy="713.1" r="15.3" fill="#fed976" fill-opacity="0.75" stroke="#c5a033" stroke-width="2.8"/>
<circle cx="2764.1" cy="734.1" r="15.3" fill="#fed976" fill-opacity="0.75" stroke="#c5a033" stroke-width="2.8"/>
<circle cx="2741.0" cy="745.5" r="13.7" fill="#fed976" fill-opacity="0.75" stroke="#c5a033" stroke-width="2.8"/>
<circle cx="2990.8" cy="434.7" r="24.9" fill="#fed976" fill-opacity="0.75" stroke="#c5a033" stroke-width="2.8"/>
<circle cx="2984.6" cy="483.7" r="24.9" fill="#fed976" fill-opacity="0.75" stroke="#c5a033" stroke-width="2.8"/>
<circle cx="3301.9" cy="471.7" r="23.3" fill="#fed976" fill-opacity="0.75" stroke="#c5a033" stroke-width="2.8"/>
<circle cx="2846.0" cy="511.4" r="22.7" fill="#fed976" fill-opacity="0.75" stroke="#c5a033" stroke-width="2.8"/>
<circle cx="2896.9" cy="519.4" r="22.7" fill="#fed976" fill-opacity="0.75" stroke="#c5a033" stroke-width="2.8"/>
<circle cx="2830.0" cy="559.4" r="20.9" fill="#fed976" fill-opacity="0.75" stroke="#c5a033" stroke-width="2.8"/>
<circle cx="2906.4" cy="553.9" r="20.9" fill="#fed976" fill-opacity="0.75" stroke="#c5a033" stroke-width="2.8"/>
<circle cx="3038.5" cy="553.3" r="20.9" fill="#fed976" fill-opacity="0.75" stroke="#c5a033" stroke-width="2.8"/>
<circle cx="3046.2" cy="532.3" r="22.7" fill="#fed976" fill-opacity="0.75" stroke="#c5a033" stroke-width="2.8"/>
<circle cx="3092.4" cy="538.5" r="20.9" fill="#fed976" fill-opacity="0.75" stroke="#c5a033" stroke-width="2.8"/>
<circle cx="3157.1" cy="574.8" r="19.0" fill="#fed976" fill-opacity="0.75" stroke="#c5a033" stroke-width="2.8"/>
<circle cx="3210.1" cy="577.3" r="19.0" fill="#fed976" fill-opacity="0.75" stroke="#c5a033" stroke-width="2.8"/>
<circle cx="2950.8" cy="613.3" r="19.0" fill="#fed976" fill-opacity="0.75" stroke="#c5a033" stroke-width="2.8"/>
<circle cx="3276.6" cy="647.8" r="17.2" fill="#fed976" fill-opacity="0.75" stroke="#c5a033" stroke-width="2.8"/>
<circle cx="3284.3" cy="630.3" r="17.2" fill="#fed976" fill-opacity="0.75" stroke="#c5a033" stroke-width="2.8"/>
<circle cx="3001.6" cy="651.8" r="17.2" fill="#fed976" fill-opacity="0.75" stroke="#c5a033" stroke-width="2.8"/>
<circle cx="3061.6" cy="647.8" r="17.2" fill="#fed976" fill-opacity="0.75" stroke="#c5a033" stroke-width="2.8"/>
<circle cx="3095.5" cy="655.5" r="17.2" fill="#fed976" fill-opacity="0.75" stroke="#c5a033" stroke-width="2.8"/>
<circle cx="2834.3" cy="660.2" r="17.2" fill="#fed976" fill-opacity="0.75" stroke="#c5a033" stroke-width="2.8"/>
<circle cx="3198.7" cy="670.3" r="15.7" fill="#fed976" fill-opacity="0.75" stroke="#c5a033" stroke-width="2.8"/>
<circle cx="3225.8" cy="677.1" r="15.7" fill="#fed976" fill-opacity="0.75" stroke="#c5a033" stroke-width="2.8"/>
<circle cx="3162.4" cy="701.1" r="15.7" fill="#fed976" fill-opacity="0.75" stroke="#c5a033" stroke-width="2.8"/>
<circle cx="3227.0" cy="709.4" r="15.7" fill="#fed976" fill-opacity="0.75" stroke="#c5a033" stroke-width="2.8"/>
<circle cx="3290.2" cy="699.3" r="15.3" fill="#fed976" fill-opacity="0.75" stroke="#c5a033" stroke-width="2.8"/>
<circle cx="3283.4" cy="723.3" r="15.3" fill="#fed976" fill-opacity="0.75" stroke="#c5a033" stroke-width="2.8"/>
<circle cx="2854.7" cy="707.3" r="15.3" fill="#fed976" fill-opacity="0.75" stroke="#c5a033" stroke-width="2.8"/>
<circle cx="2901.5" cy="711.6" r="15.3" fill="#fed976" fill-opacity="0.75" stroke="#c5a033" stroke-width="2.8"/>
<circle cx="2843.0" cy="742.4" r="13.7" fill="#fed976" fill-opacity="0.75" stroke="#c5a033" stroke-width="2.8"/>
<circle cx="2989.3" cy="737.2" r="13.7" fill="#fed976" fill-opacity="0.75" stroke="#c5a033" stroke-width="2.8"/>
<circle cx="3081.7" cy="750.6" r="13.7" fill="#fed976" fill-opacity="0.75" stroke="#c5a033" stroke-width="2.8"/>
<circle cx="3156.2" cy="741.8" r="13.7" fill="#fed976" fill-opacity="0.75" stroke="#c5a033" stroke-width="2.8"/>
<circle cx="3242.4" cy="739.3" r="13.7" fill="#fed976" fill-opacity="0.75" stroke="#c5a033" stroke-width="2.8"/>
<circle cx="1995.3" cy="768.9" r="13.2" fill="#fed976" fill-opacity="0.75" stroke="#c5a033" stroke-width="2.8"/>
<circle cx="2095.7" cy="765.2" r="13.2" fill="#fed976" fill-opacity="0.75" stroke="#c5a033" stroke-width="2.8"/>
<circle cx="2124.1" cy="778.2" r="13.2" fill="#fed976" fill-opacity="0.75" stroke="#c5a033" stroke-width="2.8"/>
<circle cx="2155.2" cy="802.2" r="13.2" fill="#fed976" fill-opacity="0.75" stroke="#c5a033" stroke-width="2.8"/>
<circle cx="1979.3" cy="809.3" r="12.9" fill="#fed976" fill-opacity="0.75" stroke="#c5a033" stroke-width="2.8"/>
<circle cx="2003.3" cy="813.0" r="12.9" fill="#fed976" fill-opacity="0.75" stroke="#c5a033" stroke-width="2.8"/>
<circle cx="2201.1" cy="823.1" r="12.9" fill="#fed976" fill-opacity="0.75" stroke="#c5a033" stroke-width="2.8"/>
<circle cx="2216.8" cy="845.3" r="12.9" fill="#fed976" fill-opacity="0.75" stroke="#c5a033" stroke-width="2.8"/>
<circle cx="2044.0" cy="836.1" r="12.9" fill="#fed976" fill-opacity="0.75" stroke="#c5a033" stroke-width="2.8"/>
<circle cx="2067.1" cy="841.6" r="12.9" fill="#fed976" fill-opacity="0.75" stroke="#c5a033" stroke-width="2.8"/>
<circle cx="2110.5" cy="874.0" r="11.7" fill="#fed976" fill-opacity="0.75" stroke="#c5a033" stroke-width="2.8"/>
<circle cx="2168.4" cy="872.1" r="11.7" fill="#fed976" fill-opacity="0.75" stroke="#c5a033" stroke-width="2.8"/>
<circle cx="2142.5" cy="899.2" r="11.7" fill="#fed976" fill-opacity="0.75" stroke="#c5a033" stroke-width="2.8"/>
<circle cx="2117.9" cy="926.3" r="11.2" fill="#fed976" fill-opacity="0.75" stroke="#c5a033" stroke-width="2.8"/>
<circle cx="2107.4" cy="935.3" r="11.2" fill="#fed976" fill-opacity="0.75" stroke="#c5a033" stroke-width="2.8"/>
<circle cx="2222.0" cy="943.3" r="11.7" fill="#fed976" fill-opacity="0.75" stroke="#c5a033" stroke-width="2.8"/>
<circle cx="2203.5" cy="994.7" r="13.2" fill="#fed976" fill-opacity="0.75" stroke="#c5a033" stroke-width="2.8"/>
<circle cx="2145.9" cy="1007.6" r="13.2" fill="#fed976" fill-opacity="0.75" stroke="#c5a033" stroke-width="2.8"/>
<circle cx="2167.2" cy="1124.7" r="15.0" fill="#fed976" fill-opacity="0.75" stroke="#c5a033" stroke-width="2.8"/>
<circle cx="2199.8" cy="1118.8" r="15.0" fill="#fed976" fill-opacity="0.75" stroke="#c5a033" stroke-width="2.8"/>
<circle cx="2269.1" cy="1101.6" r="13.2" fill="#fed976" fill-opacity="0.75" stroke="#c5a033" stroke-width="2.8"/>
<circle cx="2235.9" cy="1144.1" r="14.1" fill="#fed976" fill-opacity="0.75" stroke="#c5a033" stroke-width="2.8"/>
<circle cx="2245.1" cy="1137.0" r="14.1" fill="#fed976" fill-opacity="0.75" stroke="#c5a033" stroke-width="2.8"/>
<circle cx="2148.7" cy="1153.3" r="15.0" fill="#fed976" fill-opacity="0.75" stroke="#c5a033" stroke-width="2.8"/>
<circle cx="2476.1" cy="759.7" r="13.2" fill="#fed976" fill-opacity="0.75" stroke="#c5a033" stroke-width="2.8"/>
<circle cx="2660.9" cy="779.1" r="13.2" fill="#fed976" fill-opacity="0.75" stroke="#c5a033" stroke-width="2.8"/>
<circle cx="2484.1" cy="845.3" r="13.2" fill="#fed976" fill-opacity="0.75" stroke="#c5a033" stroke-width="2.8"/>
<circle cx="2576.5" cy="871.5" r="11.3" fill="#fed976" fill-opacity="0.75" stroke="#c5a033" stroke-width="2.8"/>
<circle cx="2510.0" cy="888.4" r="11.3" fill="#fed976" fill-opacity="0.75" stroke="#c5a033" stroke-width="2.8"/>
<circle cx="2632.0" cy="891.5" r="11.3" fill="#fed976" fill-opacity="0.75" stroke="#c5a033" stroke-width="2.8"/>
<circle cx="2620.9" cy="914.6" r="11.3" fill="#fed976" fill-opacity="0.75" stroke="#c5a033" stroke-width="2.8"/>
<circle cx="2745.9" cy="920.2" r="11.3" fill="#fed976" fill-opacity="0.75" stroke="#c5a033" stroke-width="2.8"/>
<circle cx="2773.3" cy="933.1" r="11.3" fill="#fed976" fill-opacity="0.75" stroke="#c5a033" stroke-width="2.8"/>
<circle cx="2780.4" cy="919.2" r="11.3" fill="#fed976" fill-opacity="0.75" stroke="#c5a033" stroke-width="2.8"/>
<circle cx="2293.2" cy="933.4" r="11.3" fill="#fed976" fill-opacity="0.75" stroke="#c5a033" stroke-width="2.8"/>
<circle cx="2324.6" cy="947.0" r="11.3" fill="#fed976" fill-opacity="0.75" stroke="#c5a033" stroke-width="2.8"/>
<circle cx="2356.9" cy="968.5" r="11.3" fill="#fed976" fill-opacity="0.75" stroke="#c5a033" stroke-width="2.8"/>
<circle cx="2295.3" cy="1020.3" r="13.2" fill="#fed976" fill-opacity="0.75" stroke="#c5a033" stroke-width="2.8"/>
<circle cx="2290.7" cy="1051.1" r="12.6" fill="#fed976" fill-opacity="0.75" stroke="#c5a033" stroke-width="2.8"/>
<circle cx="2315.3" cy="1046.1" r="12.6" fill="#fed976" fill-opacity="0.75" stroke="#c5a033" stroke-width="2.8"/>
<circle cx="2295.3" cy="1064.9" r="12.6" fill="#fed976" fill-opacity="0.75" stroke="#c5a033" stroke-width="2.8"/>
<circle cx="2317.8" cy="1059.4" r="12.6" fill="#fed976" fill-opacity="0.75" stroke="#c5a033" stroke-width="2.8"/>
<circle cx="2762.9" cy="1031.7" r="13.2" fill="#fed976" fill-opacity="0.75" stroke="#c5a033" stroke-width="2.8"/>
<circle cx="2734.2" cy="1042.4" r="13.2" fill="#fed976" fill-opacity="0.75" stroke="#c5a033" stroke-width="2.8"/>
<circle cx="2724.1" cy="1080.3" r="13.2" fill="#fed976" fill-opacity="0.75" stroke="#c5a033" stroke-width="2.8"/>
<circle cx="2707.4" cy="1107.1" r="13.2" fill="#fed976" fill-opacity="0.75" stroke="#c5a033" stroke-width="2.8"/>
<circle cx="2670.5" cy="1131.2" r="14.7" fill="#fed976" fill-opacity="0.75" stroke="#c5a033" stroke-width="2.8"/>
<circle cx="2681.3" cy="1129.6" r="14.7" fill="#fed976" fill-opacity="0.75" stroke="#c5a033" stroke-width="2.8"/>
<circle cx="2843.0" cy="780.6" r="13.2" fill="#fed976" fill-opacity="0.75" stroke="#c5a033" stroke-width="2.8"/>
<circle cx="2888.2" cy="803.7" r="13.2" fill="#fed976" fill-opacity="0.75" stroke="#c5a033" stroke-width="2.8"/>
<circle cx="2997.9" cy="763.7" r="13.2" fill="#fed976" fill-opacity="0.75" stroke="#c5a033" stroke-width="2.8"/>
<circle cx="3050.9" cy="767.7" r="13.2" fill="#fed976" fill-opacity="0.75" stroke="#c5a033" stroke-width="2.8"/>
<circle cx="3078.0" cy="786.8" r="13.2" fill="#fed976" fill-opacity="0.75" stroke="#c5a033" stroke-width="2.8"/>
<circle cx="3115.5" cy="797.0" r="13.2" fill="#fed976" fill-opacity="0.75" stroke="#c5a033" stroke-width="2.8"/>
<circle cx="3166.4" cy="803.7" r="13.2" fill="#fed976" fill-opacity="0.75" stroke="#c5a033" stroke-width="2.8"/>
<circle cx="3174.1" cy="781.6" r="13.2" fill="#fed976" fill-opacity="0.75" stroke="#c5a033" stroke-width="2.8"/>
<circle cx="3213.2" cy="796.0" r="13.2" fill="#fed976" fill-opacity="0.75" stroke="#c5a033" stroke-width="2.8"/>
<circle cx="3243.4" cy="772.9" r="13.2" fill="#fed976" fill-opacity="0.75" stroke="#c5a033" stroke-width="2.8"/>
<circle cx="2993.9" cy="810.8" r="13.2" fill="#fed976" fill-opacity="0.75" stroke="#c5a033" stroke-width="2.8"/>
<circle cx="3014.5" cy="802.2" r="13.2" fill="#fed976" fill-opacity="0.75" stroke="#c5a033" stroke-width="2.8"/>
<circle cx="3004.7" cy="851.5" r="13.2" fill="#fed976" fill-opacity="0.75" stroke="#c5a033" stroke-width="2.8"/>
<circle cx="3020.7" cy="850.9" r="13.2" fill="#fed976" fill-opacity="0.75" stroke="#c5a033" stroke-width="2.8"/>
<circle cx="3135.0" cy="847.5" r="13.2" fill="#fed976" fill-opacity="0.75" stroke="#c5a033" stroke-width="2.8"/>
<circle cx="3145.7" cy="835.2" r="13.2" fill="#fed976" fill-opacity="0.75" stroke="#c5a033" stroke-width="2.8"/>
<circle cx="3169.4" cy="864.4" r="13.2" fill="#fed976" fill-opacity="0.75" stroke="#c5a033" stroke-width="2.8"/>
<circle cx="3252.3" cy="841.9" r="13.2" fill="#fed976" fill-opacity="0.75" stroke="#c5a033" stroke-width="2.8"/>
<circle cx="3204.3" cy="911.5" r="11.3" fill="#fed976" fill-opacity="0.75" stroke="#c5a033" stroke-width="2.8"/>
<circle cx="3155.0" cy="918.3" r="11.3" fill="#fed976" fill-opacity="0.75" stroke="#c5a033" stroke-width="2.8"/>
<circle cx="3136.2" cy="927.6" r="11.3" fill="#fed976" fill-opacity="0.75" stroke="#c5a033" stroke-width="2.8"/>
<circle cx="3174.7" cy="962.4" r="11.3" fill="#fed976" fill-opacity="0.75" stroke="#c5a033" stroke-width="2.8"/>
<circle cx="3205.5" cy="967.3" r="11.3" fill="#fed976" fill-opacity="0.75" stroke="#c5a033" stroke-width="2.8"/>
<circle cx="2880.8" cy="951.9" r="11.3" fill="#fd8d3c" fill-opacity="0.8" stroke="#bd650f" stroke-width="2.8"/>
<circle cx="2831.3" cy="1042.4" r="13.2" fill="#fed976" fill-opacity="0.75" stroke="#c5a033" stroke-width="2.8"/>
</g>
<defs><filter id="sh" x="-20%" y="-20%" width="140%" height="150%"><feDropShadow dx="0" dy="3" stdDeviation="3" flood-color="#000" flood-opacity=".5"/></filter></defs>
<rect x="1780" y="366" width="52" height="104" rx="8" fill="#333" filter="url(#sh)"/><path d="M1780 417.5H1832" stroke="#484848" stroke-width="1.6"/>
<path d="M1796.4 394.4H1817.6M1807 383.8V405" stroke="#e2e2e2" stroke-width="4.6"/><path d="M1798 445.4H1816" stroke="#e2e2e2" stroke-width="5"/>
<rect x="1780" y="490" width="52" height="52" rx="8" fill="#333" filter="url(#sh)"/>
<path d="M1794.6 508.6H1814.4V528.6M1799.2 504V523.4H1819.2" fill="none" stroke="#e2e2e2" stroke-width="4.2"/><path d="M1799.5 523L1816.5 505.5" stroke="#e2e2e2" stroke-width="1.3"/>
<rect x="1780" y="562.4" width="52" height="103.4" rx="8" fill="#333" filter="url(#sh)"/><path d="M1780 612.8H1832" stroke="#484848" stroke-width="1.6"/>
<path d="M1805 576L1817.8 583.6L1815.8 598.6L1801.6 600.6L1794 585.6Z" fill="#e2e2e2"/><rect x="1796" y="629.8" width="20.2" height="20.2" fill="#e2e2e2"/>
<rect x="3052" y="880" width="256" height="234.4" rx="8" fill="#1e1e1e" fill-opacity=".2"/>
<text x="3068.0" y="919.6" font-size="22" fill="#8e8e8e" textLength="65.0" lengthAdjust="spacing" font-weight="bold" stroke="#8e8e8e" stroke-width="0.35" fill-opacity=".92">Count</text>
<circle cx="3078" cy="944.0" r="8.9" fill="#fed976" stroke="#c5a033" stroke-width="2.4" opacity=".95"/>
<text x="3096.4" y="954.0" font-size="22" fill="#8a8a8a" textLength="107.2" lengthAdjust="spacing" stroke="#8a8a8a" stroke-width="0.35" fill-opacity=".95">1 – 5,512.8</text>
<circle cx="3078" cy="978.0" r="8.9" fill="#fd9a42" stroke="#c8700f" stroke-width="2.4" opacity=".95"/>
<text x="3096.4" y="988.0" font-size="22" fill="#8a8a8a" textLength="183.2" lengthAdjust="spacing" stroke="#8a8a8a" stroke-width="0.35" fill-opacity=".95">5,512.8 – 11,024.6</text>
<circle cx="3078" cy="1012.1" r="8.9" fill="#fc4e2a" stroke="#c4140c" stroke-width="2.4" opacity=".95"/>
<text x="3096.4" y="1022.1" font-size="22" fill="#8a8a8a" textLength="196.0" lengthAdjust="spacing" stroke="#8a8a8a" stroke-width="0.35" fill-opacity=".95">11,024.6 – 16,536.4</text>
<circle cx="3078" cy="1046.2" r="8.9" fill="#d7131f" stroke="#9c0a10" stroke-width="2.4" opacity=".95"/>
<text x="3096.4" y="1056.2" font-size="22" fill="#8a8a8a" textLength="196.0" lengthAdjust="spacing" stroke="#8a8a8a" stroke-width="0.35" fill-opacity=".95">16,536.4 – 22,048.2</text>
<circle cx="3078" cy="1080.2" r="8.9" fill="#800026" stroke="#5a0018" stroke-width="2.4" opacity=".95"/>
<text x="3096.4" y="1090.2" font-size="22" fill="#8a8a8a" textLength="177.5" lengthAdjust="spacing" stroke="#8a8a8a" stroke-width="0.35" fill-opacity=".95">22,048.2 – 27,560</text>
<rect x="2786.2" y="1134.3" width="541" height="31.7" fill="#3c3c3c" fill-opacity=".55"/>
<rect x="2820" y="1138.3" width="155.8" height="23.4" fill="#333"/><rect x="3111.9" y="1138.3" width="206.2" height="23.4" fill="#333"/>
<text x="2794.6" y="1157.6" font-size="22" fill="#979797" stroke="#979797" stroke-width="0.35">©</text>
<text x="2820.6" y="1157.6" font-size="22" fill="#ececec" textLength="154.6" lengthAdjust="spacing" stroke="#ececec" stroke-width="0.35">OpenStreetMap</text>
<text x="2982.4" y="1157.6" font-size="22" fill="#8f8f8f" textLength="123.0" lengthAdjust="spacing" stroke="#8f8f8f" stroke-width="0.35">contributors,</text>
<text x="3112.6" y="1157.6" font-size="22" fill="#ececec" textLength="204.8" lengthAdjust="spacing" stroke="#ececec" stroke-width="0.35">Elastic Maps Service</text>
</svg>
<svg class="full" viewBox="0 0 3360 1736" font-family='"Liberation Sans","DejaVu Sans",sans-serif'>
<text x="140.2" y="290.0" font-size="28" fill="#959595" textLength="292.3" lengthAdjust="spacing" stroke="#959595" stroke-width="0.45">Honeytrap Attacks Bar</text>
<text x="1084.2" y="290.0" font-size="28" fill="#959595" textLength="240.3" lengthAdjust="spacing" stroke="#959595" stroke-width="0.45">Honeytrap Attacks</text>
<text x="1760.2" y="290.0" font-size="28" fill="#959595" textLength="291.8" lengthAdjust="spacing" stroke="#959595" stroke-width="0.45">Honeytrap Attack Map</text>
<text x="140.2" y="626.0" font-size="28" fill="#959595" textLength="383.3" lengthAdjust="spacing" stroke="#959595" stroke-width="0.45">Honeytrap Attacks Histogram</text>
<text x="140.2" y="1242.0" font-size="28" fill="#959595" textLength="357.3" lengthAdjust="spacing" stroke="#959595" stroke-width="0.45">Honeytrap - Attacks by Port</text>
<text x="950.2" y="1242.0" font-size="28" fill="#959595" textLength="672.3" lengthAdjust="spacing" stroke="#959595" stroke-width="0.45">Honeytrap - Attacks by Destination Ports Histogram</text>
<text x="2164.2" y="1242.0" font-size="28" fill="#959595" textLength="550.3" lengthAdjust="spacing" stroke="#959595" stroke-width="0.45">Honeytrap - Attacks by Country Histogram</text>
<g><rect x="142" y="366" width="538" height="57" fill="#3da346"/>
<rect x="142" y="423" width="83" height="56.2" fill="#a07a3d"/>
<path d="M142 492V480H686V492" fill="none" stroke="#e4e4e4" stroke-width="2"/>
<path d="M363.8 480V492" fill="none" stroke="#e4e4e4" stroke-width="2"/>
<path d="M455.8 480V492" fill="none" stroke="#e4e4e4" stroke-width="2"/>
<path d="M585.8 480V492" fill="none" stroke="#e4e4e4" stroke-width="2"/>
<text x="363.8" y="513.8" font-size="22" fill="#b2b2b2" textLength="66.5" lengthAdjust="spacing" text-anchor="middle" stroke="#b2b2b2" stroke-width="0.35">20,000</text>
<text x="455.8" y="513.8" font-size="22" fill="#b2b2b2" textLength="66.5" lengthAdjust="spacing" text-anchor="middle" stroke="#b2b2b2" stroke-width="0.35">40,000</text>
<text x="585.8" y="513.8" font-size="22" fill="#b2b2b2" textLength="66.5" lengthAdjust="spacing" text-anchor="middle" stroke="#b2b2b2" stroke-width="0.35">80,000</text>
<circle cx="710.2" cy="380.4" r="13.8" fill="#646464"/>
<path d="M706.6 373.2 L713.8 380.4 L706.6 387.6" fill="none" stroke="#222" stroke-width="4.2" stroke-linejoin="miter"/>
<circle cx="748.3" cy="375.4" r="10.4" fill="#3ec050"/>
<text x="764.8" y="384.1" font-size="24" fill="#b6b6b6" stroke="#b6b6b6" stroke-width=".38">Attacks</text>
<circle cx="748.3" cy="413.4" r="10.4" fill="#c49144"/>
<text x="764.8" y="422.1" font-size="24" fill="#b6b6b6" stroke="#b6b6b6" stroke-width=".38">Unique Src IPs</text></g>
<g><text x="1257.0" y="463.8" font-size="83" fill="#dedede" textLength="290.0" lengthAdjust="spacing" font-weight="bold" text-anchor="middle" stroke="#dedede" stroke-width="1.33">117,281</text>
<text x="1259.4" y="498.2" font-size="28" fill="#dedede" textLength="95.5" lengthAdjust="spacing" text-anchor="middle" stroke="#dedede" stroke-width="0.45">Attacks</text>
<text x="1576.4" y="463.8" font-size="83" fill="#dedede" textLength="208.5" lengthAdjust="spacing" font-weight="bold" text-anchor="middle" stroke="#dedede" stroke-width="1.33">2,807</text>
<text x="1576.0" y="498.2" font-size="28" fill="#dedede" textLength="187.0" lengthAdjust="spacing" text-anchor="middle" stroke="#dedede" stroke-width="0.45">Unique Src IPs</text></g>
<g><clipPath id="c4"><rect x="238" y="690" width="1130" height="372"/></clipPath>
<g clip-path="url(#c4)"><path d="M238.0 1017.5 L256.7 1017.0 L275.4 1016.8 L294.2 1019.8 L312.9 1020.0 L331.6 1018.5 L350.3 1013.8 L369.0 1018.0 L387.8 1017.0 L406.5 1022.5 L425.2 1016.5 L443.9 1018.8 L462.6 1018.8 L481.4 1024.5 L500.1 1018.2 L518.8 1019.0 L537.5 1022.5 L556.2 1018.8 L575.0 1017.0 L593.7 1015.5 L612.4 1021.8 L631.1 1018.0 L649.8 1019.5 L668.6 1015.0 L687.3 1010.5 L706.0 1011.0 L724.7 1013.0 L743.4 1013.5 L763.2 1015.5 L781.9 1013.8 L800.7 1017.0 L819.4 1014.2 L838.1 1015.5 L856.8 1019.5 L875.5 1019.8 L894.3 1017.0 L913.0 1017.0 L931.7 1015.8 L950.4 1012.5 L969.1 1012.8 L987.9 1016.8 L1006.6 1029.0 L1267.8 1050.8" fill="none" stroke="#c49144" stroke-width="3.4" stroke-linejoin="round"/>
<circle cx="238.0" cy="1017.5" r="3.6" fill="#c49144"/>
<circle cx="256.7" cy="1017.0" r="3.6" fill="#c49144"/>
<circle cx="275.4" cy="1016.8" r="3.6" fill="#c49144"/>
<circle cx="294.2" cy="1019.8" r="3.6" fill="#c49144"/>
<circle cx="312.9" cy="1020.0" r="3.6" fill="#c49144"/>
<circle cx="331.6" cy="1018.5" r="3.6" fill="#c49144"/>
<circle cx="350.3" cy="1013.8" r="3.6" fill="#c49144"/>
<circle cx="369.0" cy="1018.0" r="3.6" fill="#c49144"/>
<circle cx="387.8" cy="1017.0" r="3.6" fill="#c49144"/>
<circle cx="406.5" cy="1022.5" r="3.6" fill="#c49144"/>
<circle cx="425.2" cy="1016.5" r="3.6" fill="#c49144"/>
<circle cx="443.9" cy="1018.8" r="3.6" fill="#c49144"/>
<circle cx="462.6" cy="1018.8" r="3.6" fill="#c49144"/>
<circle cx="481.4" cy="1024.5" r="3.6" fill="#c49144"/>
<circle cx="500.1" cy="1018.2" r="3.6" fill="#c49144"/>
<circle cx="518.8" cy="1019.0" r="3.6" fill="#c49144"/>
<circle cx="537.5" cy="1022.5" r="3.6" fill="#c49144"/>
<circle cx="556.2" cy="1018.8" r="3.6" fill="#c49144"/>
<circle cx="575.0" cy="1017.0" r="3.6" fill="#c49144"/>
<circle cx="593.7" cy="1015.5" r="3.6" fill="#c49144"/>
<circle cx="612.4" cy="1021.8" r="3.6" fill="#c49144"/>
<circle cx="631.1" cy="1018.0" r="3.6" fill="#c49144"/>
<circle cx="649.8" cy="1019.5" r="3.6" fill="#c49144"/>
<circle cx="668.6" cy="1015.0" r="3.6" fill="#c49144"/>
<circle cx="687.3" cy="1010.5" r="3.6" fill="#c49144"/>
<circle cx="706.0" cy="1011.0" r="3.6" fill="#c49144"/>
<circle cx="724.7" cy="1013.0" r="3.6" fill="#c49144"/>
<circle cx="743.4" cy="1013.5" r="3.6" fill="#c49144"/>
<circle cx="763.2" cy="1015.5" r="3.6" fill="#c49144"/>
<circle cx="781.9" cy="1013.8" r="3.6" fill="#c49144"/>
<circle cx="800.7" cy="1017.0" r="3.6" fill="#c49144"/>
<circle cx="819.4" cy="1014.2" r="3.6" fill="#c49144"/>
<circle cx="838.1" cy="1015.5" r="3.6" fill="#c49144"/>
<circle cx="856.8" cy="1019.5" r="3.6" fill="#c49144"/>
<circle cx="875.5" cy="1019.8" r="3.6" fill="#c49144"/>
<circle cx="894.3" cy="1017.0" r="3.6" fill="#c49144"/>
<circle cx="913.0" cy="1017.0" r="3.6" fill="#c49144"/>
<circle cx="931.7" cy="1015.8" r="3.6" fill="#c49144"/>
<circle cx="950.4" cy="1012.5" r="3.6" fill="#c49144"/>
<circle cx="969.1" cy="1012.8" r="3.6" fill="#c49144"/>
<circle cx="987.9" cy="1016.8" r="3.6" fill="#c49144"/>
<circle cx="1006.6" cy="1029.0" r="3.6" fill="#c49144"/>
<circle cx="1267.8" cy="1050.8" r="3.6" fill="#c49144"/><path d="M238.0 951.2 L256.8 962.5 L275.2 982.0 L293.8 963.8 L312.5 920.5 L331.2 981.8 L350.0 977.5 L370.0 939.2 L388.8 873.8 L407.5 989.5 L426.2 972.5 L445.0 976.8 L463.8 954.2 L482.0 962.5 L500.8 938.0 L519.5 975.0 L538.2 993.8 L557.0 948.8 L575.5 863.8 L594.2 941.2 L613.0 963.0 L631.8 872.5 L650.5 798.8 L669.2 769.5 L688.0 736.2 L706.8 737.5 L725.5 820.0 L744.2 858.0 L763.0 830.8 L781.8 858.0 L800.5 830.0 L819.0 867.0 L837.8 936.2 L856.5 711.8 L875.0 837.0 L893.8 833.2 L912.5 835.0 L931.2 833.2 L950.0 831.8 L968.8 750.8 L987.2 857.5 L1006.0 902.5 L1267.8 1035.0" fill="none" stroke="#3ec050" stroke-width="3.4" stroke-linejoin="round"/>
<circle cx="238.0" cy="951.2" r="3.6" fill="#3ec050"/>
<circle cx="256.8" cy="962.5" r="3.6" fill="#3ec050"/>
<circle cx="275.2" cy="982.0" r="3.6" fill="#3ec050"/>
<circle cx="293.8" cy="963.8" r="3.6" fill="#3ec050"/>
<circle cx="312.5" cy="920.5" r="3.6" fill="#3ec050"/>
<circle cx="331.2" cy="981.8" r="3.6" fill="#3ec050"/>
<circle cx="350.0" cy="977.5" r="3.6" fill="#3ec050"/>
<circle cx="370.0" cy="939.2" r="3.6" fill="#3ec050"/>
<circle cx="388.8" cy="873.8" r="3.6" fill="#3ec050"/>
<circle cx="407.5" cy="989.5" r="3.6" fill="#3ec050"/>
<circle cx="426.2" cy="972.5" r="3.6" fill="#3ec050"/>
<circle cx="445.0" cy="976.8" r="3.6" fill="#3ec050"/>
<circle cx="463.8" cy="954.2" r="3.6" fill="#3ec050"/>
<circle cx="482.0" cy="962.5" r="3.6" fill="#3ec050"/>
<circle cx="500.8" cy="938.0" r="3.6" fill="#3ec050"/>
<circle cx="519.5" cy="975.0" r="3.6" fill="#3ec050"/>
<circle cx="538.2" cy="993.8" r="3.6" fill="#3ec050"/>
<circle cx="557.0" cy="948.8" r="3.6" fill="#3ec050"/>
<circle cx="575.5" cy="863.8" r="3.6" fill="#3ec050"/>
<circle cx="594.2" cy="941.2" r="3.6" fill="#3ec050"/>
<circle cx="613.0" cy="963.0" r="3.6" fill="#3ec050"/>
<circle cx="631.8" cy="872.5" r="3.6" fill="#3ec050"/>
<circle cx="650.5" cy="798.8" r="3.6" fill="#3ec050"/>
<circle cx="669.2" cy="769.5" r="3.6" fill="#3ec050"/>
<circle cx="688.0" cy="736.2" r="3.6" fill="#3ec050"/>
<circle cx="706.8" cy="737.5" r="3.6" fill="#3ec050"/>
<circle cx="725.5" cy="820.0" r="3.6" fill="#3ec050"/>
<circle cx="744.2" cy="858.0" r="3.6" fill="#3ec050"/>
<circle cx="763.0" cy="830.8" r="3.6" fill="#3ec050"/>
<circle cx="781.8" cy="858.0" r="3.6" fill="#3ec050"/>
<circle cx="800.5" cy="830.0" r="3.6" fill="#3ec050"/>
<circle cx="819.0" cy="867.0" r="3.6" fill="#3ec050"/>
<circle cx="837.8" cy="936.2" r="3.6" fill="#3ec050"/>
<circle cx="856.5" cy="711.8" r="3.6" fill="#3ec050"/>
<circle cx="875.0" cy="837.0" r="3.6" fill="#3ec050"/>
<circle cx="893.8" cy="833.2" r="3.6" fill="#3ec050"/>
<circle cx="912.5" cy="835.0" r="3.6" fill="#3ec050"/>
<circle cx="931.2" cy="833.2" r="3.6" fill="#3ec050"/>
<circle cx="950.0" cy="831.8" r="3.6" fill="#3ec050"/>
<circle cx="968.8" cy="750.8" r="3.6" fill="#3ec050"/>
<circle cx="987.2" cy="857.5" r="3.6" fill="#3ec050"/>
<circle cx="1006.0" cy="902.5" r="3.6" fill="#3ec050"/>
<circle cx="1267.8" cy="1035.0" r="3.6" fill="#3ec050"/></g>
<path d="M226 702H238V1062" fill="none" stroke="#e4e4e4" stroke-width="2"/>
<path d="M226 739.5H238" fill="none" stroke="#e4e4e4" stroke-width="2"/>
<path d="M226 782.6H238" fill="none" stroke="#e4e4e4" stroke-width="2"/>
<path d="M226 833H238" fill="none" stroke="#e4e4e4" stroke-width="2"/>
<path d="M226 900.6H238" fill="none" stroke="#e4e4e4" stroke-width="2"/>
<path d="M226 1062H1362M238 1062V1074M1362 1062V1074" fill="none" stroke="#e4e4e4" stroke-width="2"/>
<path d="M353 1062V1074" fill="none" stroke="#e4e4e4" stroke-width="2"/>
<path d="M615 1062V1074" fill="none" stroke="#e4e4e4" stroke-width="2"/>
<path d="M877 1062V1074" fill="none" stroke="#e4e4e4" stroke-width="2"/>
<path d="M1139 1062V1074" fill="none" stroke="#e4e4e4" stroke-width="2"/>
<text x="219.4" y="709.8" font-size="22" fill="#b2b2b2" text-anchor="end" stroke="#b2b2b2" stroke-width="0.35">10,000</text>
<text x="219.4" y="747.3" font-size="22" fill="#b2b2b2" text-anchor="end" stroke="#b2b2b2" stroke-width="0.35">8,000</text>
<text x="219.4" y="790.4" font-size="22" fill="#b2b2b2" text-anchor="end" stroke="#b2b2b2" stroke-width="0.35">6,000</text>
<text x="219.4" y="840.8" font-size="22" fill="#b2b2b2" text-anchor="end" stroke="#b2b2b2" stroke-width="0.35">4,000</text>
<text x="219.4" y="908.4" font-size="22" fill="#b2b2b2" text-anchor="end" stroke="#b2b2b2" stroke-width="0.35">2,000</text>
<text x="219.4" y="1069.8" font-size="22" fill="#b2b2b2" text-anchor="end" stroke="#b2b2b2" stroke-width="0.35">0</text>
<text x="353.0" y="1095.4" font-size="22" fill="#b2b2b2" textLength="172.0" lengthAdjust="spacing" text-anchor="middle" stroke="#b2b2b2" stroke-width="0.35">2018-10-28 02:00</text>
<text x="615.0" y="1095.4" font-size="22" fill="#b2b2b2" textLength="172.0" lengthAdjust="spacing" text-anchor="middle" stroke="#b2b2b2" stroke-width="0.35">2018-11-04 01:00</text>
<text x="877.0" y="1095.4" font-size="22" fill="#b2b2b2" textLength="172.0" lengthAdjust="spacing" text-anchor="middle" stroke="#b2b2b2" stroke-width="0.35">2018-11-11 01:00</text>
<text x="1139.0" y="1095.4" font-size="22" fill="#b2b2b2" textLength="172.0" lengthAdjust="spacing" text-anchor="middle" stroke="#b2b2b2" stroke-width="0.35">2018-11-18 01:00</text>
<text x="800.0" y="1132.4" font-size="24" fill="#b2b2b2" textLength="133.0" lengthAdjust="spacing" font-weight="bold" text-anchor="middle" stroke="#b2b2b2" stroke-width="0.38">Timestamp</text>
<circle cx="1386.5" cy="716.5" r="13.8" fill="#646464"/>
<path d="M1382.9 709.3 L1390.1 716.5 L1382.9 723.7" fill="none" stroke="#222" stroke-width="4.2" stroke-linejoin="miter"/>
<circle cx="1424.6" cy="711.5" r="10.4" fill="#3ec050"/>
<text x="1441.1" y="720.2" font-size="24" fill="#b6b6b6" stroke="#b6b6b6" stroke-width=".38">Attacks</text>
<circle cx="1424.6" cy="749.5" r="10.4" fill="#c49144"/>
<text x="1441.1" y="758.2" font-size="24" fill="#b6b6b6" stroke="#b6b6b6" stroke-width=".38">Unique Src IPs</text></g>
<g><path d="M347.00 1353.30A186.5 186.5 0 0 1 532.30 1560.91L478.65 1554.80A132.5 132.5 0 0 0 347.00 1407.30Z" fill="#73c03f" stroke="#262626" stroke-width="3.6" stroke-linejoin="round"/>
<path d="M532.30 1560.91A186.5 186.5 0 0 1 342.77 1726.25L343.99 1672.27A132.5 132.5 0 0 0 478.65 1554.80Z" fill="#8f3fc2" stroke="#262626" stroke-width="3.6" stroke-linejoin="round"/>
<path d="M342.77 1726.25A186.5 186.5 0 0 1 163.00 1570.26L216.28 1561.44A132.5 132.5 0 0 0 343.99 1672.27Z" fill="#c23fa8" stroke="#262626" stroke-width="3.6" stroke-linejoin="round"/>
<path d="M163.00 1570.26A186.5 186.5 0 0 1 176.36 1464.54L225.77 1486.33A132.5 132.5 0 0 0 216.28 1561.44Z" fill="#3fc25b" stroke="#262626" stroke-width="3.6" stroke-linejoin="round"/>
<path d="M176.36 1464.54A186.5 186.5 0 0 1 223.42 1400.12L259.20 1440.56A132.5 132.5 0 0 0 225.77 1486.33Z" fill="#c29b45" stroke="#262626" stroke-width="3.6" stroke-linejoin="round"/>
<path d="M223.42 1400.12A186.5 186.5 0 0 1 293.10 1361.26L308.70 1412.96A132.5 132.5 0 0 0 259.20 1440.56Z" fill="#3f6dc2" stroke="#262626" stroke-width="3.6" stroke-linejoin="round"/>
<path d="M293.10 1361.26A186.5 186.5 0 0 1 312.69 1356.48L322.63 1409.56A132.5 132.5 0 0 0 308.70 1412.96Z" fill="#c23f4c" stroke="#262626" stroke-width="3.6" stroke-linejoin="round"/>
<path d="M312.69 1356.48A186.5 186.5 0 0 1 326.21 1354.46L332.23 1408.13A132.5 132.5 0 0 0 322.63 1409.56Z" fill="#3fc2ba" stroke="#262626" stroke-width="3.6" stroke-linejoin="round"/>
<path d="M326.21 1354.46A186.5 186.5 0 0 1 339.84 1353.44L341.91 1407.40A132.5 132.5 0 0 0 332.23 1408.13Z" fill="#8fc23f" stroke="#262626" stroke-width="3.6" stroke-linejoin="round"/>
<path d="M339.84 1353.44A186.5 186.5 0 0 1 345.70 1353.30L346.07 1407.30A132.5 132.5 0 0 0 341.91 1407.40Z" fill="#7b3fc2" stroke="#262626" stroke-width="3.6" stroke-linejoin="round"/>
<path d="M345.70 1353.30A186.5 186.5 0 0 1 347.00 1353.30L347.00 1407.30A132.5 132.5 0 0 0 346.07 1407.30Z" fill="#c23f8a" stroke="#262626" stroke-width="3.6" stroke-linejoin="round"/>
<circle cx="576.1" cy="1332.5" r="13.8" fill="#646464"/>
<path d="M572.5 1325.3 L579.7 1332.5 L572.5 1339.7" fill="none" stroke="#222" stroke-width="4.2" stroke-linejoin="miter"/>
<circle cx="614.2" cy="1327.5" r="10.4" fill="#73c03f"/>
<text x="630.7" y="1336.2" font-size="24" fill="#b6b6b6" stroke="#b6b6b6" stroke-width=".38">5901</text>
<circle cx="614.2" cy="1365.5" r="10.4" fill="#8f3fc2"/>
<text x="630.7" y="1374.2" font-size="24" fill="#b6b6b6" stroke="#b6b6b6" stroke-width=".38">5959</text>
<circle cx="614.2" cy="1403.5" r="10.4" fill="#c23fa8"/>
<text x="630.7" y="1412.2" font-size="24" fill="#b6b6b6" stroke="#b6b6b6" stroke-width=".38">6900</text>
<circle cx="614.2" cy="1441.5" r="10.4" fill="#3fc25b"/>
<text x="630.7" y="1450.2" font-size="24" fill="#b6b6b6" stroke="#b6b6b6" stroke-width=".38">5038</text>
<circle cx="614.2" cy="1479.5" r="10.4" fill="#c29b45"/>
<text x="630.7" y="1488.2" font-size="24" fill="#b6b6b6" stroke="#b6b6b6" stroke-width=".38">5902</text>
<circle cx="614.2" cy="1517.5" r="10.4" fill="#3f6dc2"/>
<text x="630.7" y="1526.2" font-size="24" fill="#b6b6b6" stroke="#b6b6b6" stroke-width=".38">2323</text>
<circle cx="614.2" cy="1555.5" r="10.4" fill="#c23f4c"/>
<text x="630.7" y="1564.2" font-size="24" fill="#b6b6b6" stroke="#b6b6b6" stroke-width=".38">8080</text>
<circle cx="614.2" cy="1593.5" r="10.4" fill="#3fc2ba"/>
<text x="630.7" y="1602.2" font-size="24" fill="#b6b6b6" stroke="#b6b6b6" stroke-width=".38">6379</text>
<circle cx="614.2" cy="1631.5" r="10.4" fill="#8fc23f"/>
<text x="630.7" y="1640.2" font-size="24" fill="#b6b6b6" stroke="#b6b6b6" stroke-width=".38">5555</text>
<circle cx="614.2" cy="1669.5" r="10.4" fill="#7b3fc2"/>
<text x="630.7" y="1678.2" font-size="24" fill="#b6b6b6" stroke="#b6b6b6" stroke-width=".38">8545</text></g>
<g><path d="M1131.0 1677.8L1131.0 1651.2L1205.7 1651.2L1205.7 1668.6L1216.9 1668.6L1216.9 1666.3L1277.5 1666.3L1277.5 1660.4L1289.9 1660.4L1289.9 1508.7L1302.1 1508.7L1302.1 1385.8L1315.2 1385.8L1315.2 1425.2L1326.6 1425.2L1326.6 1414.7L1339.7 1414.7L1339.7 1491.0L1352.2 1491.0L1352.2 1677.8Z" fill="#548734" stroke="#69a93a" stroke-width="1.6"/>
<path d="M1302.1 1677.8L1302.1 1666.0L1314.2 1666.0L1314.2 1544.8L1326.6 1544.8L1326.6 1511.3L1338.8 1511.3L1338.8 1503.8L1352.2 1503.8L1352.2 1677.8Z" fill="#a0963c" stroke="#b3a540" stroke-width="1.6"/>
<rect x="1338.8" y="1533.6" width="13.4" height="144.2" fill="#aa8264"/>
<path d="M1352.2 1677.8L1352.2 1526.7L1364.3 1526.7L1364.3 1526.1L1376.4 1526.1L1376.4 1526.7L1399.4 1526.7L1399.4 1677.8Z" fill="#643284" stroke="#7d3aa8" stroke-width="1.6"/>
<path d="M1352.2 1677.8L1352.2 1535.9L1364.3 1535.9L1364.3 1541.8L1376.4 1541.8L1376.4 1596.5L1387.2 1596.5L1387.2 1592.3L1399.4 1592.3L1399.4 1677.8Z" fill="#7e5d91"/>
<rect x="1387.2" y="1604.7" width="12.1" height="73.1" fill="#a84ba0"/>
<path d="M1399.7 1677.8L1399.7 1501.5L1412.8 1501.5L1412.8 1551.3L1438.0 1551.3L1438.0 1532.6L1448.2 1532.6L1448.2 1499.9L1522.5 1499.9L1522.5 1502.2L1534.7 1502.2L1534.7 1557.5L1705.7 1557.5L1705.7 1677.8Z" fill="#883474"/>
<path d="M1399.7 1677.8L1399.7 1527.1L1412.8 1527.1L1412.8 1571.3L1438.0 1571.3L1438.0 1553.9L1448.2 1553.9L1448.2 1526.1L1522.5 1526.1L1522.5 1528.4L1534.7 1528.4L1534.7 1576.2L1705.7 1576.2L1705.7 1677.8Z" fill="#a13a99"/>
<path d="M1399.7 1677.8L1399.7 1598.2L1438.0 1598.2L1438.0 1588.3L1461.9 1588.3L1461.9 1597.2L1498.6 1597.2L1498.6 1672.5L1509.4 1672.5L1509.4 1666.3L1522.5 1666.3L1522.5 1677.8Z" fill="#a84ba0"/>
<rect x="1423.6" y="1620.1" width="13.8" height="57.7" fill="#709b76"/>
<rect x="1436.2" y="1320.3" width="1.8" height="357.5" fill="#46a455"/>
<path d="M1022.4 1317H1034.4V1677.8" fill="none" stroke="#e4e4e4" stroke-width="2"/>
<path d="M1022.4 1331.8H1034.4" fill="none" stroke="#e4e4e4" stroke-width="2"/>
<path d="M1022.4 1361.6H1034.4" fill="none" stroke="#e4e4e4" stroke-width="2"/>
<path d="M1022.4 1395.7H1034.4" fill="none" stroke="#e4e4e4" stroke-width="2"/>
<path d="M1022.4 1432.7H1034.4" fill="none" stroke="#e4e4e4" stroke-width="2"/>
<path d="M1022.4 1477.9H1034.4" fill="none" stroke="#e4e4e4" stroke-width="2"/>
<path d="M1022.4 1536.6H1034.4" fill="none" stroke="#e4e4e4" stroke-width="2"/>
<path d="M1022.4 1677.8H1766M1034.4 1677.8V1689.8M1766 1677.8V1689.8M1278.8 1677.8V1689.8M1620 1677.8V1689.8" fill="none" stroke="#e4e4e4" stroke-width="2"/>
<text x="1015.8" y="1339.6" font-size="22" fill="#b2b2b2" text-anchor="end" stroke="#b2b2b2" stroke-width="0.35">6,000</text>
<text x="1015.8" y="1369.4" font-size="22" fill="#b2b2b2" text-anchor="end" stroke="#b2b2b2" stroke-width="0.35">5,000</text>
<text x="1015.8" y="1403.5" font-size="22" fill="#b2b2b2" text-anchor="end" stroke="#b2b2b2" stroke-width="0.35">4,000</text>
<text x="1015.8" y="1440.5" font-size="22" fill="#b2b2b2" text-anchor="end" stroke="#b2b2b2" stroke-width="0.35">3,000</text>
<text x="1015.8" y="1485.7" font-size="22" fill="#b2b2b2" text-anchor="end" stroke="#b2b2b2" stroke-width="0.35">2,000</text>
<text x="1015.8" y="1544.4" font-size="22" fill="#b2b2b2" text-anchor="end" stroke="#b2b2b2" stroke-width="0.35">1,000</text>
<text x="1015.8" y="1685.6" font-size="22" fill="#b2b2b2" text-anchor="end" stroke="#b2b2b2" stroke-width="0.35">0</text>
<text x="1278.8" y="1711.4" font-size="22" fill="#b2b2b2" textLength="172.0" lengthAdjust="spacing" text-anchor="middle" stroke="#b2b2b2" stroke-width="0.35">2018-11-04 01:00</text>
<text x="1620.0" y="1711.4" font-size="22" fill="#b2b2b2" textLength="172.0" lengthAdjust="spacing" text-anchor="middle" stroke="#b2b2b2" stroke-width="0.35">2018-11-18 01:00</text>
<text x="1400.0" y="1748.2" font-size="24" fill="#b2b2b2" textLength="133.0" lengthAdjust="spacing" font-weight="bold" text-anchor="middle" stroke="#b2b2b2" stroke-width="0.38">Timestamp</text>
<circle cx="1790.2" cy="1332.4" r="13.8" fill="#646464"/>
<path d="M1786.6 1325.2 L1793.8 1332.4 L1786.6 1339.6" fill="none" stroke="#222" stroke-width="4.2" stroke-linejoin="miter"/>
<circle cx="1828.3" cy="1327.4" r="10.4" fill="#73c03f"/>
<text x="1844.8" y="1336.1" font-size="24" fill="#b6b6b6" stroke="#b6b6b6" stroke-width=".38">5901</text>
<circle cx="1828.3" cy="1365.4" r="10.4" fill="#8f3fc2"/>
<text x="1844.8" y="1374.1" font-size="24" fill="#b6b6b6" stroke="#b6b6b6" stroke-width=".38">5959</text>
<circle cx="1828.3" cy="1403.4" r="10.4" fill="#c23fa8"/>
<text x="1844.8" y="1412.1" font-size="24" fill="#b6b6b6" stroke="#b6b6b6" stroke-width=".38">6900</text>
<circle cx="1828.3" cy="1441.4" r="10.4" fill="#3fc25b"/>
<text x="1844.8" y="1450.1" font-size="24" fill="#b6b6b6" stroke="#b6b6b6" stroke-width=".38">5038</text>
<circle cx="1828.3" cy="1479.4" r="10.4" fill="#c29b45"/>
<text x="1844.8" y="1488.1" font-size="24" fill="#b6b6b6" stroke="#b6b6b6" stroke-width=".38">5902</text></g>
<g><clipPath id="c7"><rect x="2248.3" y="1310" width="740" height="367.8"/></clipPath><g clip-path="url(#c7)">
<path d="M2248.3 1677.8L2248.3 1667.0L2309.2 1668.6L2370.2 1663.7L2443.3 1660.4L2455.5 1627.7L2467.7 1491.7L2479.9 1627.7L2492.1 1647.3L2516.4 1657.1L2540.8 1653.9L2553.0 1541.8L2565.2 1539.2L2577.4 1533.3L2589.6 1537.5L2601.8 1536.9L2614.0 1541.8L2626.1 1578.5L2638.3 1627.7L2650.5 1337.0L2662.7 1540.8L2674.9 1540.8L2699.3 1540.2L2711.5 1529.4L2723.7 1539.2L2735.8 1540.2L2748.0 1585.1L2919.5 1662.1L2919.5 1677.8Z" fill="#50c378" fill-opacity="0.62" stroke="#50c378" stroke-opacity=".75" stroke-width="1.4"/>
<path d="M2248.3 1677.8L2248.3 1647.3L2272.7 1667.0L2284.9 1640.8L2297.1 1627.7L2309.2 1667.0L2321.4 1642.4L2333.6 1653.9L2345.8 1667.0L2358.0 1660.4L2370.2 1658.8L2394.6 1663.7L2406.7 1653.9L2418.9 1627.7L2431.1 1653.9L2443.3 1655.5L2455.5 1621.1L2467.7 1630.9L2479.9 1604.7L2492.1 1640.8L2504.3 1640.8L2516.4 1657.1L2528.6 1663.7L2540.8 1627.7L2553.0 1542.5L2565.2 1624.4L2577.4 1629.3L2589.6 1627.7L2601.8 1581.8L2614.0 1519.5L2626.1 1562.1L2638.3 1630.9L2650.5 1545.7L2662.7 1517.2L2674.9 1516.9L2723.7 1516.9L2735.8 1519.5L2748.0 1569.7L2919.5 1657.8L2919.5 1677.8Z" fill="#6b87dc" fill-opacity="0.62" stroke="#6b87dc" stroke-opacity=".75" stroke-width="1.4"/>
<path d="M2248.3 1677.8L2248.3 1623.7L2260.5 1636.8L2272.7 1630.9L2284.9 1627.7L2297.1 1621.8L2309.2 1635.8L2321.4 1630.3L2333.6 1599.8L2345.8 1630.9L2358.0 1642.4L2370.2 1649.0L2382.4 1627.7L2394.6 1606.4L2406.7 1644.0L2418.9 1596.5L2431.1 1640.8L2443.3 1647.3L2455.5 1591.6L2467.7 1627.7L2479.9 1590.0L2492.1 1615.2L2504.3 1616.8L2516.4 1627.7L2528.6 1611.3L2540.8 1624.4L2553.0 1594.9L2565.2 1594.9L2577.4 1624.4L2589.6 1573.6L2601.8 1581.1L2614.0 1598.2L2626.1 1624.4L2638.3 1627.7L2650.5 1588.3L2662.7 1598.2L2674.9 1606.4L2687.1 1563.1L2699.3 1594.9L2711.5 1603.1L2723.7 1609.6L2735.8 1630.9L2748.0 1603.1L2882.1 1660.4L2919.5 1667.0L2919.5 1677.8Z" fill="#643cb9" fill-opacity="0.66" stroke="#643cb9" stroke-opacity=".75" stroke-width="1.4"/>
<path d="M2248.3 1677.8L2248.3 1667.0L2272.7 1668.6L2297.1 1666.3L2321.4 1663.7L2345.8 1667.0L2370.2 1664.4L2406.7 1668.6L2431.1 1662.1L2455.5 1665.3L2479.9 1663.7L2504.3 1666.3L2516.4 1667.0L2528.6 1534.3L2540.8 1495.0L2553.0 1518.9L2565.2 1627.7L2577.4 1663.7L2579.8 1660.4L2589.6 1535.9L2601.8 1665.3L2626.1 1666.3L2650.5 1663.7L2687.1 1668.6L2711.5 1663.0L2713.9 1627.7L2723.7 1424.5L2734.6 1627.7L2735.8 1665.3L2748.0 1666.0L2748.6 1677.8L2748.6 1677.8Z" fill="#be50c3" fill-opacity="0.66" stroke="#be50c3" stroke-opacity=".75" stroke-width="1.4"/>
<path d="M2516.4 1677.8L2516.4 1676.8L2528.6 1601.4L2540.8 1624.4L2553.0 1572.0L2565.2 1660.4L2565.2 1677.8Z" fill="#be50c3" fill-opacity="0.5" stroke="#be50c3" stroke-opacity=".75" stroke-width="1.4"/>
<path d="M2248.3 1677.8L2248.3 1630.9L2260.5 1614.5L2272.7 1642.4L2284.9 1621.1L2297.1 1626.0L2309.2 1647.3L2321.4 1640.8L2333.6 1604.7L2345.8 1630.9L2358.0 1635.8L2370.2 1625.0L2382.4 1632.6L2394.6 1633.6L2406.7 1609.6L2418.9 1649.0L2431.1 1649.9L2443.3 1649.9L2455.5 1640.8L2467.7 1630.3L2479.9 1633.6L2492.1 1631.6L2504.3 1634.2L2516.4 1640.1L2528.6 1639.1L2540.8 1625.0L2553.0 1619.5L2565.2 1589.0L2577.4 1622.7L2589.6 1625.0L2601.8 1630.9L2614.0 1598.2L2626.1 1591.0L2638.3 1611.3L2650.5 1634.2L2662.7 1639.1L2674.9 1628.6L2687.1 1643.4L2699.3 1622.7L2711.5 1616.8L2723.7 1635.8L2735.8 1631.6L2748.0 1617.8L2919.5 1670.2L2919.5 1677.8Z" fill="#a03232" fill-opacity="0.66" stroke="#a03232" stroke-opacity=".75" stroke-width="1.4"/>
</g>
<path d="M2236.3 1317H2248.3V1677.8" fill="none" stroke="#e4e4e4" stroke-width="2"/>
<path d="M2236.3 1365.5H2248.3" fill="none" stroke="#e4e4e4" stroke-width="2"/>
<path d="M2236.3 1422.9H2248.3" fill="none" stroke="#e4e4e4" stroke-width="2"/>
<path d="M2236.3 1497.6H2248.3" fill="none" stroke="#e4e4e4" stroke-width="2"/>
<path d="M2236.3 1677.8H2980M2248.3 1677.8V1689.8M2980 1677.8V1689.8M2494 1677.8V1689.8M2835 1677.8V1689.8" fill="none" stroke="#e4e4e4" stroke-width="2"/>
<text x="2229.7" y="1324.8" font-size="22" fill="#b2b2b2" text-anchor="end" stroke="#b2b2b2" stroke-width="0.35">8,000</text>
<text x="2229.7" y="1373.3" font-size="22" fill="#b2b2b2" text-anchor="end" stroke="#b2b2b2" stroke-width="0.35">6,000</text>
<text x="2229.7" y="1430.7" font-size="22" fill="#b2b2b2" text-anchor="end" stroke="#b2b2b2" stroke-width="0.35">4,000</text>
<text x="2229.7" y="1505.4" font-size="22" fill="#b2b2b2" text-anchor="end" stroke="#b2b2b2" stroke-width="0.35">2,000</text>
<text x="2229.7" y="1685.6" font-size="22" fill="#b2b2b2" text-anchor="end" stroke="#b2b2b2" stroke-width="0.35">0</text>
<text x="2494.0" y="1711.4" font-size="22" fill="#b2b2b2" textLength="172.0" lengthAdjust="spacing" text-anchor="middle" stroke="#b2b2b2" stroke-width="0.35">2018-11-04 01:00</text>
<text x="2835.0" y="1711.4" font-size="22" fill="#b2b2b2" textLength="172.0" lengthAdjust="spacing" text-anchor="middle" stroke="#b2b2b2" stroke-width="0.35">2018-11-18 01:00</text>
<text x="2614.0" y="1748.2" font-size="24" fill="#b2b2b2" textLength="133.0" lengthAdjust="spacing" font-weight="bold" text-anchor="middle" stroke="#b2b2b2" stroke-width="0.38">Timestamp</text>
<circle cx="3004.0" cy="1332.4" r="13.8" fill="#646464"/>
<path d="M3000.4 1325.2 L3007.6 1332.4 L3000.4 1339.6" fill="none" stroke="#222" stroke-width="4.2" stroke-linejoin="miter"/>
<circle cx="3042.1" cy="1327.4" r="10.4" fill="#50c378"/>
<text x="3058.6" y="1336.1" font-size="24" fill="#b6b6b6" stroke="#b6b6b6" stroke-width=".38">Netherlands</text>
<circle cx="3042.1" cy="1365.4" r="10.4" fill="#6b87dc"/>
<text x="3058.6" y="1374.1" font-size="24" fill="#b6b6b6" stroke="#b6b6b6" stroke-width=".38">Germany</text>
<circle cx="3042.1" cy="1403.4" r="10.4" fill="#643cb9"/>
<text x="3058.6" y="1412.1" font-size="24" fill="#b6b6b6" stroke="#b6b6b6" stroke-width=".38">Russia</text>
<circle cx="3042.1" cy="1441.4" r="10.4" fill="#be50c3"/>
<text x="3058.6" y="1450.1" font-size="24" fill="#b6b6b6" stroke="#b6b6b6" stroke-width=".38">Seychelles</text>
<circle cx="3042.1" cy="1479.4" r="10.4" fill="#a03232"/>
<text x="3058.6" y="1488.1" font-size="24" fill="#b6b6b6" stroke="#b6b6b6" stroke-width=".38">United States</text></g>
</svg>
</body></html>
